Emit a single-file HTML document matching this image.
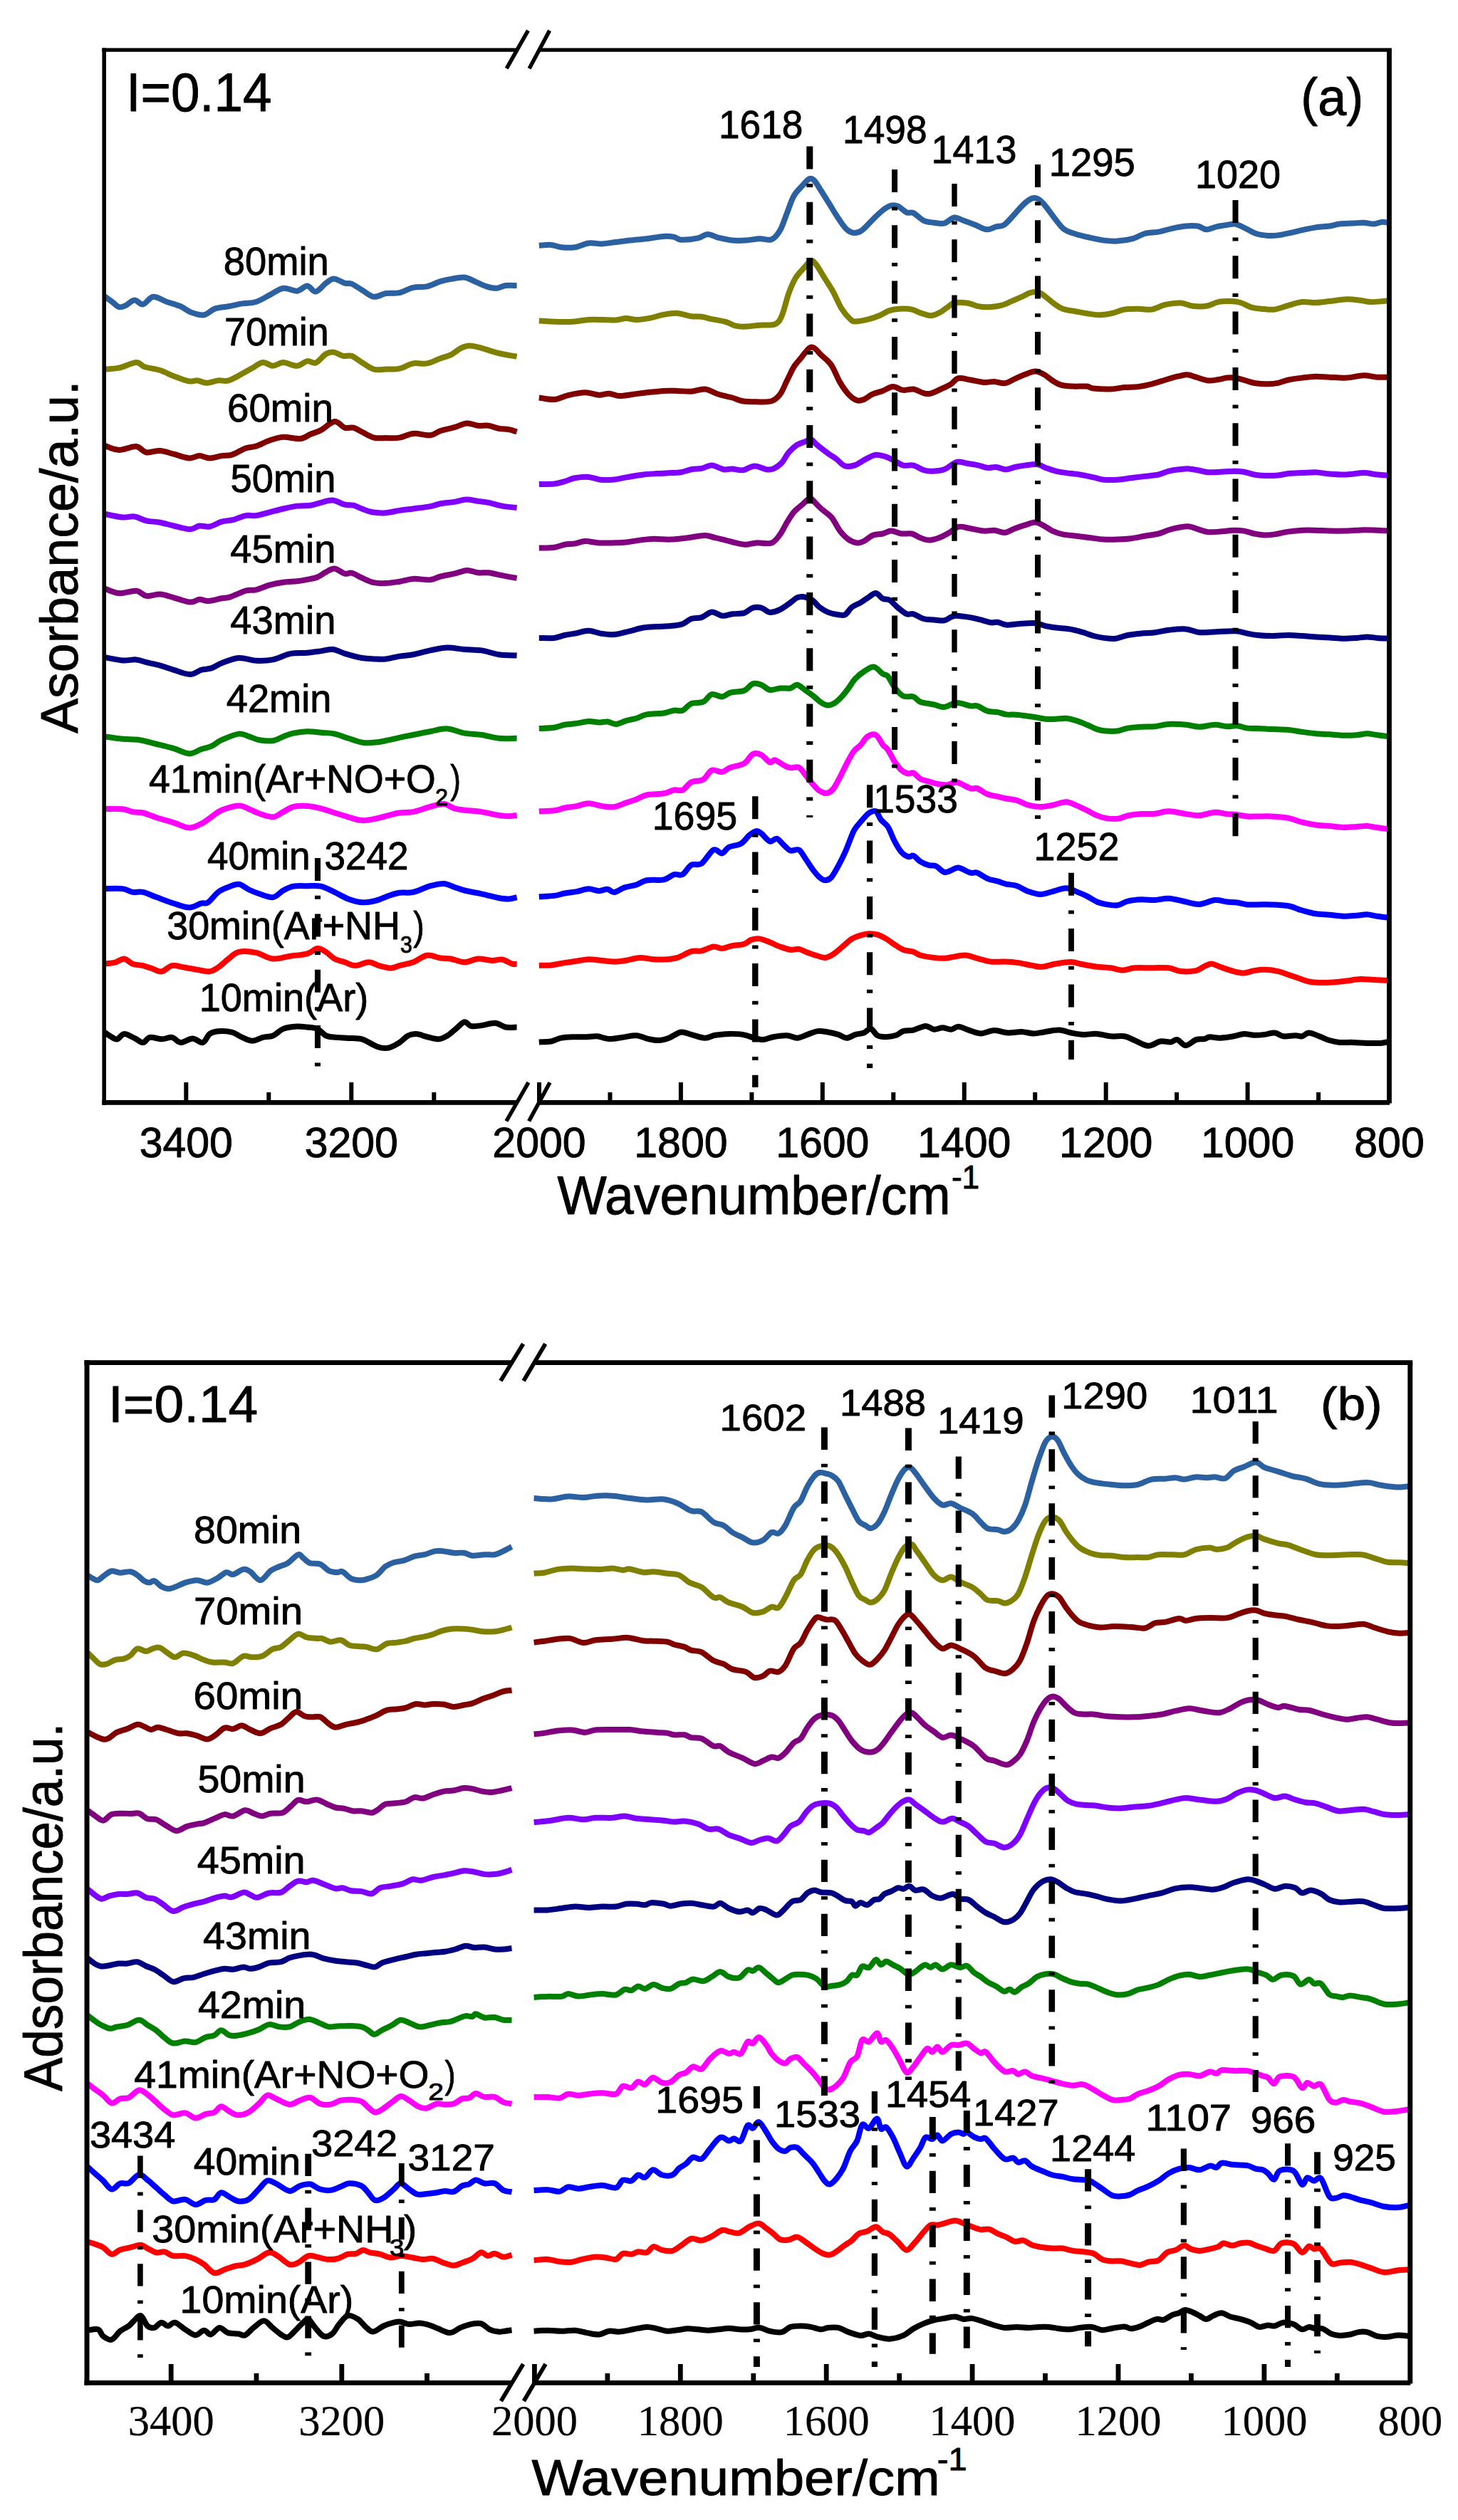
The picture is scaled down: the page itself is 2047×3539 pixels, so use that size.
<!DOCTYPE html>
<html><head><meta charset="utf-8"><title>figure</title>
<style>html,body{margin:0;padding:0;background:#fff}svg{display:block}text{fill:#000;stroke:#000;stroke-width:0.9px;stroke-linejoin:round}.s{font-family:"Liberation Sans",sans-serif}.t{font-family:"Liberation Serif",serif;stroke-width:0.2px}</style></head>
<body>
<svg width="2047" height="3539" viewBox="0 0 2047 3539">
<rect width="2047" height="3539" fill="#fff"/>
<g fill="none" stroke-linejoin="round" stroke-linecap="butt">
<path stroke="#2b60a1" stroke-width="8" d="M146.6,415.9 C148.4,417.2 154.2,421.4 157.6,424 C161.0,426.6 164.0,430.4 167.2,431.2 C170.4,432.0 173.2,430.4 176.8,428.8 C180.4,427.2 184.8,421.8 188.8,421.6 C192.8,421.4 196.4,428.2 200.8,427.4 C205.2,426.6 209.6,417.4 215.2,416.8 C220.8,416.2 228.0,421.8 234.4,424 C240.8,426.2 248.0,427.9 253.6,430.3 C259.2,432.7 262.6,436.4 268,438.4 C273.4,440.4 280.7,443.1 286.3,442.3 C291.9,441.5 295.8,435.6 301.6,433.6 C307.4,431.6 314.5,431.5 320.9,430.3 C327.3,429.1 333.7,427.4 340.1,426.4 C346.5,425.3 352.9,426.0 359.3,424 C365.7,422.0 372.1,417.6 378.5,414.4 C384.9,411.2 391.3,405.8 397.7,404.8 C404.1,403.9 411.3,409.2 416.9,408.7 C422.5,408.1 426.9,401.4 431.3,401.5 C435.7,401.6 438.9,410.2 443.3,409.6 C447.7,409.0 453.5,400.6 457.7,397.6 C461.9,394.6 464.3,391.4 468.7,391.4 C473.1,391.4 479.9,396.4 484.1,397.6 C488.3,398.8 489.7,397.0 493.7,398.6 C497.7,400.2 502.9,404.2 508.1,407.2 C513.3,410.2 519.3,416.0 524.9,416.8 C530.5,417.6 535.7,412.9 541.7,412 C547.7,411.1 554.5,412.5 560.9,411.1 C567.3,409.8 573.7,405.3 580.1,403.9 C586.5,402.4 592.9,403.8 599.3,402.4 C605.7,400.9 612.9,396.9 618.5,395.2 C624.1,393.4 627.3,392.8 632.9,391.9 C638.5,390.9 646.5,388.9 652.1,389.5 C657.7,390.1 661.3,393.1 666.5,395.2 C671.7,397.3 678.1,400.8 683.3,402.4 C688.5,404.0 693.3,405.0 697.7,404.8 C702.1,404.6 705.1,401.6 709.7,401 C714.4,400.4 723.0,401.0 725.6,401"/>
<path stroke="#808000" stroke-width="8" d="M146.6,518.6 C150.0,518.3 159.8,518.3 167.2,516.7 C174.6,515.1 185.2,509.2 191.2,509 C197.2,508.8 197.6,513.4 203.2,515.2 C208.8,517.0 218.0,517.8 224.8,520 C231.6,522.2 237.2,525.6 244,528.2 C250.8,530.8 260.0,534.4 265.6,535.4 C271.2,536.4 273.6,534.0 277.6,534.4 C281.6,534.8 284.8,537.8 289.6,537.8 C294.4,537.8 301.2,535.0 306.4,534.4 C311.6,533.8 315.3,536.0 320.9,534.4 C326.5,532.8 334.5,527.8 340.1,524.8 C345.7,521.8 349.7,519.3 354.5,516.7 C359.3,514.1 364.1,509.5 368.9,509 C373.7,508.5 378.5,513.8 383.3,513.8 C388.1,513.8 392.1,509.0 397.7,509 C403.3,509.0 411.3,514.1 416.9,513.8 C422.5,513.5 426.9,507.8 431.3,507.1 C435.7,506.4 438.9,511.2 443.3,509.5 C447.7,507.8 453.5,499.5 457.7,497 C461.9,494.5 464.7,494.1 468.7,494.6 C472.7,495.1 477.5,499.0 481.7,499.9 C485.9,500.8 489.3,498.4 493.7,499.9 C498.1,501.4 502.9,505.9 508.1,509 C513.3,512.1 519.3,517.0 524.9,518.6 C530.5,520.2 535.7,518.8 541.7,518.6 C547.7,518.4 554.5,519.0 560.9,517.6 C567.3,516.2 573.7,511.6 580.1,510.4 C586.5,509.2 592.9,511.6 599.3,510.4 C605.7,509.2 612.9,505.2 618.5,503.2 C624.1,501.2 628.1,500.8 632.9,498.4 C637.7,496.0 642.9,490.9 647.3,488.8 C651.7,486.7 654.5,485.5 659.3,485.5 C664.1,485.5 669.3,487.1 676.1,488.8 C682.9,490.6 691.9,494.0 700.1,496 C708.4,498.0 721.4,500.0 725.6,500.8"/>
<path stroke="#800000" stroke-width="8" d="M146.6,625.7 C150.0,626.7 159.8,631.7 167.2,631.9 C174.6,632.1 184.8,626.5 191.2,627.1 C197.6,627.7 200.0,634.3 205.6,635.3 C211.2,636.3 218.4,632.5 224.8,632.9 C231.2,633.3 237.2,636.0 244,637.7 C250.8,639.5 259.6,643.0 265.6,643.4 C271.6,643.8 275.2,640.1 280,640.1 C284.8,640.1 289.2,643.4 294.4,643.4 C299.6,643.4 306.0,640.9 311.2,640.1 C316.4,639.3 320.1,640.4 325.7,638.6 C331.3,636.8 339.3,631.5 344.9,629.5 C350.5,627.5 353.7,628.4 359.3,626.6 C364.9,624.8 372.1,620.6 378.5,618.5 C384.9,616.4 390.5,614.1 397.7,613.7 C404.9,613.3 415.3,616.8 421.7,616.1 C428.1,615.5 431.3,611.8 436.1,609.8 C440.9,607.8 444.9,607.0 450.5,604.1 C456.1,601.2 464.1,592.7 469.7,592.1 C475.3,591.5 479.7,599.3 484.1,600.7 C488.5,602.1 492.1,599.7 496.1,600.7 C500.1,601.7 503.3,604.2 508.1,606.5 C512.9,608.8 519.3,613.2 524.9,614.6 C530.5,616.0 535.7,615.1 541.7,615.1 C547.7,615.1 554.5,615.6 560.9,614.6 C567.3,613.6 572.9,609.5 580.1,608.9 C587.3,608.3 597.7,611.9 604.1,611.3 C610.5,610.6 612.9,606.9 618.5,605 C624.1,603.1 631.5,602.0 637.7,600.2 C643.9,598.5 649.9,594.9 655.5,594.5 C661.1,594.1 666.3,597.2 671.3,597.8 C676.3,598.3 680.9,597.1 685.7,597.8 C690.5,598.4 695.3,600.8 700.1,601.7 C704.9,602.6 710.2,602.3 714.5,603.1 C718.8,603.9 723.8,605.9 725.6,606.5"/>
<path stroke="#8000ff" stroke-width="8" d="M146.6,721.7 C150.8,722.5 165.0,725.9 172,726.5 C179.0,727.1 183.2,724.7 188.8,725.5 C194.4,726.3 199.6,729.9 205.6,731.3 C211.6,732.7 218.4,732.5 224.8,733.7 C231.2,734.9 236.9,736.9 244,738.5 C251.1,740.1 261.1,743.3 267.1,743.3 C273.1,743.3 275.4,739.1 280,738.5 C284.6,737.9 289.2,740.5 294.4,739.5 C299.6,738.5 305.6,734.3 311.2,732.7 C316.8,731.1 322.5,731.2 328.1,729.8 C333.7,728.4 339.7,725.0 344.9,724.1 C350.1,723.2 353.7,724.9 359.3,724.1 C364.9,723.3 372.1,720.9 378.5,719.3 C384.9,717.7 391.3,716.0 397.7,714.5 C404.1,713.0 410.5,711.4 416.9,710.6 C423.3,709.8 430.5,710.5 436.1,709.7 C441.7,708.9 445.3,707.0 450.5,705.8 C455.7,704.6 461.7,702.0 467.3,702.5 C472.9,703.0 479.3,707.5 484.1,708.7 C488.9,709.9 492.1,708.7 496.1,709.7 C500.1,710.7 503.7,712.9 508.1,714.5 C512.5,716.1 516.9,718.3 522.5,719.3 C528.1,720.2 535.3,720.6 541.7,720.2 C548.1,719.8 554.5,717.9 560.9,716.9 C567.3,715.9 572.9,715.5 580.1,714.5 C587.3,713.5 597.7,712.3 604.1,711.1 C610.5,709.9 612.9,708.3 618.5,707.3 C624.1,706.3 631.7,705.9 637.7,704.9 C643.7,703.9 648.9,701.7 654.5,701.5 C660.1,701.3 666.1,703.2 671.3,703.9 C676.5,704.6 680.1,704.7 685.7,705.8 C691.3,706.9 698.2,709.4 704.9,710.6 C711.5,711.8 722.1,712.6 725.6,713"/>
<path stroke="#800080" stroke-width="8" d="M146.6,826.4 C150.0,827.5 159.8,832.5 167.2,833.1 C174.6,833.7 184.8,829.1 191.2,829.7 C197.6,830.3 200.0,836.1 205.6,836.9 C211.2,837.7 218.4,834.1 224.8,834.5 C231.2,834.9 236.9,837.4 244,839.3 C251.1,841.1 261.1,845.2 267.1,845.6 C273.1,846.0 275.9,842.0 280,841.7 C284.1,841.5 286.8,844.3 292,844.1 C297.2,843.9 306.0,841.2 311.2,840.3 C316.4,839.3 317.7,840.2 323.3,838.4 C328.9,836.6 338.9,831.4 344.9,829.7 C350.9,828.0 353.7,829.6 359.3,828.3 C364.9,826.9 372.1,823.4 378.5,821.6 C384.9,819.8 391.3,818.6 397.7,817.7 C404.1,816.8 411.3,816.9 416.9,816.3 C422.5,815.7 426.5,814.9 431.3,813.9 C436.1,812.9 441.3,812.3 445.7,810.5 C450.1,808.7 453.7,805.3 457.7,803.3 C461.7,801.3 465.3,798.1 469.7,798.5 C474.1,798.9 480.1,804.7 484.1,805.7 C488.1,806.7 489.7,803.7 493.7,804.7 C497.7,805.7 502.9,809.2 508.1,811.5 C513.3,813.8 519.3,816.9 524.9,818.2 C530.5,819.5 535.7,819.4 541.7,819.1 C547.7,818.9 554.5,817.7 560.9,816.7 C567.3,815.7 572.9,813.3 580.1,812.9 C587.3,812.5 597.7,814.9 604.1,814.3 C610.5,813.7 612.9,810.9 618.5,809.5 C624.1,808.1 631.5,807.1 637.7,805.7 C643.9,804.3 649.9,801.1 655.5,800.9 C661.1,800.7 666.3,803.7 671.3,804.3 C676.3,804.9 680.1,803.7 685.7,804.3 C691.3,804.9 698.2,806.8 704.9,808.1 C711.5,809.4 722.1,811.3 725.6,811.9"/>
<path stroke="#000080" stroke-width="8" d="M146.6,923 C150.8,923.7 164.6,926.8 172,927.4 C179.4,928.0 185.6,925.9 191.2,926.4 C196.8,926.9 200.0,928.8 205.6,930.2 C211.2,931.6 218.4,932.8 224.8,934.6 C231.2,936.4 236.9,938.7 244,940.8 C251.1,942.9 260.7,947.1 267.1,947.1 C273.5,947.1 277.4,942.2 282.4,940.8 C287.3,939.3 292.0,940.0 296.8,938.4 C301.6,936.8 304.8,933.6 311.2,931.2 C317.6,928.8 327.3,924.6 335.3,924 C343.3,923.4 351.3,927.4 359.3,927.8 C367.3,928.2 375.3,928.0 383.3,926.4 C391.3,924.8 399.3,919.8 407.3,918.2 C415.3,916.6 424.1,917.4 431.3,916.8 C438.5,916.2 444.5,915.2 450.5,914.4 C456.5,913.6 461.7,911.4 467.3,912 C472.9,912.6 477.3,915.8 484.1,917.8 C490.9,919.8 501.3,922.7 508.1,924 C514.9,925.3 519.3,925.2 524.9,925.4 C530.5,925.6 535.7,926.0 541.7,925.4 C547.7,924.8 554.5,922.6 560.9,921.6 C567.3,920.6 572.9,920.6 580.1,919.2 C587.3,917.8 596.1,915.0 604.1,913.4 C612.1,911.8 620.1,909.8 628.1,909.6 C636.1,909.4 644.1,911.4 652.1,912 C660.1,912.6 668.1,912.2 676.1,913.4 C684.1,914.6 691.9,918.0 700.1,919.2 C708.4,920.4 721.4,920.4 725.6,920.6"/>
<path stroke="#008000" stroke-width="8" d="M146.6,1034.4 C150.8,1035.0 163.8,1037.0 172,1037.8 C180.2,1038.6 188.0,1038.0 196,1039.2 C204.0,1040.4 212.0,1043.0 220,1045 C228.0,1047.0 236.4,1049.0 244,1051.2 C251.6,1053.4 259.2,1058.2 265.6,1058.4 C272.0,1058.6 277.2,1054.0 282.4,1052.2 C287.6,1050.5 292.0,1050.1 296.8,1047.9 C301.6,1045.7 304.8,1042.1 311.2,1039.2 C317.6,1036.3 328.9,1031.4 335.3,1030.6 C341.7,1029.8 344.9,1033.0 349.7,1034.4 C354.5,1035.8 358.5,1038.2 364.1,1039.2 C369.7,1040.2 377.7,1041.0 383.3,1040.2 C388.9,1039.4 392.9,1036.2 397.7,1034.4 C402.5,1032.6 406.5,1030.8 412.1,1029.6 C417.7,1028.4 424.9,1027.3 431.3,1027.2 C437.7,1027.1 444.1,1028.1 450.5,1028.7 C456.9,1029.3 463.3,1029.2 469.7,1030.6 C476.1,1031.9 482.5,1034.8 488.9,1036.8 C495.3,1038.8 501.7,1041.6 508.1,1042.6 C514.5,1043.6 520.9,1043.2 527.3,1042.6 C533.7,1042.0 540.9,1040.3 546.5,1039.2 C552.1,1038.1 555.3,1037.1 560.9,1035.9 C566.5,1034.7 572.9,1033.5 580.1,1032 C587.3,1030.5 596.1,1028.6 604.1,1027.2 C612.1,1025.8 620.1,1023.0 628.1,1023.4 C636.1,1023.8 644.1,1028.2 652.1,1029.6 C660.1,1031.0 668.1,1030.8 676.1,1032 C684.1,1033.2 691.9,1036.0 700.1,1036.8 C708.4,1037.6 721.4,1036.8 725.6,1036.8"/>
<path stroke="#ff00ff" stroke-width="8" d="M146.6,1136.2 C150.8,1136.2 165.4,1135.6 172,1136.2 C178.6,1136.8 181.6,1139.2 186.4,1140.1 C191.2,1141.0 195.2,1140.2 200.8,1141.5 C206.4,1142.8 212.8,1145.9 220,1148.2 C227.2,1150.5 236.4,1153.0 244,1155.4 C251.6,1157.8 259.2,1162.3 265.6,1162.6 C272.0,1162.8 277.2,1159.5 282.4,1156.9 C287.6,1154.4 292.0,1150.5 296.8,1147.3 C301.6,1144.1 304.8,1140.3 311.2,1137.7 C317.6,1135.1 328.9,1131.7 335.3,1131.4 C341.7,1131.2 344.9,1134.4 349.7,1136.2 C354.5,1138.0 358.5,1140.7 364.1,1142.5 C369.7,1144.3 377.7,1147.7 383.3,1147.3 C388.9,1146.9 392.9,1142.5 397.7,1140.1 C402.5,1137.7 406.5,1134.3 412.1,1132.9 C417.7,1131.5 424.9,1131.5 431.3,1131.9 C437.7,1132.3 444.1,1133.7 450.5,1135.3 C456.9,1136.9 463.3,1139.5 469.7,1141.5 C476.1,1143.5 482.5,1145.5 488.9,1147.3 C495.3,1149.1 501.7,1151.7 508.1,1152.1 C514.5,1152.5 520.9,1150.9 527.3,1149.7 C533.7,1148.5 540.9,1146.3 546.5,1144.9 C552.1,1143.5 555.3,1142.3 560.9,1141.5 C566.5,1140.7 572.9,1141.5 580.1,1140.1 C587.3,1138.7 596.9,1134.8 604.1,1132.9 C611.3,1131.1 617.7,1128.6 623.3,1129 C628.9,1129.4 632.9,1133.8 637.7,1135.3 C642.5,1136.8 645.7,1136.9 652.1,1137.7 C658.5,1138.5 668.1,1138.9 676.1,1140.1 C684.1,1141.3 693.7,1143.9 700.1,1144.9 C706.5,1145.9 710.2,1146.3 714.5,1146.3 C718.8,1146.3 723.8,1145.1 725.6,1144.9"/>
<path stroke="#0000ff" stroke-width="8" d="M146.6,1248.1 C150.8,1248.1 165.4,1247.3 172,1248.1 C178.6,1248.9 181.6,1252.1 186.4,1252.9 C191.2,1253.7 195.2,1251.7 200.8,1252.9 C206.4,1254.1 212.8,1257.5 220,1260.1 C227.2,1262.7 236.4,1266.3 244,1268.7 C251.6,1271.1 259.2,1274.5 265.6,1274.5 C272.0,1274.5 278.0,1269.9 282.4,1268.7 C286.8,1267.5 288.0,1269.9 292,1267.3 C296.0,1264.7 301.6,1256.5 306.4,1252.9 C311.2,1249.3 316.1,1247.6 320.9,1245.7 C325.7,1243.8 330.5,1241.2 335.3,1241.8 C340.1,1242.4 344.9,1247.2 349.7,1249.5 C354.5,1251.8 358.5,1253.5 364.1,1255.3 C369.7,1257.1 377.7,1260.9 383.3,1260.1 C388.9,1259.3 392.9,1253.1 397.7,1250.5 C402.5,1247.9 406.5,1245.8 412.1,1244.7 C417.7,1243.7 424.9,1244.2 431.3,1244.2 C437.7,1244.2 444.1,1243.2 450.5,1244.7 C456.9,1246.2 463.3,1249.9 469.7,1252.9 C476.1,1255.9 482.5,1260.1 488.9,1262.5 C495.3,1264.9 501.7,1266.9 508.1,1267.3 C514.5,1267.7 520.9,1266.5 527.3,1264.9 C533.7,1263.3 540.9,1259.6 546.5,1257.7 C552.1,1255.8 555.3,1254.6 560.9,1253.8 C566.5,1253.0 572.9,1254.5 580.1,1252.9 C587.3,1251.3 596.9,1246.2 604.1,1244.2 C611.3,1242.2 617.7,1240.7 623.3,1240.9 C628.9,1241.2 632.9,1244.1 637.7,1245.7 C642.5,1247.3 645.7,1248.9 652.1,1250.5 C658.5,1252.1 668.1,1253.5 676.1,1255.3 C684.1,1257.0 693.7,1259.8 700.1,1261 C706.5,1262.2 710.2,1262.7 714.5,1262.5 C718.8,1262.3 723.8,1260.5 725.6,1260.1"/>
<path stroke="#ff0000" stroke-width="8" d="M146.6,1353.7 C149.2,1353.3 157.8,1352.5 162.4,1351.3 C167.0,1350.1 170.4,1346.1 174.4,1346.5 C178.4,1346.9 182.0,1352.1 186.4,1353.7 C190.8,1355.3 196.0,1354.9 200.8,1356.1 C205.6,1357.3 210.8,1359.5 215.2,1360.9 C219.6,1362.3 222.8,1365.1 227.2,1364.3 C231.6,1363.5 236.4,1357.1 241.6,1356.1 C246.8,1355.1 252.4,1357.5 258.4,1358.5 C264.4,1359.5 271.6,1360.9 277.6,1361.9 C283.6,1362.9 289.6,1364.9 294.4,1364.3 C299.2,1363.7 302.0,1361.5 306.4,1358.5 C310.8,1355.5 316.1,1350.1 320.9,1346.5 C325.7,1342.9 328.9,1338.3 335.3,1336.9 C341.7,1335.5 351.3,1336.3 359.3,1337.9 C367.3,1339.5 375.3,1345.7 383.3,1346.5 C391.3,1347.3 399.3,1343.9 407.3,1342.7 C415.3,1341.5 424.9,1341.1 431.3,1339.3 C437.7,1337.5 441.3,1332.5 445.7,1332.1 C450.1,1331.7 453.7,1334.5 457.7,1336.9 C461.7,1339.3 465.3,1344.1 469.7,1346.5 C474.1,1348.9 479.3,1349.7 484.1,1351.3 C488.9,1352.9 492.9,1356.1 498.5,1356.1 C504.1,1356.1 512.1,1351.3 517.7,1351.3 C523.3,1351.3 526.9,1354.7 532.1,1356.1 C537.3,1357.5 544.1,1359.5 548.9,1359.5 C553.7,1359.5 555.7,1357.5 560.9,1356.1 C566.1,1354.7 573.7,1353.7 580.1,1351.3 C586.5,1348.9 592.9,1342.7 599.3,1341.7 C605.7,1340.7 612.9,1344.7 618.5,1345.5 C624.1,1346.3 627.3,1345.5 632.9,1346.5 C638.5,1347.5 645.7,1351.3 652.1,1351.3 C658.5,1351.3 664.9,1346.9 671.3,1346.5 C677.7,1346.1 684.9,1348.7 690.5,1348.9 C696.1,1349.1 700.1,1346.7 704.9,1347.5 C709.7,1348.3 715.8,1352.7 719.3,1353.7 C722.8,1354.7 724.5,1353.7 725.6,1353.7"/>
<path stroke="#000000" stroke-width="8" d="M146.6,1449.7 C148.4,1450.9 154.6,1455.3 157.6,1456.9 C160.6,1458.5 162.0,1460.1 164.8,1459.3 C167.6,1458.5 170.4,1452.3 174.4,1452.1 C178.4,1451.9 184.4,1455.9 188.8,1457.9 C193.2,1459.9 197.2,1464.3 200.8,1464.1 C204.4,1463.9 206.0,1457.7 210.4,1456.9 C214.8,1456.1 222.0,1459.3 227.2,1459.3 C232.4,1459.3 237.2,1456.1 241.6,1456.9 C246.0,1457.7 248.8,1463.8 253.6,1464.1 C258.4,1464.3 265.2,1458.4 270.4,1458.4 C275.6,1458.4 280.8,1465.1 284.8,1464.1 C288.8,1463.0 290.8,1454.7 294.4,1452.1 C298.0,1449.5 301.2,1448.7 306.4,1448.3 C311.6,1447.9 320.1,1448.3 325.7,1449.7 C331.3,1451.1 335.3,1454.9 340.1,1456.9 C344.9,1458.9 349.7,1461.7 354.5,1461.7 C359.3,1461.7 364.1,1458.1 368.9,1456.9 C373.7,1455.7 378.5,1456.5 383.3,1454.5 C388.1,1452.5 392.1,1447.1 397.7,1444.9 C403.3,1442.8 411.3,1442.0 416.9,1441.6 C422.5,1441.2 426.5,1442.0 431.3,1442.5 C436.1,1443.0 441.3,1442.9 445.7,1444.9 C450.1,1446.9 453.3,1452.5 457.7,1454.5 C462.1,1456.5 466.9,1456.3 472.1,1456.9 C477.3,1457.5 482.9,1457.5 488.9,1457.9 C494.9,1458.3 502.5,1457.9 508.1,1459.3 C513.7,1460.7 518.1,1464.5 522.5,1466.5 C526.9,1468.5 530.5,1470.5 534.5,1471.3 C538.5,1472.1 542.1,1472.5 546.5,1471.3 C550.9,1470.1 556.5,1466.9 560.9,1464.1 C565.3,1461.3 568.9,1456.5 572.9,1454.5 C576.9,1452.5 580.5,1451.8 584.9,1452.1 C589.3,1452.3 594.1,1454.8 599.3,1456 C604.5,1457.2 611.3,1459.5 616.1,1459.3 C620.9,1459.0 624.1,1456.9 628.1,1454.5 C632.1,1452.1 636.1,1448.1 640.1,1444.9 C644.1,1441.7 648.5,1435.9 652.1,1435.3 C655.7,1434.7 657.7,1440.3 661.7,1441.1 C665.7,1441.9 670.5,1440.8 676.1,1440.1 C681.7,1439.4 689.7,1436.4 695.3,1436.8 C700.9,1437.2 704.7,1441.5 709.7,1442.5 C714.8,1443.5 723.0,1442.5 725.6,1442.5"/>
<path stroke="#2b60a1" stroke-width="8" d="M756.8,344.8 C759.6,344.6 768.4,343.5 773.6,343.9 C778.8,344.3 782.4,346.6 788,347.2 C793.6,347.8 800.8,348.1 807.2,347.2 C813.6,346.2 820.0,342.3 826.4,341.5 C832.8,340.7 839.2,342.6 845.6,342.4 C852.0,342.1 858.4,340.8 864.8,340 C871.2,339.2 876.8,338.4 884,337.6 C891.2,336.8 900.0,336.1 908,335.2 C916.0,334.2 925.6,332.3 932,331.9 C938.4,331.5 942.4,332.0 946.4,332.8 C950.4,333.6 950.4,336.4 956,336.7 C961.6,336.9 973.9,335.6 980.1,334.3 C986.4,333.0 988.7,329.1 993.5,329 C998.3,328.9 1003.1,332.4 1008.9,333.8 C1014.7,335.2 1021.7,337.0 1028.1,337.6 C1034.5,338.2 1040.9,338.0 1047.3,337.6 C1053.7,337.2 1060.5,335.4 1066.5,335.2 C1072.5,335.0 1078.5,338.2 1083.3,336.2 C1088.1,334.2 1091.7,329.4 1095.3,323.2 C1098.9,317.0 1101.7,307.2 1104.9,299.2 C1108.1,291.2 1110.9,281.6 1114.5,275.2 C1118.1,268.8 1122.9,264.8 1126.5,260.8 C1130.1,256.8 1133.3,252.4 1136.1,251.2 C1138.9,250.0 1140.5,250.8 1143.3,253.6 C1146.1,256.4 1149.3,262.4 1152.9,268 C1156.5,273.6 1160.9,280.8 1164.9,287.2 C1168.9,293.6 1172.9,300.5 1176.9,306.4 C1180.9,312.2 1185.1,318.9 1188.9,322.3 C1192.7,325.8 1196.3,327.0 1199.9,327.1 C1203.5,327.2 1206.3,326.2 1210.5,323.2 C1214.7,320.1 1220.1,313.4 1224.9,308.8 C1229.7,304.2 1234.9,298.8 1239.3,295.4 C1243.7,292.0 1247.7,289.7 1251.3,288.7 C1254.9,287.7 1257.3,288.0 1260.9,289.6 C1264.5,291.2 1269.3,296.7 1272.9,298.3 C1276.5,299.9 1278.5,297.3 1282.5,299.2 C1286.5,301.1 1292.1,307.6 1296.9,309.8 C1301.7,312.1 1306.5,312.1 1311.3,312.7 C1316.1,313.3 1321.0,314.8 1325.7,313.6 C1330.5,312.4 1335.3,306.1 1339.8,305.5 C1344.3,304.9 1347.8,308.1 1352.8,309.8 C1357.8,311.6 1364.1,313.9 1369.6,316 C1375.0,318.1 1380.7,321.9 1385.5,322.3 C1390.3,322.7 1394.4,319.4 1398.4,318.4 C1402.4,317.3 1405.5,318.6 1409.5,316 C1413.5,313.4 1417.9,307.9 1422.4,303.1 C1427.0,298.3 1432.4,291.3 1436.8,287.2 C1441.2,283.1 1445.2,279.8 1448.8,278.6 C1452.4,277.4 1455.2,278.2 1458.4,280 C1461.6,281.8 1464.0,284.8 1468,289.6 C1472.0,294.4 1478.0,303.4 1482.4,308.8 C1486.8,314.2 1489.6,318.9 1494.4,322.3 C1499.2,325.7 1505.2,327.1 1511.2,329 C1517.2,330.9 1524.1,332.4 1530.5,333.8 C1536.9,335.2 1543.3,336.8 1549.7,337.6 C1556.1,338.4 1562.1,339.0 1568.9,338.6 C1575.7,338.2 1584.1,337.0 1590.5,335.2 C1596.9,333.4 1601.3,329.6 1607.3,328 C1613.3,326.4 1620.1,326.8 1626.5,325.6 C1632.9,324.4 1639.3,322.2 1645.7,320.8 C1652.1,319.4 1658.9,318.1 1664.9,317.5 C1670.9,316.9 1676.9,316.7 1681.7,317.5 C1686.5,318.3 1689.3,322.2 1693.7,322.3 C1698.1,322.4 1703.3,319.4 1708.1,318.4 C1712.9,317.3 1718.1,316.6 1722.5,316 C1726.9,315.4 1730.1,313.8 1734.5,314.6 C1738.9,315.4 1744.1,318.6 1748.9,320.8 C1753.7,323.0 1758.1,326.3 1763.3,328 C1768.5,329.7 1774.9,330.5 1780.1,330.9 C1785.3,331.3 1788.9,331.1 1794.5,330.4 C1800.1,329.7 1808.1,327.8 1813.7,326.6 C1819.3,325.4 1822.5,324.4 1828.1,323.2 C1833.7,322.0 1840.9,320.3 1847.3,319.4 C1853.7,318.4 1860.9,318.3 1866.5,317.5 C1872.1,316.7 1875.3,315.2 1880.9,314.6 C1886.5,314.0 1894.5,313.9 1900.1,313.6 C1905.7,313.3 1909.7,312.5 1914.5,312.7 C1919.3,312.9 1924.5,314.8 1928.9,314.6 C1933.3,314.4 1937.1,311.9 1940.9,311.7 C1944.8,311.5 1950.2,313.3 1952,313.6"/>
<path stroke="#808000" stroke-width="8" d="M756.8,450.5 C762.0,450.7 779.6,451.8 788,451.9 C796.4,452.0 800.8,451.9 807.2,451.4 C813.6,450.9 820.0,449.4 826.4,449 C832.8,448.6 839.2,448.9 845.6,449 C852.0,449.1 859.2,449.8 864.8,449.5 C870.4,449.2 874.4,447.2 879.2,447.1 C884.0,447.0 888.0,449.1 893.6,449 C899.2,448.9 906.4,447.8 912.8,446.6 C919.2,445.4 925.6,442.9 932,441.8 C938.4,440.7 944.8,439.5 951.2,439.9 C957.6,440.3 964.9,443.4 970.5,444.2 C976.1,445.0 980.1,444.0 984.9,444.7 C989.7,445.4 993.7,446.9 999.3,448.1 C1004.9,449.3 1012.9,450.3 1018.5,451.9 C1024.1,453.5 1028.1,456.6 1032.9,457.7 C1037.7,458.8 1041.7,458.8 1047.3,458.6 C1052.9,458.4 1059.7,457.2 1066.5,456.7 C1073.3,456.1 1082.9,457.5 1088.1,455.3 C1093.3,453.1 1094.5,450.5 1097.7,443.3 C1100.9,436.1 1104.1,420.9 1107.3,412.1 C1110.5,403.3 1113.3,396.5 1116.9,390.5 C1120.5,384.5 1125.3,380.0 1128.9,376 C1132.5,372.0 1135.7,367.2 1138.5,366.4 C1141.3,365.6 1142.5,367.2 1145.7,371.2 C1148.9,375.2 1153.7,384.1 1157.7,390.5 C1161.7,396.9 1165.7,402.5 1169.7,409.7 C1173.7,416.9 1177.7,427.3 1181.7,433.7 C1185.7,440.1 1190.5,445.2 1193.7,448.1 C1196.9,451.1 1196.5,451.4 1200.9,451.4 C1205.3,451.4 1214.5,449.5 1220.1,448.1 C1225.7,446.8 1229.7,445.3 1234.5,443.3 C1239.3,441.3 1244.1,437.7 1248.9,436.1 C1253.7,434.5 1258.1,433.9 1263.3,433.7 C1268.5,433.4 1275.3,433.7 1280.1,434.6 C1284.9,435.6 1287.7,437.9 1292.1,439.4 C1296.5,440.8 1302.1,443.3 1306.5,443.3 C1310.9,443.3 1314.5,441.4 1318.5,439.4 C1322.5,437.4 1327.0,433.6 1330.5,431.3 C1334.0,429.0 1335.3,426.5 1339.8,425.5 C1344.3,424.5 1352.2,424.8 1357.6,425.5 C1363.0,426.2 1367.2,428.8 1372,429.8 C1376.8,430.8 1380.8,431.5 1386.4,431.3 C1392.0,431.1 1400.0,430.3 1405.6,428.9 C1411.2,427.5 1415.2,425.1 1420,423.1 C1424.8,421.1 1430.0,418.9 1434.4,416.9 C1438.8,414.9 1442.4,412.2 1446.4,411.1 C1450.4,410.1 1454.8,409.6 1458.4,410.6 C1462.0,411.6 1464.4,414.2 1468,416.9 C1471.6,419.5 1476.0,423.7 1480,426.5 C1484.0,429.3 1486.8,431.9 1492,433.7 C1497.2,435.5 1504.8,436.3 1511.2,437.5 C1517.6,438.7 1524.9,440.1 1530.5,440.9 C1536.1,441.7 1539.7,442.5 1544.9,442.3 C1550.1,442.1 1556.1,441.2 1561.7,439.9 C1567.3,438.6 1572.5,435.6 1578.5,434.6 C1584.5,433.6 1591.3,433.7 1597.7,433.7 C1604.1,433.7 1610.5,435.6 1616.9,434.6 C1623.3,433.6 1629.3,429.4 1636.1,427.9 C1642.9,426.4 1651.3,425.2 1657.7,425.5 C1664.1,425.8 1668.5,429.1 1674.5,429.8 C1680.5,430.5 1687.7,430.8 1693.7,429.8 C1699.7,428.9 1704.9,425.2 1710.5,424.1 C1716.1,423.0 1722.1,423.0 1727.3,423.1 C1732.5,423.2 1736.9,423.6 1741.7,425 C1746.5,426.4 1751.3,429.9 1756.1,431.3 C1760.9,432.8 1764.9,433.1 1770.5,433.7 C1776.1,434.2 1783.3,435.4 1789.7,434.6 C1796.1,433.8 1802.5,430.6 1808.9,428.9 C1815.3,427.1 1821.7,424.8 1828.1,424.1 C1834.5,423.5 1840.9,425.2 1847.3,425 C1853.7,424.8 1859.3,423.9 1866.5,423.1 C1873.7,422.3 1883.3,420.4 1890.5,420.2 C1897.7,420.0 1904.1,421.0 1909.7,421.7 C1915.3,422.4 1918.9,423.9 1924.1,424.1 C1929.3,424.3 1936.2,423.5 1940.9,423.1 C1945.6,422.7 1950.2,421.9 1952,421.7"/>
<path stroke="#800000" stroke-width="8" d="M756.8,558.5 C760.4,558.9 771.6,561.5 778.4,560.9 C785.2,560.3 790.4,556.7 797.6,555.1 C804.8,553.5 814.4,551.4 821.6,551.3 C828.8,551.2 835.2,554.5 840.8,554.7 C846.4,554.9 850.4,552.5 855.2,552.7 C860.0,552.9 864.0,555.9 869.6,556.1 C875.2,556.3 882.4,554.5 888.8,553.7 C895.2,552.9 900.8,552.1 908,551.3 C915.2,550.5 924.8,549.3 932,548.9 C939.2,548.5 944.8,548.8 951.2,548.9 C957.6,549.0 964.1,550.2 970.5,549.8 C976.9,549.4 983.3,545.9 989.7,546.5 C996.1,547.1 1002.5,551.7 1008.9,553.7 C1015.3,555.7 1022.5,556.9 1028.1,558.5 C1033.7,560.1 1036.9,562.3 1042.5,563.3 C1048.1,564.3 1054.9,564.3 1061.7,564.3 C1068.5,564.3 1077.7,565.1 1083.3,563.3 C1088.9,561.5 1091.7,558.5 1095.3,553.7 C1098.9,548.9 1101.7,540.9 1104.9,534.5 C1108.1,528.1 1111.3,520.5 1114.5,515.3 C1117.7,510.1 1120.5,507.7 1124.1,503.3 C1127.7,498.9 1132.9,491.3 1136.1,488.9 C1139.3,486.5 1140.5,487.3 1143.3,488.9 C1146.1,490.5 1148.9,494.5 1152.9,498.5 C1156.9,502.5 1162.9,506.5 1167.3,512.9 C1171.7,519.3 1175.3,530.1 1179.3,536.9 C1183.3,543.7 1187.3,549.5 1191.3,553.7 C1195.3,557.9 1199.7,561.1 1203.3,562.3 C1206.9,563.5 1209.3,562.3 1212.9,560.9 C1216.5,559.5 1220.5,555.7 1224.9,553.7 C1229.3,551.7 1234.5,550.7 1239.3,548.9 C1244.1,547.1 1248.9,543.3 1253.7,543.1 C1258.5,542.9 1263.3,547.3 1268.1,547.9 C1272.9,548.5 1277.7,545.8 1282.5,546.5 C1287.3,547.2 1292.9,551.2 1296.9,552.2 C1300.9,553.2 1302.5,553.7 1306.5,552.7 C1310.5,551.8 1316.1,548.7 1320.9,546.5 C1325.7,544.3 1331.2,541.9 1335.3,539.3 C1339.4,536.7 1341.1,532.1 1345.6,531.1 C1350.1,530.1 1356.4,532.5 1362.4,533.5 C1368.4,534.5 1376.0,536.5 1381.6,536.9 C1387.2,537.3 1391.2,535.7 1396,535.9 C1400.8,536.1 1405.6,538.9 1410.4,538.3 C1415.2,537.7 1420.0,534.2 1424.8,532.1 C1429.6,530.0 1434.4,527.6 1439.2,525.8 C1444.0,524.0 1449.2,521.5 1453.6,521.5 C1458.0,521.5 1461.6,523.6 1465.6,525.8 C1469.6,528.0 1473.6,532.0 1477.6,534.5 C1481.6,537.0 1484.8,539.4 1489.6,540.7 C1494.4,542.1 1500.4,542.3 1506.4,542.6 C1512.4,542.9 1520.9,542.1 1525.7,542.6 C1530.5,543.1 1529.7,544.9 1535.3,545.5 C1540.9,546.1 1552.1,546.7 1559.3,546.5 C1566.5,546.3 1572.1,544.7 1578.5,544.1 C1584.9,543.5 1591.3,543.9 1597.7,543.1 C1604.1,542.3 1610.5,540.9 1616.9,539.3 C1623.3,537.7 1629.7,535.4 1636.1,533.5 C1642.5,531.6 1650.1,529.4 1655.3,528.2 C1660.5,527.0 1663.3,526.0 1667.3,526.3 C1671.3,526.5 1674.5,528.3 1679.3,529.7 C1684.1,531.1 1690.9,534.0 1696.1,534.5 C1701.3,535.0 1706.1,533.6 1710.5,533 C1714.9,532.4 1718.5,531.0 1722.5,530.6 C1726.5,530.2 1730.1,530.0 1734.5,530.6 C1738.9,531.2 1744.1,533.2 1748.9,534.5 C1753.7,535.8 1758.1,537.5 1763.3,538.3 C1768.5,539.1 1774.9,539.4 1780.1,539.3 C1785.3,539.2 1789.7,538.8 1794.5,537.8 C1799.3,536.8 1803.3,534.7 1808.9,533.5 C1814.5,532.3 1821.7,531.4 1828.1,530.6 C1834.5,529.8 1840.9,528.9 1847.3,528.7 C1853.7,528.6 1859.3,529.4 1866.5,529.7 C1873.7,530.0 1882.5,531.0 1890.5,530.6 C1898.5,530.2 1907.3,527.4 1914.5,527.3 C1921.7,527.1 1927.5,529.3 1933.7,529.7 C1940.0,530.1 1949.0,529.7 1952,529.7"/>
<path stroke="#8000ff" stroke-width="8" d="M756.8,680 C760.4,679.9 772.4,680.1 778.4,679.5 C784.4,678.9 788.0,677.5 792.8,676.1 C797.6,674.7 801.6,672.3 807.2,671.3 C812.8,670.3 820.4,669.5 826.4,669.9 C832.4,670.3 837.6,673.1 843.2,673.7 C848.8,674.3 854.0,674.2 860,673.7 C866.0,673.2 872.0,671.6 879.2,670.4 C886.4,669.2 896.0,667.4 903.2,666.5 C910.4,665.6 916.0,665.5 922.4,665.1 C928.8,664.7 936.0,664.4 941.6,664.1 C947.2,663.8 951.2,664.0 956,663.2 C960.8,662.4 965.7,660.2 970.5,659.3 C975.3,658.4 980.1,658.8 984.9,657.9 C989.7,657.0 994.1,653.4 999.3,653.6 C1004.5,653.8 1011.3,658.5 1016.1,659.3 C1020.9,660.1 1023.7,658.2 1028.1,658.4 C1032.5,658.6 1037.3,660.9 1042.5,660.3 C1047.7,659.6 1053.7,654.7 1059.3,654.5 C1064.9,654.3 1071.7,658.6 1076.1,659.3 C1080.5,659.9 1082.1,660.0 1085.7,658.4 C1089.3,656.8 1094.1,653.6 1097.7,649.7 C1101.3,645.9 1103.7,639.5 1107.3,635.3 C1110.9,631.1 1115.3,627.3 1119.3,624.7 C1123.3,622.1 1128.1,621.2 1131.3,619.9 C1134.5,618.6 1135.7,616.1 1138.5,617.1 C1141.3,618.1 1144.1,622.4 1148.1,625.7 C1152.1,629.0 1158.1,633.5 1162.5,636.7 C1166.9,639.9 1170.5,641.9 1174.5,644.9 C1178.5,647.9 1182.1,653.1 1186.5,654.5 C1190.9,655.9 1196.1,654.7 1200.9,653.1 C1205.7,651.5 1210.5,647.3 1215.3,644.9 C1220.1,642.5 1224.9,639.2 1229.7,638.7 C1234.5,638.2 1239.7,640.2 1244.1,641.6 C1248.5,643.0 1252.1,645.3 1256.1,647.3 C1260.1,649.3 1263.7,652.5 1268.1,653.6 C1272.5,654.7 1277.7,652.5 1282.5,653.6 C1287.3,654.7 1292.5,658.9 1296.9,660.3 C1301.3,661.6 1304.1,661.9 1308.9,661.7 C1313.7,661.5 1320.0,661.4 1325.7,659.3 C1331.4,657.1 1337.9,650.2 1343.2,648.8 C1348.5,647.4 1352.8,650.0 1357.6,650.7 C1362.4,651.4 1367.2,652.1 1372,653.1 C1376.8,654.1 1382.0,656.4 1386.4,656.9 C1390.8,657.4 1394.0,655.6 1398.4,656 C1402.8,656.4 1408.4,659.3 1412.8,659.3 C1417.2,659.3 1420.4,657.0 1424.8,656 C1429.2,655.0 1434.0,654.2 1439.2,653.6 C1444.4,653.0 1451.2,651.6 1456,652.1 C1460.8,652.6 1463.6,655.3 1468,656.9 C1472.4,658.5 1477.6,660.5 1482.4,661.7 C1487.2,662.9 1491.2,663.3 1496.8,664.1 C1502.4,664.9 1509.6,665.5 1516,666.5 C1522.4,667.5 1529.7,669.2 1535.3,670.4 C1540.9,671.6 1544.1,673.2 1549.7,673.7 C1555.3,674.2 1562.5,674.1 1568.9,673.7 C1575.3,673.3 1581.7,672.1 1588.1,671.3 C1594.5,670.5 1600.9,669.7 1607.3,668.9 C1613.7,668.1 1620.9,667.7 1626.5,666.5 C1632.1,665.3 1636.1,662.9 1640.9,661.7 C1645.7,660.5 1650.5,659.8 1655.3,659.3 C1660.1,658.8 1664.9,658.1 1669.7,658.4 C1674.5,658.6 1679.7,660.0 1684.1,660.8 C1688.5,661.6 1691.3,662.9 1696.1,663.2 C1700.9,663.5 1706.9,663.0 1712.9,662.7 C1718.9,662.5 1726.5,661.7 1732.1,661.7 C1737.7,661.7 1741.7,661.9 1746.5,662.7 C1751.3,663.5 1756.1,665.6 1760.9,666.5 C1765.7,667.4 1769.7,667.8 1775.3,668 C1780.9,668.2 1788.9,668.0 1794.5,667.5 C1800.1,667.0 1803.3,665.7 1808.9,665.1 C1814.5,664.5 1821.7,664.4 1828.1,664.1 C1834.5,663.8 1840.9,663.0 1847.3,663.2 C1853.7,663.5 1859.3,665.1 1866.5,665.6 C1873.7,666.1 1882.5,666.8 1890.5,666.5 C1898.5,666.2 1907.3,664.1 1914.5,664.1 C1921.7,664.1 1927.5,665.9 1933.7,666.5 C1940.0,667.1 1949.0,667.8 1952,668"/>
<path stroke="#800080" stroke-width="8" d="M756.8,769.6 C760.4,769.5 772.4,769.5 778.4,768.7 C784.4,767.9 788.0,765.7 792.8,764.8 C797.6,763.9 802.4,764.2 807.2,763.4 C812.0,762.6 816.0,760.2 821.6,760 C827.2,759.8 834.4,762.0 840.8,762.4 C847.2,762.8 853.6,762.5 860,762.4 C866.4,762.2 872.8,762.1 879.2,761.5 C885.6,760.9 892.0,759.4 898.4,758.6 C904.8,757.8 910.4,756.9 917.6,756.7 C924.8,756.5 933.6,757.9 941.6,757.6 C949.6,757.4 957.7,756.2 965.7,755.2 C973.7,754.2 983.3,751.9 989.7,751.9 C996.1,751.9 999.3,754.1 1004.1,755.2 C1008.9,756.3 1013.7,757.4 1018.5,758.6 C1023.3,759.8 1028.1,761.4 1032.9,762.4 C1037.7,763.4 1042.5,764.8 1047.3,764.8 C1052.1,764.8 1055.7,762.8 1061.7,762.4 C1067.7,762.0 1077.7,764.4 1083.3,762.4 C1088.9,760.4 1091.7,755.2 1095.3,750.4 C1098.9,745.6 1101.7,738.8 1104.9,733.6 C1108.1,728.4 1111.3,723.0 1114.5,719.2 C1117.7,715.4 1120.5,713.8 1124.1,710.6 C1127.7,707.4 1133.5,701.5 1136.1,700 C1138.7,698.5 1137.1,699.0 1139.9,701.4 C1142.7,703.8 1148.3,710.2 1152.9,714.4 C1157.5,718.6 1162.9,721.2 1167.3,726.4 C1171.7,731.6 1175.3,740.4 1179.3,745.6 C1183.3,750.8 1187.3,754.8 1191.3,757.6 C1195.3,760.4 1199.7,762.0 1203.3,762.4 C1206.9,762.8 1209.3,761.8 1212.9,760 C1216.5,758.2 1220.5,753.6 1224.9,751.9 C1229.3,750.1 1234.9,750.5 1239.3,749.5 C1243.7,748.5 1246.9,745.6 1251.3,745.6 C1255.7,745.6 1260.9,748.9 1265.7,749.5 C1270.5,750.1 1275.7,748.5 1280.1,749.5 C1284.5,750.5 1288.1,753.7 1292.1,755.2 C1296.1,756.7 1299.7,758.6 1304.1,758.6 C1308.5,758.6 1313.7,757.0 1318.5,755.2 C1323.3,753.4 1328.4,750.6 1332.9,748 C1337.4,745.4 1340.7,740.8 1345.6,739.8 C1350.5,738.8 1356.4,741.2 1362.4,742.2 C1368.4,743.2 1376.0,745.2 1381.6,745.6 C1387.2,746.0 1391.2,744.3 1396,744.7 C1400.8,745.1 1405.6,748.4 1410.4,748 C1415.2,747.6 1420.0,744.0 1424.8,742.2 C1429.6,740.4 1434.4,738.8 1439.2,737.4 C1444.0,736.0 1449.2,733.4 1453.6,733.6 C1458.0,733.8 1461.6,736.4 1465.6,738.4 C1469.6,740.4 1473.2,743.6 1477.6,745.6 C1482.0,747.6 1486.4,749.2 1492,750.4 C1497.6,751.6 1504.8,752.0 1511.2,752.8 C1517.6,753.6 1524.1,754.4 1530.5,755.2 C1536.9,756.0 1543.3,757.2 1549.7,757.6 C1556.1,758.0 1562.5,757.8 1568.9,757.6 C1575.3,757.4 1581.7,757.0 1588.1,756.2 C1594.5,755.4 1600.9,753.9 1607.3,752.8 C1613.7,751.7 1620.9,750.9 1626.5,749.5 C1632.1,748.1 1636.1,745.7 1640.9,744.2 C1645.7,742.8 1650.5,741.6 1655.3,740.8 C1660.1,740.0 1665.3,739.0 1669.7,739.4 C1674.1,739.8 1677.3,741.9 1681.7,743.2 C1686.1,744.5 1690.9,746.5 1696.1,747.1 C1701.3,747.7 1706.9,747.0 1712.9,746.6 C1718.9,746.2 1726.5,744.9 1732.1,744.7 C1737.7,744.5 1741.7,744.8 1746.5,745.6 C1751.3,746.4 1756.1,748.5 1760.9,749.5 C1765.7,750.5 1770.5,751.2 1775.3,751.4 C1780.1,751.5 1784.1,751.2 1789.7,750.4 C1795.3,749.6 1802.5,747.5 1808.9,746.6 C1815.3,745.7 1821.7,745.0 1828.1,744.7 C1834.5,744.4 1840.9,744.6 1847.3,744.7 C1853.7,744.9 1859.3,745.5 1866.5,745.6 C1873.7,745.8 1882.5,745.8 1890.5,745.6 C1898.5,745.4 1907.3,744.4 1914.5,744.2 C1921.7,744.1 1927.5,744.5 1933.7,744.7 C1940.0,744.9 1949.0,745.5 1952,745.6"/>
<path stroke="#000080" stroke-width="8" d="M756.8,895.9 C760.4,895.9 772.4,896.5 778.4,895.9 C784.4,895.2 788.0,893.0 792.8,892 C797.6,891.0 801.6,890.6 807.2,889.6 C812.8,888.6 820.4,885.8 826.4,885.8 C832.4,885.8 837.2,888.7 843.2,889.6 C849.2,890.5 855.6,891.7 862.4,891.1 C869.2,890.5 877.2,887.9 884,886.3 C890.8,884.7 896.8,882.5 903.2,881.5 C909.6,880.5 916.0,880.4 922.4,880 C928.8,879.6 935.6,879.7 941.6,879.1 C947.6,878.5 953.6,877.9 958.4,876.2 C963.2,874.5 966.1,870.5 970.5,869 C974.9,867.5 980.1,868.7 984.9,867.1 C989.7,865.5 994.5,859.8 999.3,859.4 C1004.1,859.0 1008.9,864.2 1013.7,864.7 C1018.5,865.2 1022.9,862.9 1028.1,862.3 C1033.3,861.6 1040.1,862.2 1044.9,860.8 C1049.7,859.3 1052.9,854.8 1056.9,853.6 C1060.9,852.4 1064.9,852.6 1068.9,853.6 C1072.9,854.6 1076.5,859.5 1080.9,859.9 C1085.3,860.3 1090.5,858.2 1095.3,856 C1100.1,853.8 1105.7,849.2 1109.7,846.4 C1113.7,843.6 1116.1,840.6 1119.3,839.2 C1122.5,837.9 1125.3,837.6 1128.9,838.3 C1132.5,838.9 1137.3,840.7 1140.9,843.1 C1144.5,845.5 1146.9,849.9 1150.5,852.7 C1154.1,855.5 1158.1,858.1 1162.5,859.9 C1166.9,861.6 1172.9,862.7 1176.9,863.2 C1180.9,863.8 1183.3,865.0 1186.5,863.2 C1189.7,861.5 1192.5,855.5 1196.1,852.7 C1199.7,849.9 1204.1,848.8 1208.1,846.4 C1212.1,844.0 1216.5,840.5 1220.1,838.3 C1223.7,836.1 1226.5,832.6 1229.7,833 C1232.9,833.4 1236.1,839.1 1239.3,840.7 C1242.5,842.3 1245.3,840.5 1248.9,842.6 C1252.5,844.8 1256.9,850.3 1260.9,853.6 C1264.9,856.9 1269.3,860.8 1272.9,862.3 C1276.5,863.8 1278.5,861.2 1282.5,862.3 C1286.5,863.4 1292.1,867.6 1296.9,869 C1301.7,870.4 1306.5,870.0 1311.3,870.4 C1316.1,870.8 1321.7,872.0 1325.7,871.4 C1329.7,870.8 1332.4,867.7 1335.3,866.6 C1338.2,865.5 1338.7,864.6 1343.2,864.7 C1347.7,864.8 1356.8,866.2 1362.4,867.1 C1368.0,868.0 1372.0,869.2 1376.8,870.4 C1381.6,871.6 1387.2,873.7 1391.2,874.3 C1395.2,874.9 1397.2,873.2 1400.8,873.8 C1404.4,874.3 1408.0,877.2 1412.8,877.6 C1417.6,878.0 1422.8,876.6 1429.6,876.2 C1436.4,875.8 1447.2,874.7 1453.6,875.2 C1460.0,875.7 1463.2,878.1 1468,879.1 C1472.8,880.1 1476.8,880.8 1482.4,881.5 C1488.0,882.2 1495.2,882.3 1501.6,883.4 C1508.0,884.5 1515.3,886.6 1520.9,888.2 C1526.5,889.8 1530.5,891.7 1535.3,893 C1540.1,894.3 1544.5,895.3 1549.7,895.9 C1554.9,896.5 1560.9,897.4 1566.5,896.8 C1572.1,896.1 1577.3,893.2 1583.3,892 C1589.3,890.8 1596.1,890.2 1602.5,889.6 C1608.9,889.0 1615.3,889.0 1621.7,888.2 C1628.1,887.4 1633.7,885.6 1640.9,884.8 C1648.1,884.0 1657.7,882.8 1664.9,883.4 C1672.1,884.0 1676.9,887.6 1684.1,888.2 C1691.3,888.8 1699.7,887.5 1708.1,887.2 C1716.5,886.9 1727.3,885.9 1734.5,886.3 C1741.7,886.7 1746.1,888.6 1751.3,889.6 C1756.5,890.6 1760.1,891.4 1765.7,892 C1771.3,892.6 1777.7,893.0 1784.9,893 C1792.1,893.0 1801.7,892.0 1808.9,892 C1816.1,892.0 1821.7,892.6 1828.1,893 C1834.5,893.4 1840.9,894.0 1847.3,894.4 C1853.7,894.8 1860.1,895.0 1866.5,895.4 C1872.9,895.8 1879.3,896.7 1885.7,896.8 C1892.1,896.9 1899.3,896.3 1904.9,895.9 C1910.5,895.5 1914.5,894.4 1919.3,894.4 C1924.1,894.4 1928.2,895.5 1933.7,895.9 C1939.2,896.3 1949.0,896.6 1952,896.8"/>
<path stroke="#008000" stroke-width="8" d="M756.8,1023.1 C760.4,1022.9 772.4,1022.6 778.4,1021.7 C784.4,1020.8 787.6,1018.8 792.8,1017.8 C798.0,1016.8 804.0,1016.7 809.6,1015.9 C815.2,1015.1 821.2,1013.2 826.4,1013 C831.6,1012.8 836.4,1014.4 840.8,1014.5 C845.2,1014.6 848.8,1013.1 852.8,1013.5 C856.8,1013.9 860.4,1017.1 864.8,1016.9 C869.2,1016.7 874.4,1013.5 879.2,1012.1 C884.0,1010.7 888.8,1010.2 893.6,1008.7 C898.4,1007.2 901.6,1004.6 908,1003.4 C914.4,1002.2 925.6,1002.5 932,1001.5 C938.4,1000.5 942.0,998.3 946.4,997.7 C950.8,997.1 954.4,999.3 958.4,997.7 C962.4,996.1 965.7,990.1 970.5,988.1 C975.3,986.1 982.5,987.9 987.3,985.7 C992.1,983.5 994.9,976.3 999.3,975.1 C1003.7,973.9 1009.3,978.9 1013.7,978.5 C1018.1,978.1 1020.5,974.2 1025.7,972.7 C1030.9,971.2 1039.7,971.9 1044.9,969.8 C1050.1,967.7 1052.9,961.6 1056.9,960.2 C1060.9,958.9 1064.9,960.2 1068.9,961.7 C1072.9,963.2 1076.5,968.1 1080.9,968.9 C1085.3,969.7 1090.5,966.9 1095.3,966.5 C1100.1,966.1 1105.7,967.3 1109.7,966.5 C1113.7,965.7 1115.7,961.2 1119.3,961.7 C1122.9,962.2 1127.3,967.0 1131.3,969.8 C1135.3,972.6 1139.7,975.7 1143.3,978.5 C1146.9,981.3 1149.7,984.6 1152.9,986.6 C1156.1,988.6 1159.3,990.4 1162.5,990.5 C1165.7,990.6 1168.9,989.1 1172.1,987.1 C1175.3,985.1 1178.5,981.9 1181.7,978.5 C1184.9,975.1 1188.1,970.8 1191.3,966.5 C1194.5,962.2 1196.9,957.2 1200.9,953 C1204.9,948.8 1210.9,944.2 1215.3,941.5 C1219.7,938.8 1223.3,935.9 1227.3,936.7 C1231.3,937.5 1236.1,944.1 1239.3,946.3 C1242.5,948.5 1243.7,946.5 1246.5,949.7 C1249.3,952.9 1252.5,960.9 1256.1,965.5 C1259.7,970.1 1263.7,975.3 1268.1,977.5 C1272.5,979.7 1278.5,977.1 1282.5,978.5 C1286.5,979.9 1287.3,983.9 1292.1,985.7 C1296.9,987.5 1305.7,988.3 1311.3,989.5 C1316.9,990.7 1320.4,993.3 1325.7,992.9 C1331.0,992.5 1337.1,987.4 1343.2,987.1 C1349.3,986.9 1357.6,990.7 1362.4,991.4 C1367.2,992.1 1368.0,990.2 1372,991.4 C1376.0,992.6 1381.6,997.1 1386.4,998.6 C1391.2,1000.1 1396.4,999.3 1400.8,1000.1 C1405.2,1000.9 1408.0,1002.8 1412.8,1003.4 C1417.6,1004.0 1422.8,1003.2 1429.6,1003.9 C1436.4,1004.5 1447.2,1006.3 1453.6,1007.3 C1460.0,1008.3 1463.2,1009.3 1468,1009.7 C1472.8,1010.1 1477.6,1009.9 1482.4,1009.7 C1487.2,1009.5 1492.0,1008.3 1496.8,1008.7 C1501.6,1009.1 1506.4,1010.6 1511.2,1012.1 C1516.0,1013.6 1520.9,1015.8 1525.7,1017.8 C1530.5,1019.8 1535.7,1022.6 1540.1,1024.1 C1544.5,1025.5 1547.3,1026.1 1552.1,1026.5 C1556.9,1026.9 1563.7,1027.2 1568.9,1026.5 C1574.1,1025.8 1577.7,1023.6 1583.3,1022.6 C1588.9,1021.6 1596.1,1021.1 1602.5,1020.7 C1608.9,1020.3 1615.3,1020.8 1621.7,1020.2 C1628.1,1019.6 1633.7,1017.3 1640.9,1016.9 C1648.1,1016.5 1657.7,1017.2 1664.9,1017.8 C1672.1,1018.4 1677.3,1020.7 1684.1,1020.7 C1690.9,1020.7 1699.3,1017.9 1705.7,1017.8 C1712.1,1017.7 1717.3,1020.0 1722.5,1020.2 C1727.7,1020.5 1732.1,1018.9 1736.9,1019.3 C1741.7,1019.7 1746.5,1022.0 1751.3,1022.6 C1756.1,1023.2 1760.1,1022.9 1765.7,1023.1 C1771.3,1023.4 1777.7,1023.8 1784.9,1024.1 C1792.1,1024.4 1801.7,1024.4 1808.9,1025 C1816.1,1025.6 1821.7,1027.0 1828.1,1027.9 C1834.5,1028.8 1840.9,1029.7 1847.3,1030.3 C1853.7,1030.9 1860.1,1030.9 1866.5,1031.3 C1872.9,1031.7 1879.3,1032.5 1885.7,1032.7 C1892.1,1032.9 1899.3,1032.6 1904.9,1032.2 C1910.5,1031.8 1914.5,1030.3 1919.3,1030.3 C1924.1,1030.3 1928.2,1031.5 1933.7,1032.2 C1939.2,1032.9 1949.0,1034.2 1952,1034.6"/>
<path stroke="#ff00ff" stroke-width="8" d="M756.8,1139.3 C760.4,1139.1 772.4,1139.1 778.4,1138.3 C784.4,1137.5 787.6,1135.5 792.8,1134.5 C798.0,1133.5 804.0,1133.1 809.6,1132.1 C815.2,1131.1 820.4,1128.3 826.4,1128.3 C832.4,1128.3 839.6,1131.3 845.6,1132.1 C851.6,1132.9 856.8,1133.9 862.4,1133.1 C868.0,1132.3 874.0,1129.1 879.2,1127.3 C884.4,1125.5 888.8,1124.3 893.6,1122.5 C898.4,1120.7 901.6,1117.7 908,1116.3 C914.4,1114.9 925.6,1115.4 932,1114.3 C938.4,1113.2 942.0,1110.3 946.4,1109.5 C950.8,1108.7 954.4,1111.3 958.4,1109.5 C962.4,1107.7 965.7,1101.0 970.5,1098.5 C975.3,1096.0 982.5,1097.5 987.3,1094.7 C992.1,1091.9 994.9,1083.5 999.3,1081.7 C1003.7,1079.9 1009.3,1084.8 1013.7,1084.1 C1018.1,1083.4 1020.5,1079.8 1025.7,1077.8 C1030.9,1075.8 1039.7,1075.2 1044.9,1072.1 C1050.1,1069.0 1052.9,1061.1 1056.9,1059.1 C1060.9,1057.1 1064.9,1058.2 1068.9,1060.1 C1072.9,1062.0 1077.7,1069.4 1080.9,1070.6 C1084.1,1071.8 1084.9,1066.6 1088.1,1067.3 C1091.3,1068.0 1096.5,1072.7 1100.1,1074.5 C1103.7,1076.3 1106.1,1077.8 1109.7,1078.3 C1113.3,1078.8 1118.1,1076.0 1121.7,1077.8 C1125.3,1079.6 1128.1,1085.1 1131.3,1088.9 C1134.5,1092.8 1137.7,1097.3 1140.9,1100.9 C1144.1,1104.5 1147.3,1108.3 1150.5,1110.5 C1153.7,1112.7 1156.9,1114.3 1160.1,1113.9 C1163.3,1113.5 1166.5,1111.9 1169.7,1108.1 C1172.9,1104.3 1176.1,1097.3 1179.3,1091.3 C1182.5,1085.3 1185.7,1078.1 1188.9,1072.1 C1192.1,1066.1 1195.3,1059.5 1198.5,1055.3 C1201.7,1051.0 1204.9,1050.0 1208.1,1046.6 C1211.3,1043.1 1214.1,1037.0 1217.7,1034.6 C1221.3,1032.2 1226.1,1030.3 1229.7,1032.2 C1233.3,1034.1 1236.5,1042.2 1239.3,1045.7 C1242.1,1049.2 1243.7,1048.9 1246.5,1052.9 C1249.3,1056.9 1252.9,1064.9 1256.1,1069.7 C1259.3,1074.5 1262.5,1078.9 1265.7,1081.7 C1268.9,1084.5 1272.5,1085.9 1275.3,1086.5 C1278.1,1087.1 1279.7,1084.3 1282.5,1085.5 C1285.3,1086.7 1288.5,1091.7 1292.1,1093.7 C1295.7,1095.7 1300.1,1096.3 1304.1,1097.5 C1308.1,1098.7 1311.7,1100.1 1316.1,1100.9 C1320.5,1101.7 1326.0,1102.7 1330.5,1102.3 C1335.0,1101.9 1337.9,1097.7 1343.2,1098.5 C1348.5,1099.3 1357.6,1105.7 1362.4,1107.1 C1367.2,1108.5 1368.0,1105.7 1372,1107.1 C1376.0,1108.5 1381.6,1113.4 1386.4,1115.3 C1391.2,1117.2 1396.4,1117.7 1400.8,1118.7 C1405.2,1119.7 1408.4,1120.6 1412.8,1121.5 C1417.2,1122.4 1422.0,1122.4 1427.2,1123.9 C1432.4,1125.4 1438.4,1129.2 1444,1130.7 C1449.6,1132.2 1455.2,1133.1 1460.8,1133.1 C1466.4,1133.1 1471.6,1131.8 1477.6,1130.7 C1483.6,1129.6 1491.2,1126.2 1496.8,1126.3 C1502.4,1126.4 1506.4,1129.2 1511.2,1131.1 C1516.0,1133.0 1520.9,1135.6 1525.7,1137.9 C1530.5,1140.2 1535.7,1143.3 1540.1,1145.1 C1544.5,1146.9 1547.3,1148.1 1552.1,1148.9 C1556.9,1149.7 1563.7,1150.5 1568.9,1149.9 C1574.1,1149.3 1577.7,1146.6 1583.3,1145.5 C1588.9,1144.4 1596.1,1143.6 1602.5,1143.1 C1608.9,1142.6 1615.3,1143.3 1621.7,1142.7 C1628.1,1142.1 1633.7,1139.2 1640.9,1139.3 C1648.1,1139.4 1657.7,1142.1 1664.9,1143.1 C1672.1,1144.1 1677.3,1145.5 1684.1,1145.1 C1690.9,1144.7 1699.3,1141.0 1705.7,1140.7 C1712.1,1140.4 1717.3,1142.5 1722.5,1143.1 C1727.7,1143.7 1732.1,1143.5 1736.9,1144.1 C1741.7,1144.7 1746.5,1146.1 1751.3,1146.5 C1756.1,1146.9 1760.1,1146.5 1765.7,1146.5 C1771.3,1146.5 1777.7,1146.1 1784.9,1146.5 C1792.1,1146.9 1801.7,1147.5 1808.9,1148.9 C1816.1,1150.3 1821.7,1153.1 1828.1,1154.7 C1834.5,1156.3 1840.9,1157.6 1847.3,1158.5 C1853.7,1159.4 1860.1,1159.3 1866.5,1159.9 C1872.9,1160.5 1879.3,1161.7 1885.7,1161.9 C1892.1,1162.1 1899.3,1161.2 1904.9,1160.9 C1910.5,1160.6 1914.5,1159.7 1919.3,1159.9 C1924.1,1160.1 1928.2,1161.5 1933.7,1162.3 C1939.2,1163.1 1949.0,1164.3 1952,1164.7"/>
<path stroke="#0000ff" stroke-width="8" d="M756.8,1259.3 C760.4,1259.1 772.4,1258.7 778.4,1257.9 C784.4,1257.1 787.6,1255.5 792.8,1254.5 C798.0,1253.5 804.0,1253.1 809.6,1252.1 C815.2,1251.1 821.2,1248.4 826.4,1248.3 C831.6,1248.2 836.4,1251.1 840.8,1251.2 C845.2,1251.3 849.2,1248.5 852.8,1248.8 C856.4,1249.1 858.4,1253.5 862.4,1253.1 C866.4,1252.7 871.6,1248.2 876.8,1246.4 C882.0,1244.6 888.4,1244.2 893.6,1242.5 C898.8,1240.8 901.6,1237.5 908,1236.3 C914.4,1235.1 925.6,1236.7 932,1235.3 C938.4,1233.9 942.0,1229.3 946.4,1228.1 C950.8,1226.9 954.4,1230.3 958.4,1228.1 C962.4,1225.9 966.1,1217.2 970.5,1214.7 C974.9,1212.2 979.7,1216.3 984.9,1212.8 C990.1,1209.3 996.9,1196.0 1001.7,1193.6 C1006.5,1191.2 1010.1,1199.1 1013.7,1198.4 C1017.3,1197.8 1018.9,1192.0 1023.3,1189.7 C1027.7,1187.5 1035.3,1187.7 1040.1,1184.9 C1044.9,1182.1 1048.5,1175.9 1052.1,1172.9 C1055.7,1169.9 1058.9,1167.5 1061.7,1167.1 C1064.5,1166.7 1065.7,1168.1 1068.9,1170.5 C1072.1,1172.9 1077.3,1180.4 1080.9,1181.6 C1084.5,1182.8 1087.3,1176.9 1090.5,1177.7 C1093.7,1178.5 1096.9,1183.6 1100.1,1186.4 C1103.3,1189.2 1106.1,1193.3 1109.7,1194.5 C1113.3,1195.7 1118.1,1191.6 1121.7,1193.6 C1125.3,1195.6 1128.1,1202.0 1131.3,1206.5 C1134.5,1211.0 1137.7,1216.7 1140.9,1220.9 C1144.1,1225.2 1147.5,1229.4 1150.5,1232 C1153.5,1234.6 1155.9,1236.3 1158.7,1236.3 C1161.5,1236.3 1164.3,1235.4 1167.3,1232 C1170.3,1228.6 1173.7,1221.9 1176.9,1216.1 C1180.1,1210.2 1183.3,1204.1 1186.5,1196.9 C1189.7,1189.7 1193.7,1178.5 1196.1,1172.9 C1198.5,1167.3 1198.1,1167.3 1200.9,1163.3 C1203.7,1159.3 1209.7,1152.5 1212.9,1148.9 C1216.1,1145.3 1217.3,1143.3 1220.1,1141.7 C1222.9,1140.1 1226.9,1137.7 1229.7,1139.3 C1232.5,1140.9 1234.1,1147.7 1236.9,1151.3 C1239.7,1154.9 1243.3,1155.9 1246.5,1160.9 C1249.7,1166.0 1252.9,1175.6 1256.1,1181.6 C1259.3,1187.6 1262.5,1193.3 1265.7,1196.9 C1268.9,1200.5 1272.5,1202.4 1275.3,1203.2 C1278.1,1204.0 1279.7,1200.6 1282.5,1201.7 C1285.3,1202.8 1288.5,1207.7 1292.1,1209.9 C1295.7,1212.2 1300.5,1214.2 1304.1,1215.2 C1307.7,1216.2 1310.1,1214.5 1313.7,1216.1 C1317.3,1217.7 1322.1,1223.8 1325.7,1224.8 C1329.3,1225.8 1332.0,1223.5 1335.3,1222.4 C1338.6,1221.4 1341.1,1218.0 1345.6,1218.5 C1350.1,1219.0 1358.0,1224.5 1362.4,1225.7 C1366.8,1226.9 1368.0,1224.3 1372,1225.7 C1376.0,1227.1 1381.6,1231.9 1386.4,1233.9 C1391.2,1235.9 1396.4,1236.4 1400.8,1237.7 C1405.2,1239.0 1408.4,1240.5 1412.8,1241.6 C1417.2,1242.6 1422.0,1242.2 1427.2,1244 C1432.4,1245.8 1438.4,1250.1 1444,1252.1 C1449.6,1254.1 1455.2,1256.0 1460.8,1256 C1466.4,1256.0 1471.6,1253.5 1477.6,1252.1 C1483.6,1250.6 1491.2,1247.3 1496.8,1247.3 C1502.4,1247.3 1506.4,1250.2 1511.2,1252.1 C1516.0,1253.9 1520.9,1256.0 1525.7,1258.4 C1530.5,1260.8 1535.7,1264.6 1540.1,1266.5 C1544.5,1268.4 1547.3,1269.1 1552.1,1269.9 C1556.9,1270.7 1563.7,1272.0 1568.9,1271.3 C1574.1,1270.6 1577.7,1266.9 1583.3,1265.6 C1588.9,1264.2 1596.1,1263.5 1602.5,1263.2 C1608.9,1263.0 1615.3,1264.3 1621.7,1264.1 C1628.1,1263.8 1633.7,1261.3 1640.9,1261.7 C1648.1,1262.1 1657.7,1265.1 1664.9,1266.5 C1672.1,1267.9 1677.3,1270.3 1684.1,1269.9 C1690.9,1269.5 1699.3,1264.7 1705.7,1264.1 C1712.1,1263.5 1717.3,1265.9 1722.5,1266.5 C1727.7,1267.1 1732.1,1266.8 1736.9,1267.5 C1741.7,1268.2 1746.5,1269.9 1751.3,1270.4 C1756.1,1270.9 1760.1,1270.4 1765.7,1270.4 C1771.3,1270.4 1777.7,1270.1 1784.9,1270.4 C1792.1,1270.7 1801.7,1271.0 1808.9,1272.3 C1816.1,1273.6 1821.7,1276.7 1828.1,1278.5 C1834.5,1280.3 1840.9,1282.2 1847.3,1283.3 C1853.7,1284.3 1860.1,1284.2 1866.5,1284.8 C1872.9,1285.4 1879.3,1286.5 1885.7,1286.7 C1892.1,1286.9 1899.3,1286.1 1904.9,1285.7 C1910.5,1285.3 1914.5,1284.1 1919.3,1284.3 C1924.1,1284.5 1928.2,1285.9 1933.7,1286.7 C1939.2,1287.5 1949.0,1288.7 1952,1289.1"/>
<path stroke="#ff0000" stroke-width="8" d="M756.8,1355.9 C759.6,1355.8 767.6,1356.0 773.6,1355.4 C779.6,1354.8 786.8,1353.0 792.8,1352.1 C798.8,1351.1 804.0,1350.5 809.6,1349.7 C815.2,1348.9 820.8,1347.5 826.4,1347.3 C832.0,1347.1 837.2,1348.2 843.2,1348.7 C849.2,1349.2 856.4,1350.6 862.4,1350.6 C868.4,1350.6 873.2,1349.7 879.2,1348.7 C885.2,1347.8 892.0,1345.1 898.4,1344.9 C904.8,1344.7 911.2,1346.9 917.6,1347.3 C924.0,1347.7 931.2,1347.7 936.8,1347.3 C942.4,1346.9 945.6,1346.8 951.2,1344.9 C956.8,1343.1 964.9,1337.8 970.5,1336.2 C976.1,1334.6 979.7,1336.4 984.9,1335.3 C990.1,1334.2 996.9,1330.1 1001.7,1329.5 C1006.5,1328.9 1009.3,1332.1 1013.7,1331.9 C1018.1,1331.7 1022.9,1329.1 1028.1,1328.1 C1033.3,1327.1 1040.5,1327.1 1044.9,1325.7 C1049.3,1324.3 1050.9,1321.1 1054.5,1319.9 C1058.1,1318.7 1062.1,1317.8 1066.5,1318.4 C1070.9,1319.0 1076.1,1321.5 1080.9,1323.3 C1085.7,1325.1 1090.5,1327.8 1095.3,1329.5 C1100.1,1331.2 1105.3,1333.2 1109.7,1333.8 C1114.1,1334.4 1117.7,1332.2 1121.7,1332.9 C1125.7,1333.6 1129.3,1336.1 1133.7,1337.7 C1138.1,1339.3 1143.9,1341.3 1148.1,1342.5 C1152.3,1343.7 1155.5,1345.3 1159.1,1344.9 C1162.7,1344.5 1165.9,1342.5 1169.7,1340.1 C1173.5,1337.7 1177.3,1334.1 1181.7,1330.5 C1186.1,1326.9 1191.7,1321.2 1196.1,1318.4 C1200.5,1315.6 1204.1,1314.8 1208.1,1313.6 C1212.1,1312.4 1216.1,1311.3 1220.1,1311.2 C1224.1,1311.1 1228.1,1311.5 1232.1,1312.7 C1236.1,1313.9 1240.1,1316.1 1244.1,1318.4 C1248.1,1320.7 1252.1,1324.0 1256.1,1326.6 C1260.1,1329.2 1263.7,1332.1 1268.1,1333.8 C1272.5,1335.5 1278.5,1335.4 1282.5,1336.7 C1286.5,1338.0 1287.3,1340.1 1292.1,1341.5 C1296.9,1342.9 1305.7,1344.2 1311.3,1344.9 C1316.9,1345.6 1321.2,1346.0 1325.7,1345.8 C1330.2,1345.6 1333.5,1344.6 1338.4,1343.9 C1343.3,1343.2 1349.6,1341.2 1355.2,1341.5 C1360.8,1341.8 1366.0,1344.3 1372,1345.8 C1378.0,1347.3 1384.8,1349.8 1391.2,1350.6 C1397.6,1351.4 1404.0,1350.3 1410.4,1350.6 C1416.8,1350.8 1423.2,1351.2 1429.6,1352.1 C1436.0,1353.0 1443.2,1355.0 1448.8,1355.9 C1454.4,1356.9 1457.6,1358.2 1463.2,1357.8 C1468.8,1357.4 1475.6,1354.6 1482.4,1353.5 C1489.2,1352.4 1497.6,1350.9 1504,1351.1 C1510.4,1351.3 1514.9,1353.4 1520.9,1354.5 C1526.9,1355.6 1533.7,1357.0 1540.1,1357.8 C1546.5,1358.6 1553.3,1358.5 1559.3,1359.3 C1565.3,1360.1 1570.5,1362.6 1576.1,1362.6 C1581.7,1362.6 1586.1,1359.8 1592.9,1359.3 C1599.7,1358.8 1608.9,1359.3 1616.9,1359.3 C1624.9,1359.3 1634.1,1358.5 1640.9,1359.3 C1647.7,1360.1 1651.3,1363.5 1657.7,1364.1 C1664.1,1364.7 1673.7,1364.3 1679.3,1363.1 C1684.9,1361.9 1687.7,1358.5 1691.3,1356.9 C1694.9,1355.3 1697.3,1353.3 1700.9,1353.5 C1704.5,1353.7 1707.7,1356.0 1712.9,1357.8 C1718.1,1359.6 1726.5,1362.6 1732.1,1364.1 C1737.7,1365.5 1741.7,1366.7 1746.5,1366.5 C1751.3,1366.3 1756.1,1363.9 1760.9,1363.1 C1765.7,1362.3 1769.7,1361.5 1775.3,1361.7 C1780.9,1361.9 1788.9,1362.9 1794.5,1364.1 C1800.1,1365.3 1804.1,1367.3 1808.9,1368.9 C1813.7,1370.5 1818.5,1372.1 1823.3,1373.7 C1828.1,1375.3 1832.9,1377.5 1837.7,1378.5 C1842.5,1379.5 1846.5,1379.8 1852.1,1379.9 C1857.7,1380.1 1864.9,1379.8 1871.3,1379.4 C1877.7,1379.0 1884.1,1378.2 1890.5,1377.5 C1896.9,1376.8 1903.3,1375.3 1909.7,1375.1 C1916.1,1374.9 1921.9,1375.8 1928.9,1376.1 C1936.0,1376.4 1948.2,1376.8 1952,1377"/>
<path stroke="#000000" stroke-width="8" d="M756.8,1463.4 C759.6,1463.2 768.4,1463.5 773.6,1462.5 C778.8,1461.5 782.4,1458.8 788,1457.7 C793.6,1456.7 801.2,1456.5 807.2,1456.2 C813.2,1456.0 818.8,1456.4 824,1456.2 C829.2,1456.0 833.2,1454.8 838.4,1455.3 C843.6,1455.8 849.2,1458.9 855.2,1459.1 C861.2,1459.3 868.0,1457.5 874.4,1456.7 C880.8,1455.9 887.6,1453.9 893.6,1454.3 C899.6,1454.7 905.2,1458.0 910.4,1459.1 C915.6,1460.2 920.0,1461.2 924.8,1461 C929.6,1460.8 934.0,1459.6 939.2,1457.7 C944.4,1455.8 950.8,1450.3 956,1449.5 C961.2,1448.7 964.9,1451.5 970.5,1452.9 C976.1,1454.3 984.1,1457.6 989.7,1457.7 C995.3,1457.8 998.5,1454.8 1004.1,1453.8 C1009.7,1452.8 1016.9,1452.1 1023.3,1451.9 C1029.7,1451.8 1036.5,1451.9 1042.5,1452.9 C1048.5,1453.9 1054.5,1456.5 1059.3,1457.7 C1064.1,1458.9 1066.9,1460.3 1071.3,1460.1 C1075.7,1459.8 1080.1,1457.2 1085.7,1456.2 C1091.3,1455.2 1099.3,1454.0 1104.9,1454.3 C1110.5,1454.5 1114.5,1457.9 1119.3,1457.7 C1124.1,1457.5 1128.9,1454.5 1133.7,1452.9 C1138.5,1451.3 1143.3,1448.7 1148.1,1448.1 C1152.9,1447.5 1157.7,1448.7 1162.5,1449.5 C1167.3,1450.3 1172.5,1451.5 1176.9,1452.9 C1181.3,1454.3 1184.9,1457.7 1188.9,1457.7 C1192.9,1457.7 1196.9,1454.1 1200.9,1452.9 C1204.9,1451.7 1209.3,1451.9 1212.9,1450.5 C1216.5,1449.1 1219.3,1444.1 1222.5,1444.7 C1225.7,1445.3 1228.5,1452.4 1232.1,1454.3 C1235.7,1456.2 1239.7,1456.3 1244.1,1456.2 C1248.5,1456.1 1254.5,1455.2 1258.5,1453.8 C1262.5,1452.4 1264.1,1449.3 1268.1,1448.1 C1272.1,1446.9 1277.3,1447.8 1282.5,1446.6 C1287.7,1445.4 1294.5,1441.1 1299.3,1440.9 C1304.1,1440.8 1307.3,1445.3 1311.3,1445.7 C1315.3,1446.1 1319.3,1443.3 1323.3,1443.3 C1327.3,1443.3 1331.6,1446.0 1335.3,1445.7 C1339.0,1445.5 1341.5,1441.7 1345.6,1441.8 C1349.7,1441.9 1354.8,1445.0 1360,1446.6 C1365.2,1448.2 1370.8,1451.3 1376.8,1451.4 C1382.8,1451.5 1389.6,1447.2 1396,1447.1 C1402.4,1446.9 1408.8,1450.2 1415.2,1450.5 C1421.6,1450.8 1428.4,1448.8 1434.4,1449 C1440.4,1449.2 1445.6,1451.4 1451.2,1451.4 C1456.8,1451.4 1462.0,1449.8 1468,1449 C1474.0,1448.2 1481.2,1446.3 1487.2,1446.6 C1493.2,1446.8 1498.4,1449.5 1504,1450.5 C1509.6,1451.5 1514.9,1452.7 1520.9,1452.9 C1526.9,1453.1 1533.7,1451.5 1540.1,1451.9 C1546.5,1452.3 1552.9,1454.7 1559.3,1455.3 C1565.7,1455.9 1572.9,1454.3 1578.5,1455.3 C1584.1,1456.2 1587.3,1458.8 1592.9,1461 C1598.5,1463.2 1606.1,1468.5 1612.1,1468.7 C1618.1,1469.0 1623.7,1463.4 1628.9,1462.5 C1634.1,1461.6 1639.3,1463.8 1643.3,1463.4 C1647.3,1463.0 1649.3,1459.3 1652.9,1460.1 C1656.5,1460.9 1660.5,1468.2 1664.9,1468.2 C1669.3,1468.2 1674.9,1461.6 1679.3,1460.1 C1683.7,1458.6 1688.1,1459.8 1691.3,1459.1 C1694.5,1458.4 1694.9,1456.4 1698.5,1456.2 C1702.1,1456.0 1707.3,1457.9 1712.9,1457.7 C1718.5,1457.5 1726.5,1456.3 1732.1,1455.3 C1737.7,1454.3 1741.7,1452.2 1746.5,1451.9 C1751.3,1451.7 1756.1,1453.6 1760.9,1453.8 C1765.7,1454.0 1770.5,1453.5 1775.3,1452.9 C1780.1,1452.4 1785.3,1450.1 1789.7,1450.5 C1794.1,1450.9 1796.9,1454.7 1801.7,1455.3 C1806.5,1455.9 1814.1,1454.3 1818.5,1454.3 C1822.9,1454.3 1824.9,1455.9 1828.1,1455.3 C1831.3,1454.7 1833.7,1450.5 1837.7,1450.5 C1841.7,1450.5 1847.3,1453.5 1852.1,1455.3 C1856.9,1457.0 1861.7,1459.6 1866.5,1461 C1871.3,1462.4 1875.3,1463.4 1880.9,1463.9 C1886.5,1464.4 1893.7,1463.7 1900.1,1463.9 C1906.5,1464.1 1912.9,1464.7 1919.3,1464.9 C1925.7,1465.1 1933.0,1465.3 1938.5,1464.9 C1944.0,1464.5 1949.8,1462.9 1952,1462.5"/>
<path stroke="#2b60a1" stroke-width="8" d="M122.2,2212 C123.6,2212.8 127.8,2215.6 130.4,2216.8 C133.0,2218.0 134.8,2220.0 137.6,2219.2 C140.4,2218.4 144.0,2214.2 147.2,2212 C150.4,2209.8 153.2,2206.9 156.8,2206.3 C160.4,2205.8 164.4,2208.5 168.8,2208.7 C173.2,2208.8 179.2,2206.6 183.2,2207.2 C187.2,2207.8 189.6,2209.8 192.8,2212 C196.0,2214.2 199.6,2218.4 202.4,2220.2 C205.2,2222.0 207.2,2222.6 209.6,2222.6 C212.0,2222.6 214.0,2219.3 216.8,2220.2 C219.6,2221.1 223.2,2226.1 226.4,2227.9 C229.6,2229.7 232.8,2231.0 236,2231.2 C239.2,2231.3 241.6,2230.2 245.6,2228.8 C249.6,2227.4 254.8,2224.2 260,2222.6 C265.2,2221.0 271.6,2219.2 276.8,2219.2 C282.0,2219.2 286.4,2223.1 291.2,2222.6 C296.0,2222.1 301.3,2218.3 305.7,2215.9 C310.1,2213.5 314.1,2209.0 317.7,2208.2 C321.3,2207.4 323.3,2211.8 327.3,2211.1 C331.3,2210.4 337.7,2204.6 341.7,2203.9 C345.7,2203.2 347.3,2204.6 351.3,2207.2 C355.3,2209.8 360.9,2219.4 365.7,2219.2 C370.5,2219.0 375.7,2209.0 380.1,2205.8 C384.5,2202.6 388.1,2201.8 392.1,2200 C396.1,2198.2 399.7,2198.0 404.1,2195.2 C408.5,2192.4 414.9,2184.4 418.5,2183.2 C422.1,2182.0 422.9,2186.0 425.7,2188 C428.5,2190.0 431.3,2193.8 435.3,2195.2 C439.3,2196.6 445.3,2194.9 449.7,2196.7 C454.1,2198.5 457.7,2203.9 461.7,2205.8 C465.7,2207.7 470.5,2208.0 473.7,2208.2 C476.9,2208.4 477.7,2205.8 480.9,2207.2 C484.1,2208.6 488.9,2214.8 492.9,2216.8 C496.9,2218.8 501.3,2219.0 504.9,2219.2 C508.5,2219.4 510.5,2219.0 514.5,2217.8 C518.5,2216.6 524.5,2215.0 528.9,2212 C533.3,2209.0 536.9,2202.9 540.9,2200 C544.9,2197.1 548.5,2195.7 552.9,2194.3 C557.3,2192.9 562.5,2192.9 567.3,2191.4 C572.1,2189.9 576.9,2187.0 581.7,2185.6 C586.5,2184.2 591.3,2184.4 596.1,2183.2 C600.9,2182.0 606.1,2179.2 610.5,2178.4 C614.9,2177.6 618.1,2178.0 622.5,2178.4 C626.9,2178.8 632.1,2180.4 636.9,2180.8 C641.7,2181.2 646.9,2180.2 651.3,2180.8 C655.7,2181.5 658.5,2184.3 663.3,2184.7 C668.1,2185.1 674.9,2183.4 680.1,2183.2 C685.3,2182.9 690.1,2184.0 694.5,2183.2 C698.9,2182.4 702.5,2180.2 706.5,2178.4 C710.5,2176.6 716.5,2173.2 718.5,2172.2"/>
<path stroke="#808000" stroke-width="8" d="M122.2,2320.1 C123.6,2321.4 127.4,2325.4 130.4,2328.2 C133.4,2331.0 136.8,2335.4 140,2336.9 C143.2,2338.4 146.0,2337.9 149.6,2336.9 C153.2,2335.9 157.6,2332.3 161.6,2331.1 C165.6,2329.9 170.0,2330.7 173.6,2329.7 C177.2,2328.7 180.0,2327.3 183.2,2324.9 C186.4,2322.5 189.2,2316.3 192.8,2315.3 C196.4,2314.3 201.2,2319.1 204.8,2319.1 C208.4,2319.1 211.2,2316.2 214.4,2315.3 C217.6,2314.4 220.8,2313.0 224,2313.8 C227.2,2314.6 230.0,2317.8 233.6,2320.1 C237.2,2322.3 241.6,2327.1 245.6,2327.3 C249.6,2327.5 253.2,2321.9 257.6,2321.5 C262.0,2321.1 267.2,2323.3 272,2324.9 C276.8,2326.5 282.0,2329.5 286.4,2331.1 C290.8,2332.7 293.6,2333.9 298.4,2334.5 C303.2,2335.1 310.5,2334.3 315.3,2334.5 C320.1,2334.7 322.9,2337.3 327.3,2335.9 C331.7,2334.5 337.3,2327.2 341.7,2325.8 C346.1,2324.4 349.3,2327.3 353.7,2327.3 C358.1,2327.3 363.3,2327.7 368.1,2325.8 C372.9,2324.0 378.1,2318.3 382.5,2316.2 C386.9,2314.0 390.5,2315.1 394.5,2312.9 C398.5,2310.8 402.5,2306.4 406.5,2303.3 C410.5,2300.2 414.5,2295.2 418.5,2294.6 C422.5,2293.9 426.1,2298.3 430.5,2299.4 C434.9,2300.5 441.3,2300.7 444.9,2300.9 C448.5,2301.2 448.9,2300.1 452.1,2300.9 C455.3,2301.7 459.7,2305.3 464.1,2305.7 C468.5,2306.1 474.1,2302.5 478.5,2303.3 C482.9,2304.1 486.5,2309.1 490.5,2310.5 C494.5,2311.9 498.5,2311.5 502.5,2311.9 C506.5,2312.3 510.1,2312.2 514.5,2312.9 C518.9,2313.6 524.1,2317.0 528.9,2316.2 C533.7,2315.4 538.5,2309.7 543.3,2308.1 C548.1,2306.5 553.3,2307.2 557.7,2306.6 C562.1,2306.0 565.7,2305.6 569.7,2304.7 C573.7,2303.8 577.3,2301.9 581.7,2300.9 C586.1,2299.9 591.7,2299.4 596.1,2298.4 C600.5,2297.4 604.1,2296.4 608.1,2295.1 C612.1,2293.8 615.7,2291.6 620.1,2290.3 C624.5,2289.0 629.3,2287.9 634.5,2287.4 C639.7,2286.9 646.5,2287.2 651.3,2287.4 C656.1,2287.6 658.9,2288.2 663.3,2288.8 C667.7,2289.4 672.5,2290.8 677.7,2291.2 C682.9,2291.6 689.7,2291.6 694.5,2291.2 C699.3,2290.8 702.5,2289.8 706.5,2288.8 C710.5,2287.9 716.5,2286.1 718.5,2285.5"/>
<path stroke="#800000" stroke-width="8" d="M122.2,2431.9 C124.0,2432.9 129.0,2435.9 132.8,2437.7 C136.6,2439.5 141.6,2441.9 144.8,2442.5 C148.0,2443.1 148.8,2443.1 152,2441.5 C155.2,2439.9 159.6,2435.1 164,2432.9 C168.4,2430.7 173.6,2429.9 178.4,2428.1 C183.2,2426.2 188.8,2422.4 192.8,2421.8 C196.8,2421.2 199.2,2423.5 202.4,2424.7 C205.6,2425.9 208.8,2428.8 212,2429 C215.2,2429.2 218.0,2425.7 221.6,2425.7 C225.2,2425.7 228.8,2427.6 233.6,2429 C238.4,2430.4 245.6,2433.4 250.4,2434.3 C255.2,2435.2 258.0,2433.7 262.4,2434.3 C266.8,2434.9 272.0,2436.3 276.8,2437.7 C281.6,2439.1 286.8,2442.8 291.2,2442.5 C295.6,2442.2 299.3,2438.8 303.3,2436.2 C307.3,2433.5 311.3,2427.9 315.3,2426.6 C319.3,2425.2 323.3,2428.6 327.3,2428.1 C331.3,2427.6 335.3,2423.2 339.3,2423.3 C343.3,2423.5 346.9,2427.2 351.3,2429 C355.7,2430.8 360.9,2434.6 365.7,2434.3 C370.5,2434.0 375.3,2429.2 380.1,2427.1 C384.9,2425.0 390.1,2424.4 394.5,2421.8 C398.9,2419.2 402.9,2414.2 406.5,2411.3 C410.1,2408.4 412.5,2404.3 416.1,2404.1 C419.7,2403.9 424.5,2409.1 428.1,2410.3 C431.7,2411.5 434.1,2411.1 437.7,2411.3 C441.3,2411.5 445.7,2409.7 449.7,2411.3 C453.7,2412.9 458.1,2418.5 461.7,2420.9 C465.3,2423.3 467.3,2425.5 471.3,2425.7 C475.3,2425.8 480.5,2423.0 485.7,2421.8 C490.9,2420.6 497.7,2419.7 502.5,2418.5 C507.3,2417.3 510.1,2416.2 514.5,2414.6 C518.9,2413.0 524.1,2411.1 528.9,2408.9 C533.7,2406.8 538.5,2403.1 543.3,2401.7 C548.1,2400.2 553.3,2400.8 557.7,2400.2 C562.1,2399.6 565.3,2399.5 569.7,2398.3 C574.1,2397.1 579.7,2393.6 584.1,2393 C588.5,2392.4 592.1,2394.5 596.1,2394.5 C600.1,2394.5 603.7,2393.2 608.1,2393 C612.5,2392.8 617.7,2392.8 622.5,2393.5 C627.3,2394.2 632.1,2396.7 636.9,2396.9 C641.7,2397.1 646.9,2395.3 651.3,2394.5 C655.7,2393.7 658.9,2393.5 663.3,2392.1 C667.7,2390.7 672.9,2387.7 677.7,2385.8 C682.5,2384.0 687.3,2382.8 692.1,2381 C696.9,2379.2 702.1,2376.5 706.5,2375.3 C710.9,2374.1 716.5,2374.1 718.5,2373.8"/>
<path stroke="#800080" stroke-width="8" d="M122.2,2541.9 C124.0,2543.2 129.0,2547.0 132.8,2549.5 C136.6,2552.0 140.8,2556.9 144.8,2556.7 C148.8,2556.5 152.4,2549.8 156.8,2548.1 C161.2,2546.4 166.8,2546.9 171.2,2546.7 C175.6,2546.5 179.2,2547.1 183.2,2547.1 C187.2,2547.1 191.2,2545.5 195.2,2546.7 C199.2,2547.9 203.2,2552.9 207.2,2554.3 C211.2,2555.7 214.8,2553.7 219.2,2555.3 C223.6,2556.9 228.8,2561.3 233.6,2564 C238.4,2566.7 243.2,2571.0 248,2571.2 C252.8,2571.3 257.6,2566.5 262.4,2564.9 C267.2,2563.3 272.8,2562.4 276.8,2561.6 C280.8,2560.8 282.4,2561.4 286.4,2560.1 C290.4,2558.8 296.1,2555.9 300.9,2553.9 C305.7,2551.9 310.9,2548.7 315.3,2548.1 C319.7,2547.5 322.5,2551.5 327.3,2550.5 C332.1,2549.5 339.3,2542.9 344.1,2542.3 C348.9,2541.7 352.1,2545.3 356.1,2546.7 C360.1,2548.1 364.1,2550.5 368.1,2550.5 C372.1,2550.5 375.3,2547.5 380.1,2546.7 C384.9,2545.9 392.1,2547.5 396.9,2545.7 C401.7,2543.9 405.3,2539.1 408.9,2536.1 C412.5,2533.1 414.9,2528.9 418.5,2527.9 C422.1,2526.9 426.1,2530.4 430.5,2530.3 C434.9,2530.2 440.1,2526.9 444.9,2527.5 C449.7,2528.1 454.9,2531.9 459.3,2533.7 C463.7,2535.5 467.3,2537.5 471.3,2538.5 C475.3,2539.5 479.3,2539.1 483.3,2539.9 C487.3,2540.7 491.3,2542.7 495.3,2543.3 C499.3,2543.9 502.9,2542.9 507.3,2543.3 C511.7,2543.7 517.7,2546.1 521.7,2545.7 C525.7,2545.3 528.1,2542.9 531.3,2540.9 C534.5,2538.9 536.9,2535.1 540.9,2533.7 C544.9,2532.3 550.5,2532.9 555.3,2532.3 C560.1,2531.7 565.3,2531.7 569.7,2530.3 C574.1,2528.9 577.7,2524.9 581.7,2524.1 C585.7,2523.3 589.3,2526.1 593.7,2525.5 C598.1,2524.9 603.3,2521.9 608.1,2520.3 C612.9,2518.7 617.7,2516.9 622.5,2515.9 C627.3,2514.9 632.1,2515.3 636.9,2514.5 C641.7,2513.7 646.9,2511.5 651.3,2511.1 C655.7,2510.7 658.9,2511.3 663.3,2512.1 C667.7,2512.9 673.3,2515.1 677.7,2515.9 C682.1,2516.7 685.3,2517.1 689.7,2516.9 C694.1,2516.7 699.3,2515.5 704.1,2514.5 C708.9,2513.5 716.1,2511.7 718.5,2511.1"/>
<path stroke="#8000ff" stroke-width="8" d="M122.2,2652.3 C124.0,2653.7 129.4,2658.5 132.8,2660.9 C136.2,2663.3 138.8,2666.4 142.4,2666.7 C146.0,2666.9 150.4,2663.5 154.4,2662.4 C158.4,2661.3 162.4,2660.4 166.4,2660 C170.4,2659.6 174.0,2660.2 178.4,2660 C182.8,2659.8 188.4,2657.7 192.8,2658.5 C197.2,2659.3 200.8,2663.4 204.8,2664.8 C208.8,2666.2 212.8,2665.1 216.8,2666.7 C220.8,2668.3 224.4,2671.5 228.8,2674.4 C233.2,2677.3 238.4,2683.4 243.2,2684 C248.0,2684.6 252.8,2679.9 257.6,2678.2 C262.4,2676.5 267.2,2675.2 272,2673.9 C276.8,2672.6 281.2,2672.0 286.4,2670.5 C291.6,2669.0 298.5,2666.2 303.3,2664.8 C308.1,2663.5 311.7,2662.5 315.3,2662.4 C318.9,2662.3 320.5,2665.1 324.9,2664.3 C329.3,2663.5 337.3,2658.2 341.7,2657.6 C346.1,2657.0 348.1,2659.7 351.3,2660.9 C354.5,2662.1 356.5,2665.2 360.9,2664.8 C365.3,2664.4 372.1,2659.7 377.7,2658.5 C383.3,2657.3 389.7,2659.2 394.5,2657.6 C399.3,2656.0 402.5,2651.6 406.5,2648.9 C410.5,2646.2 414.5,2642.6 418.5,2641.7 C422.5,2640.8 426.9,2643.3 430.5,2643.2 C434.1,2643.0 435.3,2640.0 440.1,2640.8 C444.9,2641.6 454.1,2646.1 459.3,2648 C464.5,2649.9 467.7,2651.8 471.3,2652.3 C474.9,2652.9 477.3,2650.8 480.9,2651.3 C484.5,2651.8 488.5,2654.4 492.9,2655.2 C497.3,2656.0 502.5,2655.4 507.3,2656.1 C512.1,2656.8 517.3,2660.3 521.7,2659.5 C526.1,2658.7 529.3,2653.1 533.7,2651.3 C538.1,2649.5 542.9,2649.9 548.1,2648.9 C553.3,2647.9 559.7,2647.2 564.9,2645.6 C570.1,2644.0 574.9,2640.1 579.3,2639.3 C583.7,2638.5 586.5,2641.4 591.3,2640.8 C596.1,2640.2 602.5,2637.3 608.1,2636 C613.7,2634.7 620.1,2634.0 624.9,2633.1 C629.7,2632.2 632.5,2631.7 636.9,2630.7 C641.3,2629.7 646.9,2627.7 651.3,2627.3 C655.7,2626.9 658.5,2627.5 663.3,2628.3 C668.1,2629.1 674.9,2631.5 680.1,2632.1 C685.3,2632.7 690.1,2632.5 694.5,2632.1 C698.9,2631.7 702.5,2630.7 706.5,2629.7 C710.5,2628.7 716.5,2626.5 718.5,2625.9"/>
<path stroke="#000080" stroke-width="8" d="M122.2,2749.5 C124.0,2750.8 129.4,2755.6 132.8,2757.6 C136.2,2759.6 138.8,2761.1 142.4,2761.5 C146.0,2761.9 150.4,2760.7 154.4,2760 C158.4,2759.3 162.4,2758.0 166.4,2757.6 C170.4,2757.2 174.0,2758.0 178.4,2757.6 C182.8,2757.2 188.4,2754.6 192.8,2755.2 C197.2,2755.8 200.8,2759.2 204.8,2761 C208.8,2762.8 212.8,2763.7 216.8,2765.8 C220.8,2767.9 224.4,2770.6 228.8,2773.5 C233.2,2776.4 238.4,2782.3 243.2,2783.1 C248.0,2783.9 252.8,2779.4 257.6,2778.3 C262.4,2777.2 267.2,2777.9 272,2776.8 C276.8,2775.8 281.2,2773.6 286.4,2772 C291.6,2770.4 298.5,2768.4 303.3,2767.2 C308.1,2766.0 311.3,2765.0 315.3,2764.8 C319.3,2764.6 322.9,2766.2 327.3,2765.8 C331.7,2765.4 337.7,2762.6 341.7,2762.4 C345.7,2762.2 347.7,2764.8 351.3,2764.8 C354.9,2764.8 358.9,2763.8 363.3,2762.4 C367.7,2761.1 372.5,2757.9 377.7,2756.7 C382.9,2755.5 389.7,2756.4 394.5,2755.2 C399.3,2754.0 402.5,2750.9 406.5,2749.5 C410.5,2748.1 413.3,2747.4 418.5,2746.6 C423.7,2745.8 431.7,2744.1 437.7,2744.7 C443.7,2745.3 448.9,2748.9 454.5,2750.4 C460.1,2751.9 466.1,2753.0 471.3,2753.8 C476.5,2754.6 480.5,2754.7 485.7,2755.2 C490.9,2755.7 497.7,2755.9 502.5,2756.7 C507.3,2757.5 510.5,2759.1 514.5,2760 C518.5,2760.9 522.9,2763.0 526.5,2762.4 C530.1,2761.8 531.7,2758.4 536.1,2756.7 C540.5,2754.9 547.3,2753.3 552.9,2751.9 C558.5,2750.5 564.5,2749.2 569.7,2748 C574.9,2746.8 579.3,2745.5 584.1,2744.7 C588.9,2743.9 593.7,2743.7 598.5,2743.2 C603.3,2742.7 608.5,2742.2 612.9,2741.8 C617.3,2741.4 620.5,2741.5 624.9,2740.8 C629.3,2740.1 634.5,2738.8 639.3,2737.5 C644.1,2736.2 649.3,2733.1 653.7,2732.7 C658.1,2732.3 661.3,2734.8 665.7,2735.1 C670.1,2735.4 675.3,2734.2 680.1,2734.6 C684.9,2735.0 690.1,2737.0 694.5,2737.5 C698.9,2738.0 702.5,2737.8 706.5,2737.5 C710.5,2737.2 716.5,2736.2 718.5,2736"/>
<path stroke="#008000" stroke-width="8" d="M122.2,2829.6 C124.0,2831.0 129.4,2835.4 132.8,2837.8 C136.2,2840.2 138.8,2842.2 142.4,2844 C146.0,2845.8 150.8,2848.4 154.4,2848.8 C158.0,2849.2 160.0,2847.2 164,2846.4 C168.0,2845.6 173.2,2845.6 178.4,2844 C183.6,2842.4 190.4,2836.8 195.2,2836.8 C200.0,2836.8 203.2,2841.6 207.2,2844 C211.2,2846.4 215.2,2848.2 219.2,2851.2 C223.2,2854.2 227.2,2858.8 231.2,2861.8 C235.2,2864.9 238.4,2868.7 243.2,2869.5 C248.0,2870.3 254.8,2866.8 260,2866.6 C265.2,2866.4 269.6,2869.0 274.4,2868.1 C279.2,2867.2 284.4,2862.5 288.8,2860.9 C293.2,2859.3 297.3,2860.0 300.9,2858.4 C304.5,2856.8 306.9,2851.2 310.5,2851.2 C314.1,2851.2 318.5,2857.2 322.5,2858.4 C326.5,2859.6 330.1,2859.0 334.5,2858.4 C338.9,2857.8 344.1,2856.4 348.9,2855.1 C353.7,2853.8 358.5,2852.3 363.3,2850.3 C368.1,2848.3 372.9,2843.8 377.7,2843.1 C382.5,2842.4 387.3,2845.8 392.1,2846.4 C396.9,2847.0 401.7,2847.6 406.5,2846.4 C411.3,2845.2 416.1,2840.9 420.9,2839.2 C425.7,2837.4 430.5,2835.5 435.3,2835.9 C440.1,2836.3 445.3,2839.8 449.7,2841.6 C454.1,2843.3 457.7,2845.8 461.7,2846.4 C465.7,2847.1 468.5,2845.7 473.7,2845.5 C478.9,2845.3 487.3,2844.8 492.9,2845 C498.5,2845.2 503.3,2845.4 507.3,2846.4 C511.3,2847.4 513.9,2849.4 516.9,2851.2 C519.9,2853.0 522.3,2857.0 525.5,2857 C528.7,2857.0 531.9,2853.4 536.1,2851.2 C540.3,2849.0 546.1,2846.4 550.5,2844 C554.9,2841.6 558.5,2837.4 562.5,2836.8 C566.5,2836.2 570.1,2839.1 574.5,2840.7 C578.9,2842.3 584.1,2845.8 588.9,2846.4 C593.7,2847.0 598.5,2844.9 603.3,2844 C608.1,2843.1 612.9,2841.5 617.7,2840.7 C622.5,2839.9 627.7,2840.2 632.1,2839.2 C636.5,2838.1 640.5,2835.8 644.1,2834.4 C647.7,2833.1 650.5,2831.5 653.7,2831.1 C656.9,2830.7 660.9,2832.5 663.3,2832 C665.7,2831.5 665.3,2827.9 668.1,2828.2 C670.9,2828.4 675.7,2832.7 680.1,2833.5 C684.5,2834.3 690.1,2832.4 694.5,2833 C698.9,2833.6 702.5,2836.2 706.5,2836.8 C710.5,2837.4 716.5,2836.8 718.5,2836.8"/>
<path stroke="#ff00ff" stroke-width="8" d="M122.2,2925.7 C124.0,2927.0 129.0,2931.0 132.8,2933.8 C136.6,2936.6 140.8,2939.2 144.8,2942.5 C148.8,2945.8 152.8,2952.7 156.8,2953.5 C160.8,2954.3 164.8,2948.6 168.8,2947.3 C172.8,2946.0 176.4,2947.8 180.8,2945.8 C185.2,2943.8 190.8,2936.0 195.2,2935.3 C199.6,2934.6 203.2,2938.7 207.2,2941.5 C211.2,2944.3 215.2,2948.6 219.2,2952.1 C223.2,2955.6 227.2,2959.6 231.2,2962.6 C235.2,2965.6 238.4,2969.5 243.2,2970.3 C248.0,2971.1 254.8,2966.7 260,2967.4 C265.2,2968.1 269.6,2974.3 274.4,2974.6 C279.2,2974.8 284.4,2970.2 288.8,2968.9 C293.2,2967.6 297.3,2968.3 300.9,2966.5 C304.5,2964.7 306.9,2958.5 310.5,2958.3 C314.1,2958.1 318.5,2963.5 322.5,2965.5 C326.5,2967.5 330.1,2970.1 334.5,2970.3 C338.9,2970.5 344.1,2969.1 348.9,2966.5 C353.7,2963.9 358.9,2958.5 363.3,2954.5 C367.7,2950.5 371.3,2943.7 375.3,2942.5 C379.3,2941.3 382.1,2945.2 387.3,2947.3 C392.5,2949.5 400.9,2955.0 406.5,2955.4 C412.1,2955.8 416.1,2951.3 420.9,2949.7 C425.7,2948.1 430.5,2945.0 435.3,2945.8 C440.1,2946.6 444.9,2952.9 449.7,2954.5 C454.5,2956.1 459.3,2956.2 464.1,2955.4 C468.9,2954.6 473.7,2950.8 478.5,2949.7 C483.3,2948.6 488.1,2948.5 492.9,2948.7 C497.7,2948.9 503.3,2949.3 507.3,2951.1 C511.3,2952.9 513.7,2956.7 516.9,2959.3 C520.1,2961.9 523.3,2965.9 526.5,2966.5 C529.7,2967.1 532.1,2965.0 536.1,2962.6 C540.1,2960.2 546.1,2955.2 550.5,2952.1 C554.9,2949.0 558.5,2944.3 562.5,2943.9 C566.5,2943.5 570.5,2947.4 574.5,2949.7 C578.5,2952.0 582.5,2956.0 586.5,2957.8 C590.5,2959.6 594.1,2961.2 598.5,2960.7 C602.9,2960.1 608.5,2955.4 612.9,2954.5 C617.3,2953.6 620.9,2955.4 624.9,2955.4 C628.9,2955.4 632.9,2955.8 636.9,2954.5 C640.9,2953.2 645.3,2948.7 648.9,2947.3 C652.5,2945.9 655.3,2947.5 658.5,2946.3 C661.7,2945.1 664.5,2940.3 668.1,2940.1 C671.7,2939.9 675.7,2944.1 680.1,2944.9 C684.5,2945.7 690.1,2943.7 694.5,2944.9 C698.9,2946.1 702.5,2950.5 706.5,2952.1 C710.5,2953.7 716.5,2954.1 718.5,2954.5"/>
<path stroke="#0000ff" stroke-width="8" d="M122.2,3042.3 C124.0,3043.9 129.0,3048.5 132.8,3051.9 C136.6,3055.3 140.8,3058.7 144.8,3062.5 C148.8,3066.3 152.8,3073.9 156.8,3074.5 C160.8,3075.1 164.8,3067.7 168.8,3066.3 C172.8,3064.9 176.4,3068.0 180.8,3065.9 C185.2,3063.8 190.8,3054.6 195.2,3053.9 C199.6,3053.2 203.2,3058.5 207.2,3061.5 C211.2,3064.5 215.2,3068.6 219.2,3072.1 C223.2,3075.6 227.2,3079.5 231.2,3082.7 C235.2,3085.9 238.4,3090.3 243.2,3091.3 C248.0,3092.3 254.8,3088.1 260,3088.9 C265.2,3089.7 269.6,3095.9 274.4,3096.1 C279.2,3096.3 284.4,3091.1 288.8,3089.9 C293.2,3088.7 297.3,3090.7 300.9,3088.9 C304.5,3087.1 306.9,3079.9 310.5,3079.3 C314.1,3078.7 318.5,3083.5 322.5,3085.5 C326.5,3087.5 330.1,3090.7 334.5,3091.3 C338.9,3091.9 344.1,3091.7 348.9,3088.9 C353.7,3086.1 358.9,3078.9 363.3,3074.5 C367.7,3070.1 371.3,3063.9 375.3,3062.5 C379.3,3061.1 382.1,3063.9 387.3,3066.3 C392.5,3068.7 400.9,3076.3 406.5,3076.9 C412.1,3077.5 416.1,3071.3 420.9,3069.7 C425.7,3068.1 430.5,3066.5 435.3,3067.3 C440.1,3068.1 444.9,3073.1 449.7,3074.5 C454.5,3075.9 459.3,3076.5 464.1,3075.9 C468.9,3075.3 474.1,3072.3 478.5,3070.7 C482.9,3069.1 485.7,3066.5 490.5,3066.3 C495.3,3066.1 502.9,3067.5 507.3,3069.7 C511.7,3071.9 513.7,3075.9 516.9,3079.3 C520.1,3082.7 522.9,3088.7 526.5,3089.9 C530.1,3091.1 534.1,3089.1 538.5,3086.5 C542.9,3083.9 548.9,3077.9 552.9,3074.5 C556.9,3071.1 558.9,3066.3 562.5,3066.3 C566.1,3066.3 570.5,3071.9 574.5,3074.5 C578.5,3077.1 582.1,3080.7 586.5,3081.7 C590.9,3082.7 596.5,3081.1 600.9,3080.7 C605.3,3080.3 608.9,3079.9 612.9,3079.3 C616.9,3078.7 620.9,3077.1 624.9,3076.9 C628.9,3076.7 632.9,3079.1 636.9,3077.9 C640.9,3076.7 645.3,3071.5 648.9,3069.7 C652.5,3067.9 655.3,3068.7 658.5,3067.3 C661.7,3065.9 664.5,3061.7 668.1,3061.5 C671.7,3061.3 675.7,3065.5 680.1,3066.3 C684.5,3067.1 690.1,3064.7 694.5,3066.3 C698.9,3067.9 702.5,3073.9 706.5,3075.9 C710.5,3077.9 716.5,3077.9 718.5,3078.3"/>
<path stroke="#ff0000" stroke-width="8" d="M122.2,3148 C124.0,3148.6 129.0,3150.0 132.8,3151.3 C136.6,3152.7 140.8,3153.7 144.8,3156.1 C148.8,3158.5 152.8,3165.1 156.8,3165.7 C160.8,3166.3 164.4,3161.1 168.8,3159.5 C173.2,3157.9 178.4,3157.2 183.2,3156.1 C188.0,3155.0 193.6,3152.6 197.6,3152.8 C201.6,3153.1 203.6,3155.8 207.2,3157.6 C210.8,3159.3 215.2,3162.5 219.2,3163.3 C223.2,3164.1 227.2,3161.6 231.2,3162.4 C235.2,3163.2 238.4,3167.2 243.2,3168.1 C248.0,3169.0 254.8,3167.3 260,3168.1 C265.2,3168.9 270.0,3170.9 274.4,3172.9 C278.8,3174.9 282.0,3176.9 286.4,3180.1 C290.8,3183.3 296.1,3190.9 300.9,3192.1 C305.7,3193.3 310.5,3188.9 315.3,3187.3 C320.1,3185.7 324.9,3183.7 329.7,3182.5 C334.5,3181.3 338.9,3181.7 344.1,3180.1 C349.3,3178.5 355.3,3175.7 360.9,3172.9 C366.5,3170.1 372.9,3164.1 377.7,3163.3 C382.5,3162.5 384.9,3165.3 389.7,3168.1 C394.5,3170.9 401.7,3178.5 406.5,3180.1 C411.3,3181.7 414.1,3179.7 418.5,3177.7 C422.9,3175.7 428.5,3169.4 432.9,3168.1 C437.3,3166.8 440.5,3168.8 444.9,3169.6 C449.3,3170.4 454.5,3172.5 459.3,3172.9 C464.1,3173.3 468.9,3173.2 473.7,3172 C478.5,3170.8 483.7,3166.9 488.1,3165.7 C492.5,3164.5 496.5,3165.8 500.1,3164.8 C503.7,3163.9 506.5,3160.2 509.7,3160 C512.9,3159.8 515.3,3162.4 519.3,3163.3 C523.3,3164.2 528.9,3164.5 533.7,3165.7 C538.5,3166.9 543.3,3170.1 548.1,3170.5 C552.9,3170.9 557.3,3168.1 562.5,3168.1 C567.7,3168.1 574.1,3169.7 579.3,3170.5 C584.5,3171.3 588.9,3172.7 593.7,3172.9 C598.5,3173.2 603.3,3171.2 608.1,3172 C612.9,3172.8 617.7,3176.1 622.5,3177.7 C627.3,3179.3 632.5,3181.6 636.9,3181.6 C641.3,3181.6 644.5,3179.3 648.9,3177.7 C653.3,3176.1 658.9,3174.4 663.3,3172 C667.7,3169.6 671.7,3164.0 675.3,3163.3 C678.9,3162.7 681.7,3167.8 684.9,3168.1 C688.1,3168.3 690.9,3164.6 694.5,3164.8 C698.1,3165.1 702.5,3169.3 706.5,3169.6 C710.5,3169.9 716.5,3167.2 718.5,3166.7"/>
<path stroke="#000000" stroke-width="8" d="M122.2,3272.7 C124.8,3272.5 133.8,3269.9 137.6,3271.3 C141.4,3272.7 141.6,3278.5 144.8,3280.9 C148.0,3283.3 152.8,3286.9 156.8,3285.7 C160.8,3284.5 164.8,3276.9 168.8,3273.7 C172.8,3270.5 177.6,3268.9 180.8,3266.5 C184.0,3264.1 185.2,3261.7 188,3259.3 C190.8,3256.9 194.4,3250.9 197.6,3252.1 C200.8,3253.3 204.0,3263.7 207.2,3266.5 C210.4,3269.3 213.6,3269.7 216.8,3268.9 C220.0,3268.1 223.2,3262.1 226.4,3261.7 C229.6,3261.3 232.8,3266.5 236,3266.5 C239.2,3266.5 241.6,3260.9 245.6,3261.7 C249.6,3262.5 255.2,3268.4 260,3271.3 C264.8,3274.2 270.0,3279.2 274.4,3279.4 C278.8,3279.6 282.8,3272.8 286.4,3272.7 C290.0,3272.5 292.4,3279.1 296,3278.5 C299.6,3277.9 304.1,3269.3 308.1,3268.9 C312.1,3268.5 315.7,3274.7 320.1,3276.1 C324.5,3277.5 330.5,3276.9 334.5,3277.5 C338.5,3278.1 340.5,3280.8 344.1,3279.4 C347.7,3278.0 351.7,3272.2 356.1,3268.9 C360.5,3265.6 366.1,3259.3 370.5,3259.3 C374.9,3259.3 378.5,3265.7 382.5,3268.9 C386.5,3272.1 390.9,3276.3 394.5,3278.5 C398.1,3280.7 400.5,3283.5 404.1,3282.3 C407.7,3281.1 412.5,3274.7 416.1,3271.3 C419.7,3267.9 422.9,3264.1 425.7,3261.7 C428.5,3259.3 430.1,3255.7 432.9,3256.9 C435.7,3258.1 438.9,3264.9 442.5,3268.9 C446.1,3272.9 450.5,3279.5 454.5,3280.9 C458.5,3282.3 462.9,3280.3 466.5,3277.5 C470.1,3274.7 472.5,3268.3 476.1,3264.1 C479.7,3259.9 483.7,3253.3 488.1,3252.1 C492.5,3250.9 498.1,3254.1 502.5,3256.9 C506.9,3259.7 510.9,3266.0 514.5,3268.9 C518.1,3271.8 520.1,3275.0 524.1,3274.6 C528.1,3274.2 533.7,3268.7 538.5,3266.5 C543.3,3264.3 548.9,3262.7 552.9,3261.7 C556.9,3260.7 558.9,3260.3 562.5,3260.7 C566.1,3261.1 570.1,3263.8 574.5,3264.1 C578.9,3264.4 584.1,3262.4 588.9,3262.6 C593.7,3262.8 598.9,3264.2 603.3,3265.5 C607.7,3266.8 610.5,3268.5 615.3,3270.3 C620.1,3272.1 626.9,3276.3 632.1,3276.1 C637.3,3275.9 641.7,3270.9 646.5,3268.9 C651.3,3266.9 656.1,3265.1 660.9,3264.1 C665.7,3263.1 670.9,3261.9 675.3,3263.1 C679.7,3264.3 683.3,3269.4 687.3,3271.3 C691.3,3273.2 695.7,3274.2 699.3,3274.6 C702.9,3275.0 705.7,3274.1 708.9,3273.7 C712.1,3273.3 716.9,3272.4 718.5,3272.2"/>
<path stroke="#2b60a1" stroke-width="8" d="M749.6,2104 C753.6,2104.2 765.6,2105.9 773.6,2105.5 C781.6,2105.1 790.0,2102.0 797.6,2101.6 C805.2,2101.2 812.4,2103.2 819.2,2103.1 C826.0,2102.9 831.6,2101.1 838.4,2100.7 C845.2,2100.3 852.4,2100.1 860,2100.7 C867.6,2101.2 876.0,2103.1 884,2104 C892.0,2104.9 900.0,2106.2 908,2106.4 C916.0,2106.7 924.8,2104.7 932,2105.5 C939.2,2106.3 944.8,2108.5 951.2,2111.2 C957.6,2113.9 964.9,2119.8 970.5,2121.8 C976.1,2123.8 979.7,2120.6 984.9,2123.2 C990.1,2125.8 996.5,2134.4 1001.7,2137.6 C1006.9,2140.8 1011.7,2140.0 1016.1,2142.4 C1020.5,2144.8 1023.7,2149.2 1028.1,2152 C1032.5,2154.8 1037.7,2156.8 1042.5,2159.2 C1047.3,2161.6 1052.1,2165.8 1056.9,2166.4 C1061.7,2167.1 1066.9,2165.5 1071.3,2163.1 C1075.7,2160.7 1079.7,2153.6 1083.3,2152 C1086.9,2150.4 1089.7,2155.1 1092.9,2153.5 C1096.1,2151.9 1098.9,2148.4 1102.5,2142.4 C1106.1,2136.4 1110.9,2123.2 1114.5,2117.5 C1118.1,2111.8 1120.9,2113.0 1124.1,2107.9 C1127.3,2102.8 1130.5,2093.0 1133.7,2087.2 C1136.9,2081.3 1140.5,2076.0 1143.3,2072.8 C1146.1,2069.6 1147.7,2068.6 1150.5,2068 C1153.3,2067.4 1157.3,2068.8 1160.1,2069.5 C1162.9,2070.2 1164.5,2070.2 1167.3,2071.9 C1170.1,2073.7 1173.7,2075.4 1176.9,2080 C1180.1,2084.6 1183.3,2092.8 1186.5,2099.2 C1189.7,2105.6 1192.9,2112.2 1196.1,2118.4 C1199.3,2124.6 1202.5,2132.2 1205.7,2136.2 C1208.9,2140.2 1212.5,2140.7 1215.3,2142.4 C1218.1,2144.1 1219.7,2146.7 1222.5,2146.3 C1225.3,2145.9 1228.9,2143.8 1232.1,2140 C1235.3,2136.2 1238.5,2130.0 1241.7,2123.2 C1244.9,2116.4 1248.1,2106.8 1251.3,2099.2 C1254.5,2091.6 1257.7,2083.6 1260.9,2077.6 C1264.1,2071.6 1267.7,2066.0 1270.5,2063.2 C1273.3,2060.4 1275.3,2060.0 1277.7,2060.8 C1280.1,2061.6 1281.7,2064.0 1284.9,2068 C1288.1,2072.0 1292.5,2078.8 1296.9,2084.8 C1301.3,2090.8 1306.9,2099.2 1311.3,2104 C1315.7,2108.8 1319.3,2112.4 1323.3,2113.6 C1327.3,2114.8 1331.2,2110.5 1335.3,2111.2 C1339.4,2111.8 1343.1,2115.1 1348,2117.5 C1352.9,2119.9 1360.0,2122.2 1364.8,2125.6 C1369.6,2128.9 1373.2,2134.1 1376.8,2137.6 C1380.4,2141.1 1382.4,2144.5 1386.4,2146.3 C1390.4,2148.1 1396.8,2147.4 1400.8,2148.2 C1404.8,2149.0 1407.2,2151.3 1410.4,2151.1 C1413.6,2150.9 1416.8,2149.8 1420,2147.2 C1423.2,2144.5 1426.4,2140.8 1429.6,2135.2 C1432.8,2129.6 1436.0,2122.8 1439.2,2113.6 C1442.4,2104.4 1445.6,2090.8 1448.8,2080 C1452.0,2069.2 1455.2,2058.0 1458.4,2048.8 C1461.6,2039.6 1465.0,2030.0 1468,2024.8 C1471.0,2019.6 1473.9,2018.0 1476.7,2017.6 C1479.5,2017.2 1481.8,2018.4 1484.8,2022.4 C1487.8,2026.4 1491.2,2035.6 1494.4,2041.6 C1497.6,2047.6 1500.8,2053.6 1504,2058.4 C1507.2,2063.2 1510.0,2067.0 1513.6,2070.4 C1517.2,2073.8 1521.3,2076.6 1525.7,2078.6 C1530.1,2080.6 1534.5,2081.4 1540.1,2082.4 C1545.7,2083.4 1552.9,2084.2 1559.3,2084.8 C1565.7,2085.5 1572.1,2086.3 1578.5,2086.3 C1584.9,2086.3 1591.3,2086.2 1597.7,2084.8 C1604.1,2083.4 1610.5,2078.9 1616.9,2077.6 C1623.3,2076.2 1630.5,2077.1 1636.1,2076.7 C1641.7,2076.3 1646.1,2075.0 1650.5,2075.2 C1654.9,2075.3 1657.7,2077.8 1662.5,2077.6 C1667.3,2077.4 1674.1,2074.7 1679.3,2074.3 C1684.5,2073.9 1689.3,2075.2 1693.7,2075.2 C1698.1,2075.2 1701.3,2074.1 1705.7,2074.3 C1710.1,2074.5 1715.7,2077.6 1720.1,2076.2 C1724.5,2074.8 1727.7,2068.3 1732.1,2065.6 C1736.5,2062.9 1741.3,2061.9 1746.5,2059.9 C1751.7,2057.9 1758.5,2053.4 1763.3,2053.6 C1768.1,2053.8 1770.1,2058.6 1775.3,2060.8 C1780.5,2063.0 1788.1,2064.6 1794.5,2066.6 C1800.9,2068.6 1807.3,2071.1 1813.7,2072.8 C1820.1,2074.5 1826.5,2074.8 1832.9,2076.7 C1839.3,2078.5 1845.7,2082.4 1852.1,2083.9 C1858.5,2085.4 1864.9,2085.7 1871.3,2085.8 C1877.7,2086.0 1884.1,2085.4 1890.5,2084.8 C1896.9,2084.2 1904.1,2082.8 1909.7,2082.4 C1915.3,2082.0 1919.3,2081.8 1924.1,2082.4 C1928.9,2083.0 1932.9,2084.8 1938.5,2085.8 C1944.1,2086.8 1952.6,2087.8 1957.8,2088.2 C1963.0,2088.6 1966.2,2088.4 1969.8,2088.2 C1973.4,2088.0 1977.8,2087.4 1979.4,2087.2"/>
<path stroke="#808000" stroke-width="8" d="M749.6,2209.7 C752.0,2209.5 758.4,2209.7 764,2208.7 C769.6,2207.7 776.8,2204.9 783.2,2203.9 C789.6,2202.9 796.0,2202.6 802.4,2202.5 C808.8,2202.4 814.8,2203.2 821.6,2203.4 C828.4,2203.6 836.8,2204.1 843.2,2203.9 C849.6,2203.8 854.8,2202.3 860,2202.5 C865.2,2202.7 870.4,2204.8 874.4,2204.9 C878.4,2205.1 879.2,2202.9 884,2203.4 C888.8,2203.9 897.6,2207.5 903.2,2208.2 C908.8,2208.8 912.0,2207.1 917.6,2207.3 C923.2,2207.6 930.8,2208.9 936.8,2209.7 C942.8,2210.5 948.4,2209.9 953.6,2212.1 C958.8,2214.2 962.9,2219.8 968.1,2222.6 C973.3,2225.4 979.3,2225.4 984.9,2228.9 C990.5,2232.4 997.3,2240.9 1001.7,2243.3 C1006.1,2245.7 1007.7,2242.1 1011.3,2243.3 C1014.9,2244.5 1018.1,2248.3 1023.3,2250.5 C1028.5,2252.7 1036.9,2254.3 1042.5,2256.7 C1048.1,2259.1 1052.1,2263.8 1056.9,2264.9 C1061.7,2266.0 1066.9,2264.8 1071.3,2263.4 C1075.7,2262.0 1079.7,2257.6 1083.3,2256.7 C1086.9,2255.8 1089.7,2259.9 1092.9,2257.7 C1096.1,2255.5 1098.9,2249.7 1102.5,2243.3 C1106.1,2236.9 1110.9,2224.7 1114.5,2219.3 C1118.1,2213.9 1120.9,2215.9 1124.1,2211.1 C1127.3,2206.3 1130.5,2196.3 1133.7,2190.5 C1136.9,2184.7 1140.1,2179.2 1143.3,2176 C1146.5,2172.8 1149.3,2172.0 1152.9,2171.2 C1156.5,2170.4 1161.3,2169.8 1164.9,2171.2 C1168.5,2172.6 1170.9,2175.1 1174.5,2179.9 C1178.1,2184.7 1182.9,2193.1 1186.5,2200.1 C1190.1,2207.1 1192.9,2214.9 1196.1,2221.7 C1199.3,2228.5 1202.5,2236.7 1205.7,2240.9 C1208.9,2245.1 1212.5,2245.5 1215.3,2247.1 C1218.1,2248.7 1219.7,2250.7 1222.5,2250.5 C1225.3,2250.3 1228.9,2248.5 1232.1,2245.7 C1235.3,2242.9 1238.5,2239.7 1241.7,2233.7 C1244.9,2227.7 1248.1,2217.3 1251.3,2209.7 C1254.5,2202.1 1257.7,2194.3 1260.9,2188.1 C1264.1,2181.9 1267.3,2175.9 1270.5,2172.7 C1273.7,2169.5 1277.3,2167.9 1280.1,2168.8 C1282.9,2169.8 1284.1,2174.0 1287.3,2178.4 C1290.5,2182.8 1295.3,2189.7 1299.3,2195.3 C1303.3,2200.9 1307.3,2208.1 1311.3,2212.1 C1315.3,2216.1 1319.3,2218.9 1323.3,2219.3 C1327.3,2219.7 1331.2,2214.1 1335.3,2214.5 C1339.4,2214.9 1343.1,2219.3 1348,2221.7 C1352.9,2224.1 1360.0,2226.1 1364.8,2228.9 C1369.6,2231.7 1373.2,2235.5 1376.8,2238.5 C1380.4,2241.5 1382.4,2245.5 1386.4,2247.1 C1390.4,2248.7 1396.8,2247.4 1400.8,2248.1 C1404.8,2248.8 1407.2,2251.4 1410.4,2251.4 C1413.6,2251.4 1416.8,2250.2 1420,2248.1 C1423.2,2245.9 1426.4,2244.1 1429.6,2238.5 C1432.8,2232.9 1436.0,2223.7 1439.2,2214.5 C1442.4,2205.3 1445.6,2193.3 1448.8,2183.3 C1452.0,2173.3 1455.2,2162.4 1458.4,2154.4 C1461.6,2146.4 1464.8,2139.2 1468,2135.2 C1471.2,2131.2 1474.4,2130.4 1477.6,2130.4 C1480.8,2130.4 1484.0,2131.8 1487.2,2135.2 C1490.4,2138.6 1493.6,2146.3 1496.8,2151.1 C1500.0,2155.9 1503.2,2160.2 1506.4,2164 C1509.6,2167.8 1512.0,2170.8 1516,2173.6 C1520.0,2176.4 1525.7,2179.1 1530.5,2180.9 C1535.3,2182.7 1539.7,2183.6 1544.9,2184.2 C1550.1,2184.8 1556.1,2184.2 1561.7,2184.7 C1567.3,2185.2 1572.5,2186.7 1578.5,2187.1 C1584.5,2187.5 1592.1,2187.1 1597.7,2187.1 C1603.3,2187.1 1607.3,2187.7 1612.1,2187.1 C1616.9,2186.5 1620.9,2183.9 1626.5,2183.3 C1632.1,2182.7 1639.7,2183.3 1645.7,2183.3 C1651.7,2183.3 1656.9,2184.5 1662.5,2183.3 C1668.1,2182.1 1673.3,2177.6 1679.3,2176 C1685.3,2174.4 1693.7,2173.6 1698.5,2173.6 C1703.3,2173.6 1704.1,2176.0 1708.1,2176 C1712.1,2176.0 1718.1,2175.2 1722.5,2173.6 C1726.9,2172.0 1730.1,2168.8 1734.5,2166.4 C1738.9,2164.0 1744.1,2160.8 1748.9,2159.2 C1753.7,2157.6 1758.9,2156.4 1763.3,2156.8 C1767.7,2157.2 1770.1,2159.8 1775.3,2161.6 C1780.5,2163.4 1788.9,2166.0 1794.5,2167.4 C1800.1,2168.8 1803.3,2168.2 1808.9,2169.8 C1814.5,2171.4 1821.7,2174.8 1828.1,2177 C1834.5,2179.2 1840.9,2182.1 1847.3,2183.3 C1853.7,2184.5 1859.3,2184.2 1866.5,2184.2 C1873.7,2184.2 1882.9,2183.5 1890.5,2183.3 C1898.1,2183.2 1905.7,2182.5 1912.1,2183.3 C1918.5,2184.1 1922.9,2186.3 1928.9,2188.1 C1934.9,2189.8 1942.1,2192.8 1948.1,2193.8 C1954.1,2194.8 1959.8,2194.1 1965,2194.3 C1970.2,2194.6 1977.0,2195.1 1979.4,2195.3"/>
<path stroke="#800000" stroke-width="8" d="M749.6,2306.6 C752.0,2306.3 758.4,2305.5 764,2304.7 C769.6,2303.9 777.2,2302.4 783.2,2301.8 C789.2,2301.2 794.0,2300.0 800,2300.9 C806.0,2301.8 813.2,2306.7 819.2,2307.1 C825.2,2307.5 829.2,2304.2 836,2303.3 C842.8,2302.4 852.4,2302.4 860,2301.8 C867.6,2301.2 874.4,2299.5 881.6,2299.9 C888.8,2300.3 897.2,2303.4 903.2,2304.2 C909.2,2305.0 912.0,2304.4 917.6,2304.7 C923.2,2304.9 932.0,2304.9 936.8,2305.7 C941.6,2306.5 942.4,2308.3 946.4,2309.5 C950.4,2310.7 956.9,2311.5 960.9,2312.9 C964.9,2314.3 966.5,2316.5 970.5,2317.7 C974.5,2318.9 979.7,2317.7 984.9,2320.1 C990.1,2322.5 996.5,2329.3 1001.7,2332.1 C1006.9,2334.9 1011.7,2334.9 1016.1,2336.9 C1020.5,2338.9 1022.9,2342.3 1028.1,2344.1 C1033.3,2345.9 1042.1,2345.9 1047.3,2347.9 C1052.5,2349.9 1055.3,2355.1 1059.3,2356.1 C1063.3,2357.1 1067.7,2355.3 1071.3,2353.7 C1074.9,2352.1 1077.3,2347.5 1080.9,2346.5 C1084.5,2345.5 1089.3,2349.1 1092.9,2347.9 C1096.5,2346.7 1098.9,2344.7 1102.5,2339.3 C1106.1,2333.9 1110.9,2320.7 1114.5,2315.3 C1118.1,2309.9 1120.9,2311.5 1124.1,2307.1 C1127.3,2302.7 1130.5,2294.3 1133.7,2288.9 C1136.9,2283.5 1140.9,2277.5 1143.3,2274.5 C1145.7,2271.5 1145.3,2271.1 1148.1,2271.1 C1150.9,2271.1 1156.1,2273.8 1160.1,2274.5 C1164.1,2275.2 1168.5,2273.0 1172.1,2275.4 C1175.7,2277.8 1178.5,2283.9 1181.7,2288.9 C1184.9,2293.9 1188.1,2300.1 1191.3,2305.7 C1194.5,2311.3 1197.7,2318.1 1200.9,2322.5 C1204.1,2326.9 1207.0,2329.5 1210.5,2332.1 C1214.0,2334.7 1218.0,2338.2 1221.6,2337.8 C1225.2,2337.4 1228.8,2333.0 1232.1,2329.7 C1235.4,2326.3 1238.5,2322.7 1241.7,2317.7 C1244.9,2312.7 1248.1,2305.9 1251.3,2299.9 C1254.5,2293.9 1257.7,2286.7 1260.9,2281.7 C1264.1,2276.7 1267.7,2272.1 1270.5,2269.7 C1273.3,2267.3 1274.9,2266.1 1277.7,2267.3 C1280.5,2268.5 1283.7,2272.9 1287.3,2276.9 C1290.9,2280.9 1295.3,2286.5 1299.3,2291.3 C1303.3,2296.1 1307.3,2301.7 1311.3,2305.7 C1315.3,2309.7 1319.3,2314.5 1323.3,2315.3 C1327.3,2316.1 1331.2,2310.5 1335.3,2310.5 C1339.4,2310.5 1342.7,2312.8 1348,2315.3 C1353.3,2317.9 1361.2,2321.2 1367.2,2325.8 C1373.2,2330.4 1379.2,2339.2 1384,2342.6 C1388.8,2346.0 1391.4,2345.2 1396,2346.5 C1400.6,2347.8 1407.0,2350.7 1411.4,2350.3 C1415.8,2349.9 1419.0,2347.1 1422.4,2344.1 C1425.8,2341.1 1428.8,2338.1 1432,2332.1 C1435.2,2326.1 1438.4,2317.3 1441.6,2308.1 C1444.8,2298.9 1448.0,2285.7 1451.2,2276.9 C1454.4,2268.1 1457.6,2261.3 1460.8,2255.3 C1464.0,2249.3 1467.4,2243.7 1470.4,2240.9 C1473.4,2238.1 1475.8,2238.1 1478.6,2238.5 C1481.4,2238.9 1484.2,2240.1 1487.2,2243.3 C1490.2,2246.5 1493.6,2253.3 1496.8,2257.7 C1500.0,2262.1 1503.2,2266.3 1506.4,2269.7 C1509.6,2273.1 1512.0,2276.1 1516,2278.3 C1520.0,2280.5 1525.7,2281.9 1530.5,2283.1 C1535.3,2284.3 1539.3,2285.3 1544.9,2285.5 C1550.5,2285.7 1556.9,2284.2 1564.1,2284.1 C1571.3,2284.0 1580.9,2284.6 1588.1,2285 C1595.3,2285.4 1601.7,2287.4 1607.3,2286.5 C1612.9,2285.6 1616.9,2280.8 1621.7,2279.3 C1626.5,2277.9 1630.5,2278.9 1636.1,2277.8 C1641.7,2276.8 1650.5,2273.3 1655.3,2273 C1660.1,2272.7 1660.9,2275.9 1664.9,2275.9 C1668.9,2275.9 1673.7,2273.6 1679.3,2273 C1684.9,2272.4 1691.3,2272.2 1698.5,2272.1 C1705.7,2271.9 1716.1,2272.9 1722.5,2272.1 C1728.9,2271.3 1732.1,2268.9 1736.9,2267.3 C1741.7,2265.7 1746.9,2263.5 1751.3,2262.5 C1755.7,2261.5 1759.3,2260.9 1763.3,2261.5 C1767.3,2262.1 1770.9,2264.7 1775.3,2265.8 C1779.7,2266.9 1784.9,2267.5 1789.7,2268.2 C1794.5,2268.8 1798.5,2268.6 1804.1,2269.7 C1809.7,2270.8 1816.9,2273.1 1823.3,2274.5 C1829.7,2275.9 1836.1,2276.9 1842.5,2278.3 C1848.9,2279.7 1856.1,2282.1 1861.7,2283.1 C1867.3,2284.1 1870.5,2284.2 1876.1,2284.1 C1881.7,2284.0 1888.9,2283.2 1895.3,2282.6 C1901.7,2282.0 1908.9,2280.2 1914.5,2280.7 C1920.1,2281.2 1923.3,2283.7 1928.9,2285.5 C1934.5,2287.3 1942.1,2289.9 1948.1,2291.3 C1954.1,2292.7 1959.8,2293.5 1965,2293.7 C1970.2,2293.9 1977.0,2292.9 1979.4,2292.7"/>
<path stroke="#800080" stroke-width="8" d="M749.6,2435.3 C752.0,2435.1 758.4,2434.7 764,2433.9 C769.6,2433.1 776.8,2431.2 783.2,2430.5 C789.6,2429.8 796.0,2429.1 802.4,2429.5 C808.8,2429.9 816.0,2432.9 821.6,2432.9 C827.2,2432.9 829.6,2430.1 836,2429.5 C842.4,2428.9 852.0,2429.2 860,2429.1 C868.0,2429.0 876.8,2428.7 884,2429.1 C891.2,2429.5 896.8,2430.9 903.2,2431.5 C909.6,2432.1 916.8,2432.5 922.4,2432.9 C928.0,2433.3 932.8,2433.3 936.8,2433.9 C940.8,2434.5 942.4,2435.9 946.4,2436.3 C950.4,2436.7 956.9,2435.7 960.9,2436.3 C964.9,2436.9 966.5,2439.2 970.5,2440.1 C974.5,2441.0 979.7,2439.6 984.9,2441.6 C990.1,2443.6 997.3,2450.3 1001.7,2452.1 C1006.1,2453.8 1007.7,2450.6 1011.3,2452.1 C1014.9,2453.6 1018.1,2458.0 1023.3,2460.8 C1028.5,2463.6 1036.5,2466.2 1042.5,2468.9 C1048.5,2471.6 1054.5,2476.4 1059.3,2477.1 C1064.1,2477.8 1067.3,2474.4 1071.3,2472.8 C1075.3,2471.2 1079.7,2468.2 1083.3,2467.5 C1086.9,2466.8 1089.7,2469.9 1092.9,2468.9 C1096.1,2467.9 1098.9,2465.3 1102.5,2461.7 C1106.1,2458.1 1110.9,2450.7 1114.5,2447.3 C1118.1,2444.0 1120.9,2445.2 1124.1,2441.6 C1127.3,2438.0 1130.5,2430.3 1133.7,2425.7 C1136.9,2421.0 1140.1,2416.5 1143.3,2413.7 C1146.5,2410.9 1148.9,2409.7 1152.9,2408.9 C1156.9,2408.1 1163.3,2407.7 1167.3,2408.9 C1171.3,2410.1 1173.7,2412.5 1176.9,2416.1 C1180.1,2419.7 1183.3,2425.7 1186.5,2430.5 C1189.7,2435.3 1192.5,2440.5 1196.1,2444.9 C1199.7,2449.3 1203.8,2454.2 1208.1,2456.9 C1212.3,2459.6 1217.6,2460.8 1221.6,2460.8 C1225.6,2460.8 1228.8,2459.3 1232.1,2456.9 C1235.4,2454.5 1238.5,2450.4 1241.7,2446.4 C1244.9,2442.4 1248.1,2437.3 1251.3,2432.9 C1254.5,2428.5 1257.7,2423.9 1260.9,2419.9 C1264.1,2415.9 1267.3,2411.3 1270.5,2408.9 C1273.7,2406.5 1276.9,2404.7 1280.1,2405.5 C1283.3,2406.3 1286.5,2410.7 1289.7,2413.7 C1292.9,2416.7 1295.7,2420.3 1299.3,2423.3 C1302.9,2426.3 1307.3,2429.1 1311.3,2431.9 C1315.3,2434.7 1319.3,2439.3 1323.3,2440.1 C1327.3,2440.9 1331.2,2436.4 1335.3,2436.7 C1339.4,2436.9 1342.7,2439.0 1348,2441.6 C1353.3,2444.2 1361.2,2447.5 1367.2,2452.1 C1373.2,2456.7 1379.2,2465.4 1384,2468.9 C1388.8,2472.4 1391.2,2471.2 1396,2472.8 C1400.8,2474.4 1408.4,2478.3 1412.8,2478.5 C1417.2,2478.7 1419.2,2476.1 1422.4,2473.7 C1425.6,2471.3 1428.8,2468.9 1432,2464.1 C1435.2,2459.3 1438.4,2452.5 1441.6,2444.9 C1444.8,2437.3 1448.0,2426.1 1451.2,2418.5 C1454.4,2410.9 1457.6,2404.7 1460.8,2399.3 C1464.0,2393.9 1467.4,2389.1 1470.4,2386.3 C1473.4,2383.5 1475.8,2382.5 1478.6,2382.5 C1481.4,2382.5 1484.2,2384.1 1487.2,2386.3 C1490.2,2388.5 1493.2,2392.7 1496.8,2395.9 C1500.4,2399.1 1504.8,2403.6 1508.8,2405.5 C1512.8,2407.4 1516.5,2407.2 1520.9,2407.5 C1525.3,2407.8 1529.7,2407.0 1535.3,2407.5 C1540.9,2408.0 1548.1,2409.7 1554.5,2410.3 C1560.9,2410.9 1567.3,2411.1 1573.7,2411.3 C1580.1,2411.5 1586.5,2411.5 1592.9,2411.3 C1599.3,2411.1 1605.7,2410.5 1612.1,2409.9 C1618.5,2409.3 1624.9,2408.7 1631.3,2407.5 C1637.7,2406.3 1644.1,2404.1 1650.5,2402.7 C1656.9,2401.3 1664.1,2399.5 1669.7,2399.3 C1675.3,2399.1 1679.3,2400.9 1684.1,2401.7 C1688.9,2402.5 1693.7,2403.5 1698.5,2404.1 C1703.3,2404.7 1708.1,2405.9 1712.9,2405.1 C1717.7,2404.3 1722.5,2401.6 1727.3,2399.3 C1732.1,2397.0 1737.3,2393.1 1741.7,2391.1 C1746.1,2389.1 1749.7,2387.9 1753.7,2387.3 C1757.7,2386.7 1761.3,2386.3 1765.7,2387.3 C1770.1,2388.3 1775.3,2391.7 1780.1,2393.5 C1784.9,2395.3 1790.5,2397.5 1794.5,2397.9 C1798.5,2398.3 1799.3,2395.4 1804.1,2395.9 C1808.9,2396.4 1817.7,2399.7 1823.3,2400.7 C1828.9,2401.7 1832.1,2400.6 1837.7,2401.7 C1843.3,2402.8 1850.5,2405.7 1856.9,2407.5 C1863.3,2409.3 1870.5,2411.1 1876.1,2412.3 C1881.7,2413.5 1885.7,2414.6 1890.5,2414.7 C1895.3,2414.8 1900.1,2413.3 1904.9,2412.7 C1909.7,2412.1 1914.5,2411.0 1919.3,2411.3 C1924.1,2411.6 1928.1,2413.3 1933.7,2414.7 C1939.3,2416.1 1947.3,2418.6 1952.9,2419.5 C1958.5,2420.4 1963.0,2419.9 1967.4,2419.9 C1971.8,2419.9 1977.4,2419.6 1979.4,2419.5"/>
<path stroke="#8000ff" stroke-width="8" d="M749.6,2559.1 C753.6,2558.7 765.6,2557.8 773.6,2556.7 C781.6,2555.6 790.0,2553.1 797.6,2552.8 C805.2,2552.6 812.8,2555.2 819.2,2555.2 C825.6,2555.2 829.2,2553.2 836,2552.8 C842.8,2552.4 853.2,2553.2 860,2552.8 C866.8,2552.4 871.2,2550.2 876.8,2550.4 C882.4,2550.6 887.6,2553.0 893.6,2553.8 C899.6,2554.6 906.4,2554.7 912.8,2555.2 C919.2,2555.7 926.4,2556.1 932,2556.7 C937.6,2557.3 941.6,2558.4 946.4,2558.6 C951.2,2558.8 955.3,2557.1 960.9,2557.6 C966.5,2558.1 974.5,2559.7 980.1,2561.5 C985.7,2563.3 989.7,2567.5 994.5,2568.7 C999.3,2569.9 1004.1,2567.3 1008.9,2568.7 C1013.7,2570.0 1018.5,2574.7 1023.3,2576.8 C1028.1,2579.0 1032.5,2579.8 1037.7,2581.6 C1042.9,2583.4 1049.7,2587.5 1054.5,2587.9 C1059.3,2588.3 1062.5,2585.1 1066.5,2584 C1070.5,2582.9 1074.5,2581.3 1078.5,2581.6 C1082.5,2581.8 1086.9,2586.3 1090.5,2585.5 C1094.1,2584.7 1096.9,2580.2 1100.1,2576.8 C1103.3,2573.4 1106.1,2567.8 1109.7,2564.8 C1113.3,2561.8 1118.1,2561.8 1121.7,2558.6 C1125.3,2555.4 1128.1,2549.4 1131.3,2545.6 C1134.5,2541.8 1137.7,2538.2 1140.9,2536 C1144.1,2533.8 1146.5,2533.2 1150.5,2532.6 C1154.5,2532.0 1160.9,2531.6 1164.9,2532.6 C1168.9,2533.6 1171.3,2535.4 1174.5,2538.4 C1177.7,2541.4 1180.9,2546.6 1184.1,2550.4 C1187.3,2554.2 1190.5,2558.3 1193.7,2561.5 C1196.9,2564.7 1200.1,2568.0 1203.3,2569.6 C1206.5,2571.2 1210.1,2570.4 1212.9,2571.1 C1215.7,2571.8 1217.3,2574.2 1220.1,2573.5 C1222.9,2572.8 1226.5,2569.4 1229.7,2567.2 C1232.9,2564.9 1236.1,2563.2 1239.3,2560 C1242.5,2556.8 1245.7,2551.8 1248.9,2548 C1252.1,2544.2 1255.3,2540.4 1258.5,2537.4 C1261.7,2534.4 1265.0,2531.5 1268.1,2529.8 C1271.1,2528.1 1274.0,2526.8 1276.8,2527.4 C1279.6,2528.0 1281.6,2531.1 1284.9,2533.6 C1288.2,2536.1 1292.5,2539.0 1296.9,2542.2 C1301.3,2545.4 1306.9,2550.1 1311.3,2552.8 C1315.7,2555.5 1319.0,2558.4 1323.3,2558.6 C1327.5,2558.8 1332.7,2553.8 1336.8,2553.8 C1340.9,2553.8 1344.1,2556.8 1348,2558.6 C1351.9,2560.4 1356.0,2561.9 1360,2564.8 C1364.0,2567.7 1368.0,2572.3 1372,2575.9 C1376.0,2579.5 1380.0,2584.2 1384,2586.4 C1388.0,2588.6 1391.6,2587.4 1396,2588.8 C1400.4,2590.2 1406.0,2594.6 1410.4,2594.6 C1414.8,2594.6 1418.8,2591.8 1422.4,2588.8 C1426.0,2585.8 1428.8,2582.4 1432,2576.8 C1435.2,2571.2 1438.4,2562.4 1441.6,2555.2 C1444.8,2548.0 1448.0,2539.8 1451.2,2533.6 C1454.4,2527.4 1457.6,2522.0 1460.8,2518.2 C1464.0,2514.4 1467.2,2511.6 1470.4,2510.6 C1473.6,2509.6 1476.8,2510.4 1480,2512 C1483.2,2513.6 1486.4,2517.4 1489.6,2520.2 C1492.8,2523.0 1495.6,2526.6 1499.2,2528.8 C1502.8,2531.0 1506.8,2532.6 1511.2,2533.6 C1515.6,2534.6 1520.9,2534.6 1525.7,2535 C1530.5,2535.4 1535.3,2535.4 1540.1,2536 C1544.9,2536.6 1548.9,2537.8 1554.5,2538.4 C1560.1,2539.0 1567.3,2539.6 1573.7,2539.4 C1580.1,2539.2 1586.5,2538.0 1592.9,2537.4 C1599.3,2536.8 1605.7,2536.9 1612.1,2536 C1618.5,2535.1 1624.9,2533.6 1631.3,2532.2 C1637.7,2530.8 1644.9,2528.6 1650.5,2527.4 C1656.1,2526.2 1659.3,2525.0 1664.9,2525 C1670.5,2525.0 1676.9,2526.6 1684.1,2527.4 C1691.3,2528.2 1701.7,2530.0 1708.1,2529.8 C1714.5,2529.6 1717.7,2528.3 1722.5,2526.4 C1727.3,2524.5 1732.1,2520.4 1736.9,2518.2 C1741.7,2516.0 1746.9,2514.0 1751.3,2513.4 C1755.7,2512.8 1759.3,2513.4 1763.3,2514.4 C1767.3,2515.4 1770.9,2517.4 1775.3,2519.2 C1779.7,2521.0 1784.9,2524.4 1789.7,2525 C1794.5,2525.6 1799.3,2522.2 1804.1,2522.6 C1808.9,2523.0 1813.7,2526.0 1818.5,2527.4 C1823.3,2528.8 1828.1,2530.3 1832.9,2531.2 C1837.7,2532.1 1842.5,2531.6 1847.3,2532.6 C1852.1,2533.6 1856.5,2535.6 1861.7,2537.4 C1866.9,2539.2 1872.9,2542.4 1878.5,2543.2 C1884.1,2544.0 1889.3,2542.6 1895.3,2542.2 C1901.3,2541.8 1908.9,2540.5 1914.5,2540.8 C1920.1,2541.1 1924.1,2543.0 1928.9,2544.2 C1933.7,2545.4 1937.7,2547.2 1943.3,2548 C1948.9,2548.8 1956.6,2549.0 1962.6,2549 C1968.6,2549.0 1976.6,2548.2 1979.4,2548"/>
<path stroke="#000080" stroke-width="8" d="M749.6,2682.4 C752.8,2682.4 762.4,2682.8 768.8,2682.4 C775.2,2682.0 781.6,2680.8 788,2680 C794.4,2679.2 800.8,2677.8 807.2,2677.6 C813.6,2677.4 820.0,2679.1 826.4,2679.1 C832.8,2679.1 839.2,2677.8 845.6,2677.6 C852.0,2677.3 859.2,2678.2 864.8,2677.6 C870.4,2677.0 874.4,2674.4 879.2,2673.8 C884.0,2673.2 889.2,2673.6 893.6,2673.8 C898.0,2674.0 902.0,2675.5 905.6,2675.2 C909.2,2674.9 910.8,2672.1 915.2,2671.9 C919.6,2671.7 927.6,2673.0 932,2673.8 C936.4,2674.6 937.6,2676.7 941.6,2676.7 C945.6,2676.7 951.2,2674.5 956,2673.8 C960.8,2673.2 965.7,2672.6 970.5,2672.8 C975.3,2673.0 979.7,2674.4 984.9,2675.2 C990.1,2676.0 997.3,2678.0 1001.7,2677.6 C1006.1,2677.2 1007.7,2672.4 1011.3,2672.8 C1014.9,2673.2 1018.9,2678.0 1023.3,2680 C1027.7,2682.0 1033.3,2684.4 1037.7,2684.8 C1042.1,2685.2 1046.5,2682.2 1049.7,2682.4 C1052.9,2682.7 1054.1,2686.7 1056.9,2686.3 C1059.7,2685.9 1063.3,2680.7 1066.5,2680 C1069.7,2679.3 1072.1,2680.8 1076.1,2682.4 C1080.1,2684.0 1086.5,2689.6 1090.5,2689.6 C1094.5,2689.6 1096.5,2685.6 1100.1,2682.4 C1103.7,2679.2 1108.1,2672.8 1112.1,2670.4 C1116.1,2668.0 1120.5,2670.0 1124.1,2668 C1127.7,2666.0 1130.5,2660.6 1133.7,2658.4 C1136.9,2656.2 1140.1,2654.8 1143.3,2654.6 C1146.5,2654.4 1148.9,2656.9 1152.9,2657.5 C1156.9,2658.1 1163.3,2657.5 1167.3,2658.4 C1171.3,2659.3 1173.7,2661.4 1176.9,2663.2 C1180.1,2665.0 1183.3,2667.8 1186.5,2669 C1189.7,2670.2 1193.7,2669.1 1196.1,2670.4 C1198.5,2671.7 1198.9,2676.4 1200.9,2676.7 C1202.9,2676.9 1205.3,2672.2 1208.1,2671.9 C1210.9,2671.7 1214.5,2675.8 1217.7,2675.2 C1220.9,2674.5 1224.5,2669.3 1227.3,2668 C1230.1,2666.7 1232.1,2668.4 1234.5,2667.1 C1236.9,2665.8 1238.9,2661.8 1241.7,2659.9 C1244.5,2658.1 1248.1,2657.4 1251.3,2656 C1254.5,2654.6 1258.1,2651.8 1260.9,2651.2 C1263.7,2650.6 1265.4,2653.1 1268.1,2652.7 C1270.8,2652.3 1274.0,2648.5 1276.8,2648.8 C1279.6,2649.1 1281.6,2653.8 1284.9,2654.6 C1288.2,2655.4 1292.9,2652.3 1296.9,2653.6 C1300.9,2654.9 1304.9,2660.3 1308.9,2662.3 C1312.9,2664.3 1316.1,2666.0 1320.9,2665.6 C1325.7,2665.2 1333.2,2659.7 1337.7,2659.9 C1342.2,2660.1 1344.3,2665.2 1348,2666.6 C1351.7,2667.9 1356.0,2666.2 1360,2668 C1364.0,2669.8 1368.0,2674.5 1372,2677.6 C1376.0,2680.7 1380.0,2683.9 1384,2686.3 C1388.0,2688.7 1391.8,2689.8 1396,2692 C1400.2,2694.2 1405.1,2698.5 1409.5,2699.2 C1413.9,2699.8 1418.7,2697.9 1422.4,2695.9 C1426.2,2693.9 1428.8,2691.4 1432,2687.2 C1435.2,2682.9 1438.4,2676.0 1441.6,2670.4 C1444.8,2664.8 1447.6,2658.2 1451.2,2653.6 C1454.8,2649.0 1459.2,2645.0 1463.2,2642.6 C1467.2,2640.2 1471.6,2639.1 1475.2,2639.2 C1478.8,2639.3 1481.2,2641.1 1484.8,2643.1 C1488.4,2645.1 1492.8,2648.9 1496.8,2651.2 C1500.8,2653.5 1504.0,2655.6 1508.8,2657 C1513.6,2658.4 1520.5,2658.9 1525.7,2659.9 C1530.9,2660.9 1535.3,2662.0 1540.1,2663.2 C1544.9,2664.4 1548.9,2666.0 1554.5,2667.1 C1560.1,2668.2 1567.3,2669.6 1573.7,2669.5 C1580.1,2669.4 1586.5,2667.8 1592.9,2666.6 C1599.3,2665.4 1605.7,2663.7 1612.1,2662.3 C1618.5,2660.9 1624.9,2660.1 1631.3,2658.4 C1637.7,2656.7 1644.1,2653.5 1650.5,2652.2 C1656.9,2650.8 1663.3,2650.3 1669.7,2650.3 C1676.1,2650.3 1683.3,2651.6 1688.9,2652.2 C1694.5,2652.8 1698.5,2653.9 1703.3,2653.6 C1708.1,2653.3 1712.9,2651.9 1717.7,2650.3 C1722.5,2648.7 1726.5,2645.8 1732.1,2644 C1737.7,2642.2 1746.1,2639.6 1751.3,2639.2 C1756.5,2638.8 1759.3,2640.4 1763.3,2641.6 C1767.3,2642.8 1770.9,2644.6 1775.3,2646.4 C1779.7,2648.2 1784.9,2652.3 1789.7,2652.7 C1794.5,2653.1 1799.3,2649.1 1804.1,2648.8 C1808.9,2648.6 1814.5,2649.6 1818.5,2651.2 C1822.5,2652.8 1824.5,2657.8 1828.1,2658.4 C1831.7,2659.0 1835.7,2654.4 1840.1,2654.6 C1844.5,2654.8 1850.1,2657.2 1854.5,2659.4 C1858.9,2661.6 1862.1,2666.0 1866.5,2668 C1870.9,2670.0 1875.3,2671.0 1880.9,2671.4 C1886.5,2671.8 1894.5,2670.6 1900.1,2670.4 C1905.7,2670.2 1909.7,2669.6 1914.5,2670.4 C1919.3,2671.2 1924.1,2673.6 1928.9,2675.2 C1933.7,2676.8 1937.7,2679.2 1943.3,2680 C1948.9,2680.8 1956.6,2680.2 1962.6,2680 C1968.6,2679.8 1976.6,2678.8 1979.4,2678.6"/>
<path stroke="#008000" stroke-width="8" d="M749.6,2804.9 C752.8,2804.7 762.4,2804.1 768.8,2803.9 C775.2,2803.7 783.2,2804.5 788,2803.9 C792.8,2803.3 793.6,2800.2 797.6,2800.1 C801.6,2800.0 806.8,2803.2 812,2803.4 C817.2,2803.6 823.2,2802.1 828.8,2801.5 C834.4,2800.9 839.6,2800.1 845.6,2800.1 C851.6,2800.1 859.6,2802.6 864.8,2801.5 C870.0,2800.4 873.2,2794.8 876.8,2793.8 C880.4,2792.8 883.2,2796.0 886.4,2795.3 C889.6,2794.6 892.8,2789.9 896,2789.5 C899.2,2789.1 902.0,2793.3 905.6,2792.9 C909.2,2792.5 913.6,2787.3 917.6,2787.1 C921.6,2786.9 925.6,2790.9 929.6,2791.9 C933.6,2792.9 937.6,2793.9 941.6,2792.9 C945.6,2791.9 950.0,2787.1 953.6,2785.7 C957.2,2784.2 960.1,2785.2 963.3,2784.2 C966.5,2783.1 968.9,2779.7 972.9,2779.4 C976.9,2779.1 982.9,2782.9 987.3,2782.3 C991.7,2781.8 995.3,2778.3 999.3,2776.1 C1003.3,2773.9 1007.3,2768.9 1011.3,2768.9 C1015.3,2768.9 1018.9,2774.7 1023.3,2776.1 C1027.7,2777.5 1033.3,2779.1 1037.7,2777.5 C1042.1,2775.9 1046.5,2768.1 1049.7,2766.5 C1052.9,2764.9 1054.3,2768.5 1056.9,2767.9 C1059.5,2767.3 1062.3,2762.5 1065.5,2763.1 C1068.7,2763.7 1072.7,2768.6 1076.1,2771.3 C1079.5,2774.0 1082.9,2777.2 1085.7,2779.4 C1088.5,2781.6 1090.1,2784.2 1092.9,2784.2 C1095.7,2784.2 1099.3,2781.2 1102.5,2779.4 C1105.7,2777.7 1108.9,2774.8 1112.1,2773.7 C1115.3,2772.6 1118.1,2772.7 1121.7,2772.7 C1125.3,2772.7 1129.7,2772.7 1133.7,2773.7 C1137.7,2774.7 1141.7,2775.9 1145.7,2778.5 C1149.7,2781.1 1154.1,2787.8 1157.7,2789.5 C1161.3,2791.2 1163.7,2789.4 1167.3,2789 C1170.9,2788.6 1175.7,2788.2 1179.3,2787.1 C1182.9,2786.0 1186.1,2784.5 1188.9,2782.3 C1191.7,2780.1 1193.7,2775.1 1196.1,2773.7 C1198.5,2772.3 1200.9,2775.7 1203.3,2773.7 C1205.7,2771.7 1207.7,2763.5 1210.5,2761.7 C1213.3,2759.9 1216.9,2764.7 1220.1,2763.1 C1223.3,2761.5 1226.9,2752.7 1229.7,2752.1 C1232.5,2751.5 1234.5,2758.9 1236.9,2759.3 C1239.3,2759.7 1241.3,2754.5 1244.1,2754.5 C1246.9,2754.5 1250.5,2757.7 1253.7,2759.3 C1256.9,2760.9 1259.7,2761.9 1263.3,2764.1 C1266.9,2766.3 1271.7,2771.9 1275.3,2772.7 C1278.9,2773.5 1282.1,2770.5 1284.9,2768.9 C1287.7,2767.3 1289.7,2764.7 1292.1,2763.1 C1294.5,2761.5 1296.9,2759.3 1299.3,2759.3 C1301.7,2759.3 1304.1,2763.1 1306.5,2763.1 C1308.9,2763.1 1310.9,2758.9 1313.7,2759.3 C1316.5,2759.7 1319.7,2765.5 1323.3,2765.5 C1326.9,2765.5 1331.2,2759.7 1335.3,2759.3 C1339.4,2758.9 1344.3,2762.9 1348,2763.1 C1351.7,2763.3 1354.4,2759.6 1357.6,2760.7 C1360.8,2761.8 1364.0,2767.2 1367.2,2769.8 C1370.4,2772.4 1373.6,2773.8 1376.8,2776.1 C1380.0,2778.3 1382.8,2781.1 1386.4,2783.3 C1390.0,2785.5 1394.6,2787.3 1398.4,2789.5 C1402.2,2791.7 1406.3,2796.0 1409.5,2796.7 C1412.7,2797.4 1415.0,2793.6 1417.6,2793.8 C1420.1,2794.0 1422.0,2798.2 1424.8,2797.7 C1427.6,2797.1 1431.2,2792.5 1434.4,2790.5 C1437.6,2788.5 1440.4,2788.1 1444,2785.7 C1447.6,2783.3 1452.0,2778.3 1456,2776.1 C1460.0,2773.8 1464.0,2772.8 1468,2772.2 C1472.0,2771.6 1476.0,2771.6 1480,2772.7 C1484.0,2773.8 1488.0,2776.7 1492,2778.5 C1496.0,2780.3 1500.0,2782.1 1504,2783.3 C1508.0,2784.5 1512.0,2785.1 1516,2785.7 C1520.0,2786.2 1524.1,2785.6 1528.1,2786.6 C1532.1,2787.6 1535.7,2789.6 1540.1,2791.4 C1544.5,2793.2 1549.7,2796.0 1554.5,2797.7 C1559.3,2799.4 1564.1,2801.1 1568.9,2801.5 C1573.7,2801.9 1578.5,2801.3 1583.3,2800.1 C1588.1,2798.9 1592.9,2795.8 1597.7,2794.3 C1602.5,2792.9 1607.3,2792.6 1612.1,2791.4 C1616.9,2790.2 1621.7,2789.0 1626.5,2787.1 C1631.3,2785.2 1636.1,2782.0 1640.9,2779.9 C1645.7,2777.8 1650.5,2775.8 1655.3,2774.6 C1660.1,2773.4 1664.9,2772.4 1669.7,2772.7 C1674.5,2772.9 1679.3,2775.9 1684.1,2776.1 C1688.9,2776.3 1694.1,2774.5 1698.5,2773.7 C1702.9,2772.9 1706.5,2772.1 1710.5,2771.3 C1714.5,2770.5 1718.1,2769.7 1722.5,2768.9 C1726.9,2768.1 1731.7,2767.1 1736.9,2766.5 C1742.1,2765.9 1748.9,2764.9 1753.7,2765.5 C1758.5,2766.1 1761.7,2768.4 1765.7,2769.8 C1769.7,2771.2 1774.1,2772.0 1777.7,2773.7 C1781.3,2775.4 1783.7,2779.9 1787.3,2779.9 C1790.9,2779.9 1794.5,2774.5 1799.3,2773.7 C1804.1,2772.9 1811.7,2772.9 1816.1,2775.1 C1820.5,2777.2 1822.1,2785.8 1825.7,2786.6 C1829.3,2787.4 1834.5,2780.1 1837.7,2779.9 C1840.9,2779.8 1842.1,2784.7 1844.9,2785.7 C1847.7,2786.7 1850.9,2783.1 1854.5,2785.7 C1858.1,2788.2 1862.9,2798.1 1866.5,2801 C1870.1,2803.9 1872.9,2802.8 1876.1,2803.4 C1879.3,2804.1 1882.5,2805.1 1885.7,2804.9 C1888.9,2804.8 1891.3,2802.5 1895.3,2802.5 C1899.3,2802.5 1904.9,2804.1 1909.7,2804.9 C1914.5,2805.7 1918.5,2805.7 1924.1,2807.3 C1929.7,2808.9 1936.9,2813.3 1943.3,2814.5 C1949.7,2815.7 1956.6,2814.9 1962.6,2814.5 C1968.6,2814.1 1976.6,2812.5 1979.4,2812.1"/>
<path stroke="#ff00ff" stroke-width="8" d="M749.6,2945.1 C752.8,2945.1 762.8,2944.9 768.8,2945.1 C774.8,2945.3 780.8,2947.2 785.6,2946.5 C790.4,2945.8 793.2,2941.3 797.6,2940.7 C802.0,2940.1 807.2,2942.7 812,2942.7 C816.8,2942.7 820.8,2941.3 826.4,2940.7 C832.0,2940.1 839.2,2939.3 845.6,2939.3 C852.0,2939.3 860.0,2942.3 864.8,2940.7 C869.6,2939.1 870.8,2931.1 874.4,2929.7 C878.0,2928.3 882.8,2933.1 886.4,2932.1 C890.0,2931.1 892.8,2924.3 896,2923.5 C899.2,2922.7 902.1,2928.3 905.6,2927.3 C909.1,2926.3 912.7,2918.1 916.7,2917.7 C920.7,2917.3 925.5,2923.9 929.6,2924.9 C933.8,2925.9 937.6,2925.7 941.6,2923.9 C945.6,2922.1 950.0,2916.1 953.6,2913.9 C957.2,2911.7 960.1,2912.4 963.3,2910.5 C966.5,2908.6 969.3,2903.1 972.9,2902.3 C976.5,2901.5 980.9,2907.5 984.9,2905.7 C988.9,2903.9 992.5,2895.6 996.9,2891.3 C1001.3,2887.1 1006.9,2881.4 1011.3,2880.2 C1015.7,2879.0 1020.1,2883.8 1023.3,2884.1 C1026.5,2884.3 1027.7,2881.7 1030.5,2881.7 C1033.3,2881.7 1036.9,2886.5 1040.1,2884.1 C1043.3,2881.7 1046.9,2869.7 1049.7,2867.3 C1052.5,2864.9 1054.3,2870.8 1056.9,2869.7 C1059.5,2868.6 1062.3,2860.6 1065.5,2861 C1068.7,2861.4 1073.1,2868.2 1076.1,2872.1 C1079.1,2875.9 1080.5,2880.5 1083.3,2884.1 C1086.1,2887.7 1089.7,2891.5 1092.9,2893.7 C1096.1,2895.9 1099.7,2897.9 1102.5,2897.5 C1105.3,2897.1 1106.9,2892.7 1109.7,2891.3 C1112.5,2889.9 1116.1,2887.7 1119.3,2888.9 C1122.5,2890.1 1125.3,2894.9 1128.9,2898.5 C1132.5,2902.1 1137.3,2906.5 1140.9,2910.5 C1144.5,2914.5 1147.7,2918.9 1150.5,2922.5 C1153.3,2926.1 1155.3,2930.1 1157.7,2932.1 C1160.1,2934.1 1162.1,2935.1 1164.9,2934.5 C1167.7,2933.9 1171.3,2931.5 1174.5,2928.7 C1177.7,2925.9 1180.9,2923.1 1184.1,2917.7 C1187.3,2912.3 1190.5,2901.1 1193.7,2896.1 C1196.9,2891.1 1200.5,2893.1 1203.3,2887.9 C1206.1,2882.7 1207.7,2868.3 1210.5,2864.9 C1213.3,2861.5 1216.6,2868.9 1220.1,2867.3 C1223.5,2865.7 1228.4,2855.3 1231.2,2855.3 C1234.0,2855.3 1234.8,2865.7 1236.9,2867.3 C1239.1,2868.9 1241.3,2863.3 1244.1,2864.9 C1246.9,2866.5 1250.5,2872.1 1253.7,2876.9 C1256.9,2881.7 1260.1,2888.1 1263.3,2893.7 C1266.5,2899.3 1269.7,2909.1 1272.9,2910.5 C1276.1,2911.9 1279.3,2905.9 1282.5,2902.3 C1285.7,2898.7 1288.9,2893.1 1292.1,2888.9 C1295.3,2884.7 1298.9,2878.1 1301.7,2876.9 C1304.5,2875.7 1306.5,2882.1 1308.9,2881.7 C1311.3,2881.3 1313.7,2874.5 1316.1,2874.5 C1318.5,2874.5 1320.1,2882.1 1323.3,2881.7 C1326.5,2881.3 1331.6,2873.7 1335.3,2872.1 C1339.0,2870.5 1341.9,2872.5 1345.6,2872.1 C1349.3,2871.7 1354.0,2868.9 1357.6,2869.7 C1361.2,2870.5 1364.0,2874.7 1367.2,2876.9 C1370.4,2879.1 1374.0,2882.3 1376.8,2883.1 C1379.6,2883.9 1380.8,2879.5 1384,2881.7 C1387.2,2883.9 1391.6,2891.5 1396,2896.1 C1400.4,2900.7 1406.0,2907.1 1410.4,2909.1 C1414.8,2911.1 1419.2,2907.5 1422.4,2908.1 C1425.6,2908.7 1426.8,2912.7 1429.6,2912.9 C1432.4,2913.1 1436.0,2909.1 1439.2,2909.5 C1442.4,2909.9 1444.8,2913.8 1448.8,2915.3 C1452.8,2916.8 1458.4,2917.5 1463.2,2918.7 C1468.0,2919.9 1472.8,2921.2 1477.6,2922.5 C1482.4,2923.8 1487.2,2925.3 1492,2926.3 C1496.8,2927.3 1501.6,2928.5 1506.4,2928.7 C1511.2,2928.9 1516.1,2926.3 1520.9,2927.3 C1525.7,2928.3 1530.9,2932.1 1535.3,2934.5 C1539.7,2936.9 1542.9,2939.3 1547.3,2941.7 C1551.7,2944.1 1557.3,2947.7 1561.7,2948.9 C1566.1,2950.1 1569.7,2949.1 1573.7,2948.9 C1577.7,2948.7 1581.7,2948.9 1585.7,2947.5 C1589.7,2946.1 1593.3,2942.6 1597.7,2940.7 C1602.1,2938.8 1607.3,2937.7 1612.1,2935.9 C1616.9,2934.1 1621.7,2932.3 1626.5,2929.7 C1631.3,2927.1 1636.1,2922.7 1640.9,2920.1 C1645.7,2917.5 1650.5,2915.1 1655.3,2913.9 C1660.1,2912.7 1664.9,2912.7 1669.7,2912.9 C1674.5,2913.1 1679.3,2915.9 1684.1,2915.3 C1688.9,2914.7 1694.5,2910.1 1698.5,2909.5 C1702.5,2908.9 1705.3,2912.3 1708.1,2911.9 C1710.9,2911.5 1711.3,2907.7 1715.3,2907.1 C1719.3,2906.5 1726.1,2907.9 1732.1,2908.1 C1738.1,2908.3 1746.1,2907.5 1751.3,2908.1 C1756.5,2908.7 1759.7,2910.7 1763.3,2911.9 C1766.9,2913.1 1770.1,2914.3 1772.9,2915.3 C1775.7,2916.3 1777.4,2915.9 1780.1,2917.7 C1782.8,2919.5 1786.0,2926.5 1788.8,2926.3 C1791.6,2926.1 1792.4,2917.9 1796.9,2916.3 C1801.5,2914.7 1810.9,2914.1 1816.1,2916.7 C1821.3,2919.3 1824.9,2930.7 1828.1,2932.1 C1831.3,2933.5 1832.5,2925.3 1835.3,2924.9 C1838.1,2924.5 1841.7,2929.3 1844.9,2929.7 C1848.1,2930.1 1850.9,2924.1 1854.5,2927.3 C1858.1,2930.5 1862.9,2944.7 1866.5,2948.9 C1870.1,2953.1 1872.9,2952.7 1876.1,2952.7 C1879.3,2952.7 1882.5,2949.1 1885.7,2948.9 C1888.9,2948.7 1891.3,2950.5 1895.3,2951.3 C1899.3,2952.1 1904.9,2952.5 1909.7,2953.7 C1914.5,2954.9 1918.5,2956.5 1924.1,2958.5 C1929.7,2960.5 1936.9,2964.7 1943.3,2965.7 C1949.7,2966.7 1956.6,2965.3 1962.6,2964.7 C1968.6,2964.1 1976.6,2962.4 1979.4,2961.9"/>
<path stroke="#0000ff" stroke-width="8" d="M749.6,3076.1 C752.8,3075.9 762.8,3074.9 768.8,3075.2 C774.8,3075.4 780.8,3078.2 785.6,3077.6 C790.4,3076.9 793.2,3072.0 797.6,3071.3 C802.0,3070.7 807.2,3073.7 812,3073.7 C816.8,3073.7 820.8,3072.1 826.4,3071.3 C832.0,3070.5 839.2,3068.7 845.6,3068.9 C852.0,3069.1 860.0,3073.5 864.8,3072.3 C869.6,3071.1 870.8,3063.3 874.4,3061.7 C878.0,3060.1 882.8,3063.9 886.4,3062.7 C890.0,3061.5 892.8,3055.3 896,3054.5 C899.2,3053.7 902.1,3059.1 905.6,3057.9 C909.1,3056.7 912.7,3047.9 916.7,3047.3 C920.7,3046.7 925.1,3053.3 929.6,3054.5 C934.1,3055.7 940.0,3056.1 944,3054.5 C948.0,3052.9 950.4,3047.5 953.6,3044.9 C956.8,3042.3 960.1,3041.2 963.3,3038.7 C966.5,3036.1 969.3,3030.7 972.9,3029.6 C976.5,3028.5 980.9,3034.0 984.9,3032 C988.9,3030.0 992.5,3022.7 996.9,3017.6 C1001.3,3012.5 1006.9,3003.5 1011.3,3001.7 C1015.7,2999.8 1020.1,3006.2 1023.3,3006.5 C1026.5,3006.8 1027.7,3003.2 1030.5,3003.2 C1033.3,3003.2 1036.9,3009.6 1040.1,3006.5 C1043.3,3003.4 1046.9,2987.8 1049.7,2984.9 C1052.5,2982.0 1054.3,2989.6 1056.9,2988.8 C1059.5,2988.0 1062.3,2979.2 1065.5,2980.1 C1068.7,2981.0 1073.1,2990.1 1076.1,2994.5 C1079.1,2998.9 1080.5,3002.7 1083.3,3006.5 C1086.1,3010.3 1089.7,3015.2 1092.9,3017.6 C1096.1,3020.0 1099.7,3021.2 1102.5,3020.9 C1105.3,3020.7 1106.9,3016.9 1109.7,3016.1 C1112.5,3015.3 1116.1,3014.5 1119.3,3016.1 C1122.5,3017.7 1125.3,3022.1 1128.9,3025.7 C1132.5,3029.3 1137.3,3033.3 1140.9,3037.7 C1144.5,3042.1 1147.7,3047.9 1150.5,3052.1 C1153.3,3056.3 1155.3,3060.1 1157.7,3062.7 C1160.1,3065.3 1162.1,3068.1 1164.9,3067.5 C1167.7,3066.9 1171.3,3063.1 1174.5,3059.3 C1177.7,3055.5 1180.9,3051.3 1184.1,3044.9 C1187.3,3038.5 1190.5,3027.3 1193.7,3020.9 C1196.9,3014.5 1200.5,3012.7 1203.3,3006.5 C1206.1,3000.3 1207.7,2986.9 1210.5,2984 C1213.3,2981.1 1216.6,2990.2 1220.1,2988.8 C1223.5,2987.4 1228.4,2975.2 1231.2,2975.3 C1234.0,2975.5 1234.8,2987.7 1236.9,2989.7 C1239.1,2991.7 1241.3,2985.3 1244.1,2987.3 C1246.9,2989.3 1250.5,2995.7 1253.7,3001.7 C1256.9,3007.7 1260.1,3016.5 1263.3,3023.3 C1266.5,3030.1 1269.7,3041.3 1272.9,3042.5 C1276.1,3043.7 1279.3,3034.9 1282.5,3030.5 C1285.7,3026.1 1289.3,3020.9 1292.1,3016.1 C1294.9,3011.3 1296.5,3003.7 1299.3,3001.7 C1302.1,2999.7 1306.1,3004.6 1308.9,3004.1 C1311.7,3003.6 1313.7,2998.0 1316.1,2998.4 C1318.5,2998.8 1320.1,3006.8 1323.3,3006.5 C1326.5,3006.2 1331.6,2998.9 1335.3,2996.9 C1339.0,2994.9 1342.7,2994.5 1345.6,2994.5 C1348.5,2994.5 1350.8,2996.9 1352.8,2996.9 C1354.8,2996.9 1355.2,2993.8 1357.6,2994.5 C1360.0,2995.2 1364.0,2999.2 1367.2,3000.8 C1370.4,3002.4 1374.0,3003.7 1376.8,3004.1 C1379.6,3004.5 1380.8,3000.9 1384,3003.2 C1387.2,3005.4 1391.6,3012.8 1396,3017.6 C1400.4,3022.4 1406.0,3029.8 1410.4,3032 C1414.8,3034.2 1419.2,3029.7 1422.4,3030.5 C1425.6,3031.3 1426.8,3036.2 1429.6,3036.8 C1432.4,3037.5 1436.0,3033.5 1439.2,3034.4 C1442.4,3035.3 1444.8,3040.1 1448.8,3042.5 C1452.8,3044.9 1458.4,3046.8 1463.2,3048.8 C1468.0,3050.8 1472.8,3053.2 1477.6,3054.5 C1482.4,3055.8 1487.2,3055.9 1492,3056.9 C1496.8,3057.9 1500.6,3059.5 1506.4,3060.3 C1512.2,3061.1 1522.3,3060.8 1527.1,3061.7 C1531.9,3062.6 1531.9,3063.6 1535.3,3065.6 C1538.7,3067.6 1542.9,3070.8 1547.3,3073.7 C1551.7,3076.6 1557.3,3081.5 1561.7,3083.3 C1566.1,3085.1 1569.7,3084.5 1573.7,3084.3 C1577.7,3084.2 1581.7,3083.8 1585.7,3082.4 C1589.7,3081.0 1593.3,3078.1 1597.7,3076.1 C1602.1,3074.1 1607.3,3072.6 1612.1,3070.4 C1616.9,3068.2 1621.7,3065.8 1626.5,3062.7 C1631.3,3059.6 1636.1,3054.9 1640.9,3052.1 C1645.7,3049.3 1650.5,3047.2 1655.3,3045.9 C1660.1,3044.6 1664.9,3043.8 1669.7,3044 C1674.5,3044.2 1679.3,3047.7 1684.1,3047.3 C1688.9,3046.9 1694.5,3042.2 1698.5,3041.6 C1702.5,3041.0 1705.3,3044.7 1708.1,3044 C1710.9,3043.3 1711.3,3038.3 1715.3,3037.7 C1719.3,3037.0 1726.1,3039.5 1732.1,3040.1 C1738.1,3040.7 1746.1,3040.1 1751.3,3041.1 C1756.5,3042.1 1759.7,3044.9 1763.3,3045.9 C1766.9,3046.9 1770.1,3046.3 1772.9,3047.3 C1775.7,3048.3 1777.4,3049.8 1780.1,3052.1 C1782.8,3054.3 1786.0,3061.4 1788.8,3060.8 C1791.6,3060.2 1792.4,3050.3 1796.9,3048.3 C1801.5,3046.3 1810.9,3045.5 1816.1,3048.8 C1821.3,3052.1 1824.9,3066.4 1828.1,3068 C1831.3,3069.6 1832.5,3059.3 1835.3,3058.4 C1838.1,3057.5 1841.7,3062.5 1844.9,3062.7 C1848.1,3062.8 1850.9,3055.6 1854.5,3059.3 C1858.1,3063.0 1862.9,3080.2 1866.5,3084.8 C1870.1,3089.4 1872.9,3086.9 1876.1,3086.7 C1879.3,3086.4 1882.5,3083.6 1885.7,3083.3 C1888.9,3083.0 1891.3,3083.8 1895.3,3084.8 C1899.3,3085.9 1904.9,3088.2 1909.7,3089.6 C1914.5,3090.9 1918.5,3091.4 1924.1,3092.9 C1929.7,3094.4 1936.9,3097.5 1943.3,3098.7 C1949.7,3099.9 1956.6,3100.4 1962.6,3100.1 C1968.6,3099.8 1976.6,3097.4 1979.4,3096.8"/>
<path stroke="#ff0000" stroke-width="8" d="M749.6,3174.3 C752.8,3174.1 762.8,3172.6 768.8,3172.9 C774.8,3173.2 780.0,3175.6 785.6,3176.2 C791.2,3176.8 797.2,3177.2 802.4,3176.7 C807.6,3176.1 811.2,3174.1 816.8,3172.9 C822.4,3171.7 830.4,3169.9 836,3169.5 C841.6,3169.1 845.6,3169.9 850.4,3170.5 C855.2,3171.1 860.8,3173.9 864.8,3172.9 C868.8,3171.9 870.8,3165.9 874.4,3164.7 C878.0,3163.5 882.8,3166.1 886.4,3165.7 C890.0,3165.3 892.4,3162.7 896,3162.3 C899.6,3161.9 904.4,3164.5 908,3163.3 C911.6,3162.1 914.0,3155.7 917.6,3155.1 C921.2,3154.5 925.2,3158.9 929.6,3159.9 C934.0,3160.9 939.6,3162.0 944,3160.9 C948.4,3159.8 951.6,3156.4 956,3153.6 C960.4,3150.8 965.7,3145.2 970.5,3144 C975.3,3142.8 980.1,3147.0 984.9,3146.4 C989.7,3145.8 994.5,3143.1 999.3,3140.7 C1004.1,3138.3 1009.3,3133.1 1013.7,3132 C1018.1,3130.9 1021.7,3133.8 1025.7,3134.4 C1029.7,3135.1 1033.3,3137.1 1037.7,3135.9 C1042.1,3134.7 1047.5,3129.4 1052.1,3127.2 C1056.7,3124.9 1061.5,3122.0 1065.5,3122.4 C1069.5,3122.8 1072.7,3127.2 1076.1,3129.6 C1079.5,3132.0 1082.5,3134.2 1085.7,3136.8 C1088.9,3139.4 1091.7,3143.6 1095.3,3145 C1098.9,3146.4 1103.3,3146.1 1107.3,3145.5 C1111.3,3144.9 1115.3,3141.0 1119.3,3141.6 C1123.3,3142.2 1127.3,3146.2 1131.3,3148.8 C1135.3,3151.5 1139.3,3154.8 1143.3,3157.5 C1147.3,3160.2 1151.7,3163.2 1155.3,3164.7 C1158.9,3166.2 1161.7,3167.1 1164.9,3166.6 C1168.1,3166.1 1170.9,3164.1 1174.5,3161.8 C1178.1,3159.5 1182.9,3155.3 1186.5,3152.7 C1190.1,3150.1 1192.9,3149.1 1196.1,3146.4 C1199.3,3143.8 1202.1,3139.0 1205.7,3136.8 C1209.3,3134.7 1213.7,3135.1 1217.7,3133.5 C1221.7,3131.9 1226.1,3127.0 1229.7,3127.2 C1233.3,3127.3 1236.1,3132.6 1239.3,3134.4 C1242.5,3136.2 1245.3,3135.4 1248.9,3137.8 C1252.5,3140.2 1256.9,3145.1 1260.9,3148.8 C1264.9,3152.5 1268.9,3159.9 1272.9,3159.9 C1276.9,3159.9 1280.9,3153.1 1284.9,3148.8 C1288.9,3144.6 1293.3,3138.4 1296.9,3134.4 C1300.5,3130.4 1303.3,3126.4 1306.5,3124.8 C1309.7,3123.2 1312.9,3125.2 1316.1,3124.8 C1319.3,3124.4 1321.6,3123.4 1325.7,3122.4 C1329.8,3121.4 1336.3,3118.6 1340.8,3118.6 C1345.3,3118.6 1349.2,3121.1 1352.8,3122.4 C1356.4,3123.7 1358.4,3124.9 1362.4,3126.3 C1366.4,3127.8 1372.4,3130.4 1376.8,3131.1 C1381.2,3131.8 1384.8,3129.6 1388.8,3130.6 C1392.8,3131.6 1396.8,3135.0 1400.8,3136.8 C1404.8,3138.6 1408.8,3139.8 1412.8,3141.6 C1416.8,3143.4 1420.8,3147.1 1424.8,3147.9 C1428.8,3148.7 1432.8,3145.6 1436.8,3146.4 C1440.8,3147.2 1444.4,3151.1 1448.8,3152.7 C1453.2,3154.3 1458.4,3155.2 1463.2,3156 C1468.0,3156.8 1472.8,3157.2 1477.6,3157.5 C1482.4,3157.8 1487.2,3156.9 1492,3157.5 C1496.8,3158.1 1501.6,3160.1 1506.4,3160.9 C1511.2,3161.7 1516.1,3161.7 1520.9,3162.3 C1525.7,3162.9 1530.9,3162.9 1535.3,3164.7 C1539.7,3166.5 1543.3,3171.1 1547.3,3172.9 C1551.3,3174.7 1554.9,3174.9 1559.3,3175.3 C1563.7,3175.7 1568.9,3174.8 1573.7,3175.3 C1578.5,3175.9 1583.7,3177.7 1588.1,3178.6 C1592.5,3179.5 1596.1,3181.3 1600.1,3181 C1604.1,3180.7 1607.7,3177.8 1612.1,3176.7 C1616.5,3175.6 1622.1,3176.5 1626.5,3174.3 C1630.9,3172.1 1634.5,3165.7 1638.5,3163.3 C1642.5,3160.9 1646.5,3161.5 1650.5,3159.9 C1654.5,3158.3 1658.9,3153.8 1662.5,3153.6 C1666.1,3153.3 1668.5,3157.2 1672.1,3158.4 C1675.7,3159.6 1679.7,3160.9 1684.1,3160.9 C1688.5,3160.9 1694.1,3159.4 1698.5,3158.4 C1702.9,3157.4 1707.3,3156.4 1710.5,3155.1 C1713.7,3153.8 1714.5,3150.6 1717.7,3150.3 C1720.9,3150.1 1725.7,3153.6 1729.7,3153.6 C1733.7,3153.6 1737.7,3150.9 1741.7,3150.3 C1745.7,3149.7 1750.1,3149.2 1753.7,3149.8 C1757.3,3150.4 1759.7,3152.3 1763.3,3153.6 C1766.9,3154.9 1771.0,3156.3 1775.3,3157.5 C1779.5,3158.7 1784.8,3162.1 1788.8,3160.9 C1792.8,3159.7 1794.8,3151.9 1799.3,3150.3 C1803.8,3148.7 1811.3,3149.0 1816.1,3151.2 C1820.9,3153.4 1824.5,3162.7 1828.1,3163.3 C1831.7,3163.9 1834.9,3155.4 1837.7,3154.6 C1840.5,3153.8 1842.1,3157.8 1844.9,3158.4 C1847.7,3159.0 1850.5,3155.0 1854.5,3158.4 C1858.5,3161.8 1864.5,3175.4 1868.9,3178.6 C1873.3,3181.8 1876.5,3178.0 1880.9,3177.7 C1885.3,3177.4 1890.5,3176.3 1895.3,3176.7 C1900.1,3177.1 1904.9,3178.7 1909.7,3180.1 C1914.5,3181.5 1918.5,3183.1 1924.1,3184.9 C1929.7,3186.7 1936.9,3190.6 1943.3,3191.1 C1949.7,3191.6 1956.6,3188.8 1962.6,3188.2 C1968.6,3187.6 1976.6,3187.5 1979.4,3187.3"/>
<path stroke="#000000" stroke-width="8" d="M749.6,3273.7 C752.8,3273.5 762.4,3272.7 768.8,3272.7 C775.2,3272.7 781.6,3273.7 788,3273.7 C794.4,3273.7 801.2,3272.3 807.2,3272.7 C813.2,3273.1 818.4,3275.1 824,3276.1 C829.6,3277.1 835.6,3278.9 840.8,3278.5 C846.0,3278.1 850.4,3274.3 855.2,3273.7 C860.0,3273.0 864.0,3275.0 869.6,3274.6 C875.2,3274.2 882.4,3272.4 888.8,3271.3 C895.2,3270.2 902.4,3268.1 908,3267.9 C913.6,3267.7 917.6,3269.3 922.4,3270.3 C927.2,3271.3 932.0,3273.4 936.8,3273.7 C941.6,3274.0 946.4,3272.8 951.2,3272.2 C956.0,3271.6 960.9,3270.5 965.7,3270.3 C970.5,3270.2 975.3,3270.9 980.1,3271.3 C984.9,3271.7 989.7,3272.7 994.5,3272.7 C999.3,3272.7 1004.1,3271.8 1008.9,3271.3 C1013.7,3270.8 1018.5,3269.8 1023.3,3269.8 C1028.1,3269.8 1032.9,3271.1 1037.7,3271.3 C1042.5,3271.6 1047.3,3271.7 1052.1,3271.3 C1056.9,3270.9 1061.7,3268.5 1066.5,3268.9 C1071.3,3269.3 1075.7,3272.7 1080.9,3273.7 C1086.1,3274.7 1092.9,3276.1 1097.7,3275.1 C1102.5,3274.1 1105.3,3269.3 1109.7,3267.9 C1114.1,3266.5 1119.3,3266.5 1124.1,3266.5 C1128.9,3266.5 1133.7,3267.1 1138.5,3267.9 C1143.3,3268.7 1148.9,3271.1 1152.9,3271.3 C1156.9,3271.5 1158.5,3269.3 1162.5,3268.9 C1166.5,3268.5 1172.1,3267.9 1176.9,3268.9 C1181.7,3269.9 1186.1,3273.3 1191.3,3275.1 C1196.5,3276.9 1203.3,3279.5 1208.1,3279.9 C1212.9,3280.3 1216.1,3277.2 1220.1,3277.5 C1224.1,3277.8 1227.3,3280.6 1232.1,3281.8 C1236.9,3283.0 1242.9,3285.0 1248.9,3284.7 C1254.9,3284.4 1262.5,3282.3 1268.1,3279.9 C1273.7,3277.5 1277.7,3273.1 1282.5,3270.3 C1287.3,3267.5 1292.1,3265.1 1296.9,3263.1 C1301.7,3261.1 1306.5,3259.5 1311.3,3258.3 C1316.1,3257.1 1320.8,3256.7 1325.7,3255.9 C1330.6,3255.1 1336.3,3253.3 1340.8,3253.5 C1345.3,3253.7 1348.8,3256.5 1352.8,3256.9 C1356.8,3257.3 1360.0,3255.3 1364.8,3255.9 C1369.6,3256.5 1376.4,3259.1 1381.6,3260.7 C1386.8,3262.3 1391.2,3264.1 1396,3265.5 C1400.8,3266.9 1405.2,3268.5 1410.4,3268.9 C1415.6,3269.3 1421.6,3267.9 1427.2,3267.9 C1432.8,3267.9 1438.8,3268.9 1444,3268.9 C1449.2,3268.9 1453.6,3268.1 1458.4,3267.9 C1463.2,3267.7 1468.0,3267.5 1472.8,3267.9 C1477.6,3268.3 1482.4,3269.7 1487.2,3270.3 C1492.0,3270.9 1496.8,3271.5 1501.6,3271.3 C1506.4,3271.1 1510.8,3269.5 1516,3268.9 C1521.2,3268.3 1527.7,3267.4 1532.9,3267.9 C1538.1,3268.4 1542.5,3271.9 1547.3,3272.2 C1552.1,3272.5 1556.5,3270.6 1561.7,3269.8 C1566.9,3269.0 1574.1,3267.3 1578.5,3267.4 C1582.9,3267.5 1584.5,3270.3 1588.1,3270.3 C1591.7,3270.3 1596.1,3268.8 1600.1,3267.4 C1604.1,3266.0 1608.1,3263.4 1612.1,3261.7 C1616.1,3259.9 1620.5,3257.6 1624.1,3256.9 C1627.7,3256.2 1630.1,3258.8 1633.7,3257.8 C1637.3,3256.8 1642.1,3252.7 1645.7,3251.1 C1649.3,3249.5 1652.3,3249.4 1655.3,3248.2 C1658.3,3247.0 1660.7,3244.1 1663.9,3243.9 C1667.1,3243.8 1671.1,3245.9 1674.5,3247.3 C1677.9,3248.7 1680.9,3250.5 1684.1,3252.1 C1687.3,3253.7 1690.5,3256.9 1693.7,3256.9 C1696.9,3256.9 1699.7,3253.6 1703.3,3252.1 C1706.9,3250.6 1711.3,3248.0 1715.3,3248.2 C1719.3,3248.4 1722.9,3252.1 1727.3,3253.5 C1731.7,3254.9 1736.9,3255.5 1741.7,3256.9 C1746.5,3258.3 1751.7,3259.9 1756.1,3261.7 C1760.5,3263.5 1764.1,3267.3 1768.1,3267.9 C1772.1,3268.5 1776.5,3265.7 1780.1,3265.5 C1783.7,3265.3 1786.1,3267.1 1789.7,3266.5 C1793.3,3265.9 1797.3,3262.1 1801.7,3261.7 C1806.1,3261.3 1811.7,3262.5 1816.1,3264.1 C1820.5,3265.7 1824.5,3270.7 1828.1,3271.3 C1831.7,3271.9 1834.5,3268.1 1837.7,3267.9 C1840.9,3267.7 1844.1,3269.9 1847.3,3270.3 C1850.5,3270.7 1853.3,3269.1 1856.9,3270.3 C1860.5,3271.5 1864.9,3275.9 1868.9,3277.5 C1872.9,3279.1 1876.5,3279.7 1880.9,3279.9 C1885.3,3280.1 1890.9,3279.3 1895.3,3278.5 C1899.7,3277.7 1903.3,3275.7 1907.3,3275.1 C1911.3,3274.5 1914.9,3274.1 1919.3,3275.1 C1923.7,3276.1 1928.9,3279.8 1933.7,3280.9 C1938.5,3282.0 1943.3,3282.1 1948.1,3281.8 C1952.9,3281.6 1957.4,3279.6 1962.6,3279.4 C1967.8,3279.2 1976.6,3280.7 1979.4,3280.9"/>
</g>
<g stroke="#000" fill="none">
<line x1="1136.8" y1="205.5" x2="1136.8" y2="1148" stroke-width="9" stroke-dasharray="32 20.6 5 20.7" stroke-dashoffset="0"/>
<line x1="1256.1" y1="238.0" x2="1256.1" y2="1079" stroke-width="8" stroke-dasharray="32 20.6 5 20.7" stroke-dashoffset="0"/>
<line x1="1340" y1="257.9" x2="1340" y2="1099" stroke-width="7.4" stroke-dasharray="32 20.6 5 20.7" stroke-dashoffset="0"/>
<line x1="1457" y1="231" x2="1457" y2="1150" stroke-width="8" stroke-dasharray="32 20.6 5 20.7" stroke-dashoffset="0"/>
<line x1="1734.5" y1="281" x2="1734.5" y2="1174.3" stroke-width="8" stroke-dasharray="32 20.6 5 20.7" stroke-dashoffset="0"/>
<line x1="1060.3" y1="1118.2" x2="1060.3" y2="1527" stroke-width="8.4" stroke-dasharray="32 20.6 5 20.7" stroke-dashoffset="0"/>
<line x1="1221.1" y1="1102.3" x2="1221.1" y2="1500" stroke-width="8.2" stroke-dasharray="32 20.6 5 20.7" stroke-dashoffset="0"/>
<line x1="1504" y1="1225.8" x2="1504" y2="1488" stroke-width="7.8" stroke-dasharray="32 20.6 5 20.7" stroke-dashoffset="0"/>
<line x1="446" y1="1205.1" x2="446" y2="1498" stroke-width="8.1" stroke-dasharray="32 20.6 5 20.7" stroke-dashoffset="0"/>
<line x1="1157.4" y1="2004.6" x2="1157.4" y2="2943" stroke-width="9" stroke-dasharray="31.3 19.8 4.8 20" stroke-dashoffset="0"/>
<line x1="1275.4" y1="2005.6" x2="1275.4" y2="2921" stroke-width="9" stroke-dasharray="31.3 19.8 4.8 20" stroke-dashoffset="0"/>
<line x1="1345.8" y1="2045.5" x2="1345.8" y2="2908" stroke-width="8.2" stroke-dasharray="31.3 19.8 4.8 20" stroke-dashoffset="0"/>
<line x1="1476.8" y1="1959.4" x2="1476.8" y2="2926" stroke-width="8.6" stroke-dasharray="31.3 19.8 4.8 20" stroke-dashoffset="0"/>
<line x1="1762.7" y1="1996.3" x2="1762.7" y2="2938" stroke-width="8.1" stroke-dasharray="31.3 19.8 4.8 20" stroke-dashoffset="0"/>
<line x1="1062.4" y1="2929.7" x2="1062.4" y2="3324" stroke-width="9" stroke-dasharray="31.3 19.8 4.8 20" stroke-dashoffset="0"/>
<line x1="1227.9" y1="2936.9" x2="1227.9" y2="3324" stroke-width="8.2" stroke-dasharray="31.3 19.8 4.8 20" stroke-dashoffset="0"/>
<line x1="1309.3" y1="2972.9" x2="1309.3" y2="3305.8" stroke-width="9" stroke-dasharray="31.3 19.8 4.8 20" stroke-dashoffset="0"/>
<line x1="1357.3" y1="2964" x2="1357.3" y2="3297.7" stroke-width="9" stroke-dasharray="31.3 19.8 4.8 20" stroke-dashoffset="0"/>
<line x1="1527.6" y1="3046.3" x2="1527.6" y2="3295.3" stroke-width="9" stroke-dasharray="31.3 19.8 4.8 20" stroke-dashoffset="0"/>
<line x1="1661.9" y1="3017.5" x2="1661.9" y2="3300" stroke-width="8.2" stroke-dasharray="31.3 19.8 4.8 20" stroke-dashoffset="0"/>
<line x1="1808" y1="3010.3" x2="1808" y2="3324" stroke-width="8" stroke-dasharray="31.3 19.8 4.8 20" stroke-dashoffset="0"/>
<line x1="1849.5" y1="3022.3" x2="1849.5" y2="3305" stroke-width="8.8" stroke-dasharray="31.3 19.8 4.8 20" stroke-dashoffset="0"/>
<line x1="196.9" y1="3027.5" x2="196.9" y2="3311" stroke-width="7.6" stroke-dasharray="31.3 19.8 4.8 20" stroke-dashoffset="0"/>
<line x1="432.7" y1="3024.7" x2="432.7" y2="3309" stroke-width="8.8" stroke-dasharray="31.3 19.8 4.8 20" stroke-dashoffset="0"/>
<line x1="563.8" y1="3038" x2="563.8" y2="3296.7" stroke-width="7.8" stroke-dasharray="31.3 19.8 4.8 20" stroke-dashoffset="0"/>
</g>
<g stroke="#000" fill="none" stroke-linecap="butt">
<path stroke-width="5.6" d="M146.2,67.39999999999999 V1551.8000000000002"/>
<path stroke-width="5.4" d="M143.39999999999998,70.1 H726 M757,70.1 H1953.9"/>
<path stroke-width="6.8" d="M1950.5,70.1 V1549.4"/>
<path stroke-width="6.9" d="M143.39999999999998,1548.4 H726 M757,1548.4 H1951.0"/>
<path stroke-width="5.5" d="M711.2,96.2 L741.4,42.9 M743.1,96.2 L771.6,42.9 M710.9,1574.5 L741.9,1520.2 M742.6,1574.5 L772,1520.2"/>
<path stroke-width="6" d="M261.3,1548.4 V1520 M377.3,1548.4 V1534 M493.3,1548.4 V1520 M609.3,1548.4 V1534 M757.0,1548.4 V1520 M856.5,1548.4 V1534 M955.9,1548.4 V1520 M1055.4,1548.4 V1534 M1154.8,1548.4 V1520 M1254.3,1548.4 V1534 M1353.8,1548.4 V1520 M1453.2,1548.4 V1534 M1552.7,1548.4 V1520 M1652.1,1548.4 V1534 M1751.6,1548.4 V1520 M1851.1,1548.4 V1534"/>
<path stroke-width="7" d="M122,1910.3 V3349.8"/>
<path stroke-width="6.6" d="M118.5,1913.6 H718.5 M750.2,1913.6 H1983.2"/>
<path stroke-width="6.9" d="M1979.8,1913.6 V3347.4"/>
<path stroke-width="6.9" d="M118.5,3346.4 H718.5 M750.2,3346.4 H1980.3"/>
<path stroke-width="5.8" d="M702.9,1939.2 L734.6,1887.2 M735.1,1939.2 L765.7,1887.2 M703.4,3372 L734.6,3320 M735.4,3372 L766,3320"/>
<path stroke-width="6.8" d="M240.2,3346.4 V3320 M360.0,3346.4 V3333 M479.8,3346.4 V3320 M599.5,3346.4 V3333 M750.4,3346.4 V3320 M852.9,3346.4 V3333 M955.3,3346.4 V3320 M1057.8,3346.4 V3333 M1160.2,3346.4 V3320 M1262.7,3346.4 V3333 M1365.1,3346.4 V3320 M1467.5,3346.4 V3333 M1570.0,3346.4 V3320 M1672.4,3346.4 V3333 M1774.9,3346.4 V3320 M1877.3,3346.4 V3333"/>
</g>
<text class="s" x="313.8" y="386.4" font-size="55.89" textLength="148.0" lengthAdjust="spacingAndGlyphs">80min</text>
<text class="s" x="315.1" y="484.5" font-size="55.89" textLength="146.7" lengthAdjust="spacingAndGlyphs">70min</text>
<text class="s" x="319.1" y="592.4" font-size="55.89" textLength="148.7" lengthAdjust="spacingAndGlyphs">60min</text>
<text class="s" x="323.5" y="690.5" font-size="55.89" textLength="147.9" lengthAdjust="spacingAndGlyphs">50min</text>
<text class="s" x="323.3" y="789.5" font-size="55.89" textLength="148.1" lengthAdjust="spacingAndGlyphs">45min</text>
<text class="s" x="323.3" y="890" font-size="55.89" textLength="148.1" lengthAdjust="spacingAndGlyphs">43min</text>
<text class="s" x="317.8" y="1000.1" font-size="55.89" textLength="147.5" lengthAdjust="spacingAndGlyphs">42min</text>
<text class="s" x="290.9" y="1220.9" font-size="55.89" textLength="144.8" lengthAdjust="spacingAndGlyphs">40min</text>
<text class="s" x="455.5" y="1220.9" font-size="55.89" textLength="117.9" lengthAdjust="spacingAndGlyphs">3242</text>
<text class="s" x="279.7" y="1419.5" font-size="55.89" textLength="237.5" lengthAdjust="spacingAndGlyphs">10min(Ar)</text>
<text class="s" x="1009.0" y="193.9" font-size="55.89" textLength="118.4" lengthAdjust="spacingAndGlyphs">1618</text>
<text class="s" x="1183.1" y="201.4" font-size="55.89" textLength="118.5" lengthAdjust="spacingAndGlyphs">1498</text>
<text class="s" x="1307.6" y="229.2" font-size="55.89" textLength="119.8" lengthAdjust="spacingAndGlyphs">1413</text>
<text class="s" x="1472.7" y="247.4" font-size="55.89" textLength="121.0" lengthAdjust="spacingAndGlyphs">1295</text>
<text class="s" x="1678.1" y="264.2" font-size="55.89" textLength="120.0" lengthAdjust="spacingAndGlyphs">1020</text>
<text class="s" x="915.7" y="1164.7" font-size="55.89" textLength="119.5" lengthAdjust="spacingAndGlyphs">1695</text>
<text class="s" x="1226.2" y="1140.7" font-size="55.89" textLength="118.6" lengthAdjust="spacingAndGlyphs">1533</text>
<text class="s" x="1451.6" y="1207.9" font-size="55.89" textLength="119.9" lengthAdjust="spacingAndGlyphs">1252</text>
<text class="s" x="177.2" y="155.7" font-size="75.55" textLength="204.3" lengthAdjust="spacingAndGlyphs">I=0.14</text>
<text class="s" x="1826.2" y="162.2" font-size="74.52" textLength="88.0" lengthAdjust="spacingAndGlyphs">(a)</text>
<text class="s" x="261.3" y="1624.7" font-size="59" text-anchor="middle">3400</text>
<text class="s" x="493.3" y="1624.7" font-size="59" text-anchor="middle">3200</text>
<text class="s" x="757" y="1624.7" font-size="59" text-anchor="middle">2000</text>
<text class="s" x="955.9" y="1624.7" font-size="59" text-anchor="middle">1800</text>
<text class="s" x="1154.8" y="1624.7" font-size="59" text-anchor="middle">1600</text>
<text class="s" x="1353.7" y="1624.7" font-size="59" text-anchor="middle">1400</text>
<text class="s" x="1552.7" y="1624.7" font-size="59" text-anchor="middle">1200</text>
<text class="s" x="1751.6" y="1624.7" font-size="59" text-anchor="middle">1000</text>
<text class="s" x="1950.5" y="1624.7" font-size="59" text-anchor="middle">800</text>
<text class="s" x="209.0" y="1113.4" font-size="55.89" textLength="402.9" lengthAdjust="spacingAndGlyphs">41min(Ar+NO+O</text>
<text class="s" x="610.9" y="1130.9" font-size="33.12" textLength="18.0" lengthAdjust="spacingAndGlyphs">2</text>
<text class="s" x="632.3" y="1113.4" font-size="55.89" textLength="14.7" lengthAdjust="spacingAndGlyphs">)</text>
<text class="s" x="234.2" y="1319.4" font-size="55.89" textLength="327.7" lengthAdjust="spacingAndGlyphs">30min(Ar+NH</text>
<text class="s" x="561.9" y="1338.3" font-size="33.12" textLength="16.7" lengthAdjust="spacingAndGlyphs">3</text>
<text class="s" x="580.2" y="1319.4" font-size="55.89" textLength="15.5" lengthAdjust="spacingAndGlyphs">)</text>
<text class="s" x="782.5" y="1704.6" font-size="75.55" textLength="552.1" lengthAdjust="spacingAndGlyphs">Wavenumber/cm</text>
<text class="s" x="1335.9" y="1668.5" font-size="46.68" textLength="39.3" lengthAdjust="spacingAndGlyphs">-1</text>
<text class="s" x="108.8" y="1030.1" font-size="73.86749999999999" textLength="495.5" lengthAdjust="spacingAndGlyphs" transform="rotate(-90 108.8 1030.1)">Asorbance/a.u.</text>
<text class="s" x="272.1" y="2166.7" font-size="54.34" textLength="151.1" lengthAdjust="spacingAndGlyphs">80min</text>
<text class="s" x="272.1" y="2281" font-size="54.34" textLength="153.0" lengthAdjust="spacingAndGlyphs">70min</text>
<text class="s" x="271.6" y="2399.5" font-size="54.34" textLength="153.6" lengthAdjust="spacingAndGlyphs">60min</text>
<text class="s" x="277.4" y="2517.1" font-size="54.34" textLength="151.2" lengthAdjust="spacingAndGlyphs">50min</text>
<text class="s" x="276.7" y="2631.4" font-size="54.34" textLength="151.9" lengthAdjust="spacingAndGlyphs">45min</text>
<text class="s" x="285.1" y="2737.2" font-size="54.34" textLength="151.4" lengthAdjust="spacingAndGlyphs">43min</text>
<text class="s" x="277.9" y="2834.2" font-size="54.34" textLength="151.4" lengthAdjust="spacingAndGlyphs">42min</text>
<text class="s" x="188.2" y="2931.7" font-size="54.34" textLength="414.4" lengthAdjust="spacingAndGlyphs">41min(Ar+NO+O</text>
<text class="s" x="601.3" y="2949.4" font-size="33.12" textLength="21.7" lengthAdjust="spacingAndGlyphs">2</text>
<text class="s" x="624.6" y="2931.7" font-size="54.34" textLength="15.1" lengthAdjust="spacingAndGlyphs">)</text>
<text class="s" x="125.9" y="3015.7" font-size="51.75" textLength="120.4" lengthAdjust="spacingAndGlyphs">3434</text>
<text class="s" x="271.7" y="3054.1" font-size="54.34" textLength="150.4" lengthAdjust="spacingAndGlyphs">40min</text>
<text class="s" x="437.0" y="3027.7" font-size="51.75" textLength="121.0" lengthAdjust="spacingAndGlyphs">3242</text>
<text class="s" x="572.4" y="3048.3" font-size="51.75" textLength="122.5" lengthAdjust="spacingAndGlyphs">3127</text>
<text class="s" x="213.3" y="3148.6" font-size="54.34" textLength="339.2" lengthAdjust="spacingAndGlyphs">30min(Ar+NH</text>
<text class="s" x="547.1" y="3167.9" font-size="33.12" textLength="20.3" lengthAdjust="spacingAndGlyphs">3</text>
<text class="s" x="567.0" y="3148.6" font-size="54.34" textLength="18.1" lengthAdjust="spacingAndGlyphs">)</text>
<text class="s" x="252.6" y="3248.4" font-size="54.34" textLength="243.7" lengthAdjust="spacingAndGlyphs">10min(Ar)</text>
<text class="s" x="1010.6" y="2009.4" font-size="51.75" textLength="121.4" lengthAdjust="spacingAndGlyphs">1602</text>
<text class="s" x="1178.9" y="1988.1" font-size="51.75" textLength="121.1" lengthAdjust="spacingAndGlyphs">1488</text>
<text class="s" x="1315.9" y="2012.8" font-size="51.75" textLength="121.9" lengthAdjust="spacingAndGlyphs">1419</text>
<text class="s" x="1490.3" y="1977.5" font-size="51.75" textLength="120.8" lengthAdjust="spacingAndGlyphs">1290</text>
<text class="s" x="1670.4" y="1983.5" font-size="51.75" textLength="124.3" lengthAdjust="spacingAndGlyphs">1011</text>
<text class="s" x="1854.1" y="1993.8" font-size="64.69" textLength="86.6" lengthAdjust="spacingAndGlyphs">(b)</text>
<text class="s" x="151.9" y="1996.7" font-size="73.17" textLength="210.4" lengthAdjust="spacingAndGlyphs">I=0.14</text>
<text class="s" x="920.3" y="2966.7" font-size="51.75" textLength="123.5" lengthAdjust="spacingAndGlyphs">1695</text>
<text class="s" x="1087.0" y="2987.4" font-size="51.75" textLength="121.1" lengthAdjust="spacingAndGlyphs">1533</text>
<text class="s" x="1243.0" y="2958.9" font-size="51.75" textLength="120.3" lengthAdjust="spacingAndGlyphs">1454</text>
<text class="s" x="1366.1" y="2985.3" font-size="51.75" textLength="120.5" lengthAdjust="spacingAndGlyphs">1427</text>
<text class="s" x="1474.1" y="3034.7" font-size="51.75" textLength="120.3" lengthAdjust="spacingAndGlyphs">1244</text>
<text class="s" x="1608.5" y="2991.5" font-size="51.75" textLength="120.5" lengthAdjust="spacingAndGlyphs">1107</text>
<text class="s" x="1755.9" y="2994.9" font-size="51.75" textLength="91.4" lengthAdjust="spacingAndGlyphs">966</text>
<text class="s" x="1871.2" y="3047.7" font-size="51.75" textLength="88.7" lengthAdjust="spacingAndGlyphs">925</text>
<text class="s" x="746.4" y="3504.4" font-size="70.38" textLength="573.3" lengthAdjust="spacingAndGlyphs">Wavenumber/cm</text>
<text class="s" x="1315.8" y="3469.4" font-size="45.23" textLength="42.0" lengthAdjust="spacingAndGlyphs">-1</text>
<text class="t" x="240.2" y="3419.8" font-size="60.5" text-anchor="middle">3400</text>
<text class="t" x="479.7" y="3419.8" font-size="60.5" text-anchor="middle">3200</text>
<text class="t" x="750.4" y="3419.8" font-size="60.5" text-anchor="middle">2000</text>
<text class="t" x="955.3" y="3419.8" font-size="60.5" text-anchor="middle">1800</text>
<text class="t" x="1160.2" y="3419.8" font-size="60.5" text-anchor="middle">1600</text>
<text class="t" x="1365.1" y="3419.8" font-size="60.5" text-anchor="middle">1400</text>
<text class="t" x="1570" y="3419.8" font-size="60.5" text-anchor="middle">1200</text>
<text class="t" x="1774.9" y="3419.8" font-size="60.5" text-anchor="middle">1000</text>
<text class="t" x="1979.8" y="3419.8" font-size="60.5" text-anchor="middle">800</text>
<text class="s" x="86.9" y="2937.0" font-size="75.8775" textLength="517.3" lengthAdjust="spacingAndGlyphs" transform="rotate(-90 86.9 2937.0)">Adsorbance/a.u.</text>
</svg>
</body></html>
